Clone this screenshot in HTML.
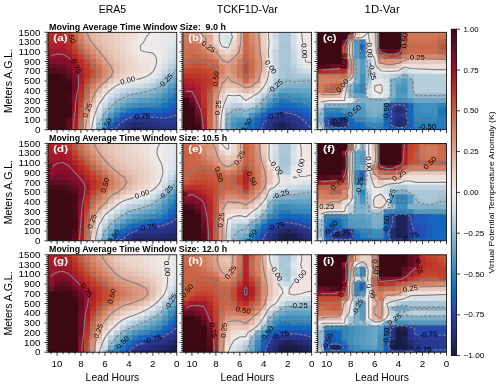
<!DOCTYPE html>
<html><head><meta charset="utf-8"><title>fig</title><style>html,body{margin:0;padding:0;background:#fff}svg{display:block;will-change:transform;font-family:"Liberation Sans",sans-serif}</style></head><body>
<svg width="500" height="386" viewBox="0 0 500 386" font-family="&quot;Liberation Sans&quot;, sans-serif">
<rect width="500" height="386" fill="#fff"/>
<defs>
<clipPath id="c00"><rect x="48.1" y="32.3" width="128.7" height="97.4"/></clipPath>
<clipPath id="c01"><rect x="182.95" y="32.3" width="128.7" height="97.4"/></clipPath>
<clipPath id="c02"><rect x="317.8" y="32.3" width="128.7" height="97.4"/></clipPath>
<clipPath id="c10"><rect x="48.1" y="143.4" width="128.7" height="97.4"/></clipPath>
<clipPath id="c11"><rect x="182.95" y="143.4" width="128.7" height="97.4"/></clipPath>
<clipPath id="c12"><rect x="317.8" y="143.4" width="128.7" height="97.4"/></clipPath>
<clipPath id="c20"><rect x="48.1" y="254.8" width="128.7" height="97.4"/></clipPath>
<clipPath id="c21"><rect x="182.95" y="254.8" width="128.7" height="97.4"/></clipPath>
<clipPath id="c22"><rect x="317.8" y="254.8" width="128.7" height="97.4"/></clipPath>
<linearGradient id="cb" x1="0" y1="0" x2="0" y2="1"><stop offset="0.0000" stop-color="#3c0912"/><stop offset="0.0156" stop-color="#470a17"/><stop offset="0.0312" stop-color="#520c1b"/><stop offset="0.0469" stop-color="#5d0d20"/><stop offset="0.0625" stop-color="#690e25"/><stop offset="0.0781" stop-color="#750e2b"/><stop offset="0.0938" stop-color="#820f2e"/><stop offset="0.1094" stop-color="#8d102d"/><stop offset="0.1250" stop-color="#98112d"/><stop offset="0.1406" stop-color="#a2192b"/><stop offset="0.1562" stop-color="#ad212a"/><stop offset="0.1719" stop-color="#b72828"/><stop offset="0.1875" stop-color="#bc322a"/><stop offset="0.2031" stop-color="#c03d2c"/><stop offset="0.2188" stop-color="#c3472f"/><stop offset="0.2344" stop-color="#c65338"/><stop offset="0.2500" stop-color="#c85f41"/><stop offset="0.2656" stop-color="#cb694b"/><stop offset="0.2812" stop-color="#ce7456"/><stop offset="0.2969" stop-color="#d17d60"/><stop offset="0.3125" stop-color="#d4866a"/><stop offset="0.3281" stop-color="#d68e74"/><stop offset="0.3438" stop-color="#d9967e"/><stop offset="0.3594" stop-color="#db9e88"/><stop offset="0.3750" stop-color="#dea692"/><stop offset="0.3906" stop-color="#e1b19f"/><stop offset="0.4062" stop-color="#e4bcac"/><stop offset="0.4219" stop-color="#e7c6b8"/><stop offset="0.4375" stop-color="#e9cec2"/><stop offset="0.4531" stop-color="#ecd6cc"/><stop offset="0.4688" stop-color="#eeddd6"/><stop offset="0.4844" stop-color="#efe5e1"/><stop offset="0.5000" stop-color="#f1eceb"/><stop offset="0.5156" stop-color="#e8e8ea"/><stop offset="0.5312" stop-color="#dfe4e9"/><stop offset="0.5469" stop-color="#d5dfe7"/><stop offset="0.5625" stop-color="#cad9e3"/><stop offset="0.5781" stop-color="#bdd1de"/><stop offset="0.5938" stop-color="#b0cad9"/><stop offset="0.6094" stop-color="#a3c2d3"/><stop offset="0.6250" stop-color="#96bace"/><stop offset="0.6406" stop-color="#89b4cb"/><stop offset="0.6562" stop-color="#7baec7"/><stop offset="0.6719" stop-color="#6ea7c5"/><stop offset="0.6875" stop-color="#60a0c3"/><stop offset="0.7031" stop-color="#529ac1"/><stop offset="0.7188" stop-color="#4593c0"/><stop offset="0.7344" stop-color="#388bbe"/><stop offset="0.7500" stop-color="#2b84bd"/><stop offset="0.7656" stop-color="#217cbd"/><stop offset="0.7812" stop-color="#1974be"/><stop offset="0.7969" stop-color="#136bbe"/><stop offset="0.8125" stop-color="#1763bc"/><stop offset="0.8281" stop-color="#1b5bbb"/><stop offset="0.8438" stop-color="#1f53ba"/><stop offset="0.8594" stop-color="#2449b0"/><stop offset="0.8750" stop-color="#2a3ea0"/><stop offset="0.8906" stop-color="#293a96"/><stop offset="0.9062" stop-color="#28368d"/><stop offset="0.9219" stop-color="#273283"/><stop offset="0.9375" stop-color="#262e79"/><stop offset="0.9531" stop-color="#242a6d"/><stop offset="0.9688" stop-color="#20255f"/><stop offset="0.9844" stop-color="#1c2151"/><stop offset="1.0000" stop-color="#181c43"/></linearGradient>
</defs>
<!-- panel a -->
<g clip-path="url(#c00)"><g transform="translate(48.10,29.865) scale(5.9860,4.8700)">
<path d="M0 0h1.2v1.3h-1.2z" fill="#bc322a"/>
<path d="M1 0h1.2v1.3h-1.2z" fill="#b92b28"/>
<path d="M2 0h1.2v1.3h-1.2z" fill="#bb3029"/>
<path d="M3 0h1.2v1.3h-1.2z" fill="#c44a31"/>
<path d="M4 0h1.2v1.3h-1.2z" fill="#cc6c4e"/>
<path d="M5 0h1.2v1.3h-1.2z" fill="#d68d73"/>
<path d="M6 0h1.2v1.3h-1.2z" fill="#dfa895"/>
<path d="M7 0h1.2v1.3h-1.2z" fill="#e3b7a6"/>
<path d="M8 0h1.2v1.3h-1.2z" fill="#e6c2b2"/>
<path d="M9 0h1.2v1.3h-1.2z" fill="#e8c8bb"/>
<path d="M10 0h1.2v1.3h-1.2z" fill="#e9cdc1"/>
<path d="M11 0h1.2v1.3h-1.2z" fill="#ebd2c8"/>
<path d="M12 0h1.2v1.3h-1.2z" fill="#ecd7ce"/>
<path d="M13 0h1.2v1.3h-1.2z" fill="#eeddd5"/>
<path d="M14 0h1.2v1.3h-1.2z" fill="#efe2dd"/>
<path d="M15 0h1.2v1.3h-1.2z" fill="#f0e7e3"/>
<path d="M16 0h1.2v1.3h-1.2z" fill="#f1ebe9"/>
<path d="M17 0h1.2v1.3h-1.2z" fill="#f0ebeb"/>
<path d="M18 0h1.2v1.3h-1.2z" fill="#eeebeb"/>
<path d="M19 0h1.2v1.3h-1.2z" fill="#ebeaeb"/>
<path d="M20 0h1.2v1.3h-1.2z" fill="#e9e8ea"/>
<path d="M21 0h1.2v1.3h-1.2z" fill="#e5e7ea"/>
<path d="M0 1h1.2v1.3h-1.2z" fill="#b92a28"/>
<path d="M1 1h1.2v1.3h-1.2z" fill="#b62828"/>
<path d="M2 1h1.2v1.3h-1.2z" fill="#b92b28"/>
<path d="M3 1h1.2v1.3h-1.2z" fill="#c1402d"/>
<path d="M4 1h1.2v1.3h-1.2z" fill="#ca6446"/>
<path d="M5 1h1.2v1.3h-1.2z" fill="#d4866b"/>
<path d="M6 1h1.2v1.3h-1.2z" fill="#dca18b"/>
<path d="M7 1h1.2v1.3h-1.2z" fill="#e2b4a3"/>
<path d="M8 1h1.2v1.3h-1.2z" fill="#e5c1b1"/>
<path d="M9 1h1.2v1.3h-1.2z" fill="#e7c8ba"/>
<path d="M10 1h1.2v1.3h-1.2z" fill="#e9cdc1"/>
<path d="M11 1h1.2v1.3h-1.2z" fill="#ead2c8"/>
<path d="M12 1h1.2v1.3h-1.2z" fill="#ecd7ce"/>
<path d="M13 1h1.2v1.3h-1.2z" fill="#eeddd5"/>
<path d="M14 1h1.2v1.3h-1.2z" fill="#efe3de"/>
<path d="M15 1h1.2v1.3h-1.2z" fill="#f0e9e6"/>
<path d="M16 1h1.2v1.3h-1.2z" fill="#f1eceb"/>
<path d="M17 1h1.2v1.3h-1.2z" fill="#eeebeb"/>
<path d="M18 1h1.2v1.3h-1.2z" fill="#eceaeb"/>
<path d="M19 1h1.2v1.3h-1.2z" fill="#e9e9ea"/>
<path d="M20 1h1.2v1.3h-1.2z" fill="#e6e7ea"/>
<path d="M21 1h1.2v1.3h-1.2z" fill="#e0e5e9"/>
<path d="M0 2h1.2v1.3h-1.2z" fill="#b52729"/>
<path d="M1 2h1.2v1.3h-1.2z" fill="#b42629"/>
<path d="M2 2h1.2v1.3h-1.2z" fill="#b12429"/>
<path d="M3 2h1.2v1.3h-1.2z" fill="#bc332a"/>
<path d="M4 2h1.2v1.3h-1.2z" fill="#c7583b"/>
<path d="M5 2h1.2v1.3h-1.2z" fill="#d17c5f"/>
<path d="M6 2h1.2v1.3h-1.2z" fill="#d99780"/>
<path d="M7 2h1.2v1.3h-1.2z" fill="#e0ad9a"/>
<path d="M8 2h1.2v1.3h-1.2z" fill="#e4bcab"/>
<path d="M9 2h1.2v1.3h-1.2z" fill="#e7c5b7"/>
<path d="M10 2h1.2v1.3h-1.2z" fill="#e9ccbf"/>
<path d="M11 2h1.2v1.3h-1.2z" fill="#ead1c6"/>
<path d="M12 2h1.2v1.3h-1.2z" fill="#ecd6cd"/>
<path d="M13 2h1.2v1.3h-1.2z" fill="#eeddd6"/>
<path d="M14 2h1.2v1.3h-1.2z" fill="#efe5e1"/>
<path d="M15 2h1.2v1.3h-1.2z" fill="#f1ebe9"/>
<path d="M16 2h1.2v1.3h-1.2z" fill="#efebeb"/>
<path d="M17 2h1.2v1.3h-1.2z" fill="#edeaeb"/>
<path d="M18 2h1.2v1.3h-1.2z" fill="#ebe9eb"/>
<path d="M19 2h1.2v1.3h-1.2z" fill="#e7e8ea"/>
<path d="M20 2h1.2v1.3h-1.2z" fill="#e2e6ea"/>
<path d="M21 2h1.2v1.3h-1.2z" fill="#dbe2e8"/>
<path d="M0 3h1.2v1.3h-1.2z" fill="#ad212a"/>
<path d="M1 3h1.2v1.3h-1.2z" fill="#ac202a"/>
<path d="M2 3h1.2v1.3h-1.2z" fill="#aa1f2a"/>
<path d="M3 3h1.2v1.3h-1.2z" fill="#b82928"/>
<path d="M4 3h1.2v1.3h-1.2z" fill="#c34830"/>
<path d="M5 3h1.2v1.3h-1.2z" fill="#cc6d4f"/>
<path d="M6 3h1.2v1.3h-1.2z" fill="#d58a6f"/>
<path d="M7 3h1.2v1.3h-1.2z" fill="#dca08a"/>
<path d="M8 3h1.2v1.3h-1.2z" fill="#e1b2a0"/>
<path d="M9 3h1.2v1.3h-1.2z" fill="#e5c0b1"/>
<path d="M10 3h1.2v1.3h-1.2z" fill="#e8c9bb"/>
<path d="M11 3h1.2v1.3h-1.2z" fill="#eacfc4"/>
<path d="M12 3h1.2v1.3h-1.2z" fill="#ecd6cd"/>
<path d="M13 3h1.2v1.3h-1.2z" fill="#eeded7"/>
<path d="M14 3h1.2v1.3h-1.2z" fill="#f0e7e3"/>
<path d="M15 3h1.2v1.3h-1.2z" fill="#f0eceb"/>
<path d="M16 3h1.2v1.3h-1.2z" fill="#efebeb"/>
<path d="M17 3h1.2v1.3h-1.2z" fill="#eeebeb"/>
<path d="M18 3h1.2v1.3h-1.2z" fill="#ebe9eb"/>
<path d="M19 3h1.2v1.3h-1.2z" fill="#e6e7ea"/>
<path d="M20 3h1.2v1.3h-1.2z" fill="#dfe4e9"/>
<path d="M21 3h1.2v1.3h-1.2z" fill="#d5dfe7"/>
<path d="M0 4h1.2v1.3h-1.2z" fill="#a1182c"/>
<path d="M1 4h2.2v1.3h-2.2z" fill="#9f162c"/>
<path d="M3 4h1.2v1.3h-1.2z" fill="#ac202a"/>
<path d="M4 4h1.2v1.3h-1.2z" fill="#be372b"/>
<path d="M5 4h1.2v1.3h-1.2z" fill="#c7583c"/>
<path d="M6 4h1.2v1.3h-1.2z" fill="#d0785b"/>
<path d="M7 4h1.2v1.3h-1.2z" fill="#d79178"/>
<path d="M8 4h1.2v1.3h-1.2z" fill="#dea590"/>
<path d="M9 4h1.2v1.3h-1.2z" fill="#e3b7a6"/>
<path d="M10 4h1.2v1.3h-1.2z" fill="#e6c4b6"/>
<path d="M11 4h1.2v1.3h-1.2z" fill="#e9ccc0"/>
<path d="M12 4h1.2v1.3h-1.2z" fill="#ebd4ca"/>
<path d="M13 4h1.2v1.3h-1.2z" fill="#eeddd5"/>
<path d="M14 4h1.2v1.3h-1.2z" fill="#efe5e1"/>
<path d="M15 4h2.2v1.3h-2.2z" fill="#f1eceb"/>
<path d="M17 4h1.2v1.3h-1.2z" fill="#f0eceb"/>
<path d="M18 4h1.2v1.3h-1.2z" fill="#eceaeb"/>
<path d="M19 4h1.2v1.3h-1.2z" fill="#e5e7ea"/>
<path d="M20 4h1.2v1.3h-1.2z" fill="#dbe2e8"/>
<path d="M21 4h1.2v1.3h-1.2z" fill="#cfdce6"/>
<path d="M0 5h1.2v1.3h-1.2z" fill="#95112d"/>
<path d="M1 5h2.2v1.3h-2.2z" fill="#90102d"/>
<path d="M3 5h1.2v1.3h-1.2z" fill="#9c142c"/>
<path d="M4 5h1.2v1.3h-1.2z" fill="#b42629"/>
<path d="M5 5h1.2v1.3h-1.2z" fill="#c2422d"/>
<path d="M6 5h1.2v1.3h-1.2z" fill="#c96345"/>
<path d="M7 5h1.2v1.3h-1.2z" fill="#d27f63"/>
<path d="M8 5h1.2v1.3h-1.2z" fill="#d99780"/>
<path d="M9 5h1.2v1.3h-1.2z" fill="#e0ac99"/>
<path d="M10 5h1.2v1.3h-1.2z" fill="#e4bdad"/>
<path d="M11 5h1.2v1.3h-1.2z" fill="#e7c8ba"/>
<path d="M12 5h1.2v1.3h-1.2z" fill="#ead1c6"/>
<path d="M13 5h1.2v1.3h-1.2z" fill="#ecd9d0"/>
<path d="M14 5h1.2v1.3h-1.2z" fill="#eee0da"/>
<path d="M15 5h1.2v1.3h-1.2z" fill="#f0e5e1"/>
<path d="M16 5h1.2v1.3h-1.2z" fill="#f0e8e5"/>
<path d="M17 5h1.2v1.3h-1.2z" fill="#f0eae8"/>
<path d="M18 5h1.2v1.3h-1.2z" fill="#eeebeb"/>
<path d="M19 5h1.2v1.3h-1.2z" fill="#e3e6ea"/>
<path d="M20 5h1.2v1.3h-1.2z" fill="#d5e0e7"/>
<path d="M21 5h1.2v1.3h-1.2z" fill="#c5d6e1"/>
<path d="M0 6h1.2v1.3h-1.2z" fill="#800f2e"/>
<path d="M1 6h1.2v1.3h-1.2z" fill="#7f0f2e"/>
<path d="M2 6h1.2v1.3h-1.2z" fill="#800f2e"/>
<path d="M3 6h1.2v1.3h-1.2z" fill="#8c102d"/>
<path d="M4 6h1.2v1.3h-1.2z" fill="#a41a2b"/>
<path d="M5 6h1.2v1.3h-1.2z" fill="#bb3029"/>
<path d="M6 6h1.2v1.3h-1.2z" fill="#c44c33"/>
<path d="M7 6h1.2v1.3h-1.2z" fill="#cc6b4d"/>
<path d="M8 6h1.2v1.3h-1.2z" fill="#d4886c"/>
<path d="M9 6h1.2v1.3h-1.2z" fill="#dc9f8a"/>
<path d="M10 6h1.2v1.3h-1.2z" fill="#e2b3a1"/>
<path d="M11 6h1.2v1.3h-1.2z" fill="#e6c2b3"/>
<path d="M12 6h1.2v1.3h-1.2z" fill="#e9ccc0"/>
<path d="M13 6h1.2v1.3h-1.2z" fill="#ebd5cb"/>
<path d="M14 6h1.2v1.3h-1.2z" fill="#eddcd4"/>
<path d="M15 6h1.2v1.3h-1.2z" fill="#efe1db"/>
<path d="M16 6h1.2v1.3h-1.2z" fill="#efe4df"/>
<path d="M17 6h1.2v1.3h-1.2z" fill="#f0e7e4"/>
<path d="M18 6h1.2v1.3h-1.2z" fill="#eeebeb"/>
<path d="M19 6h1.2v1.3h-1.2z" fill="#dfe4e9"/>
<path d="M20 6h1.2v1.3h-1.2z" fill="#cddbe5"/>
<path d="M21 6h1.2v1.3h-1.2z" fill="#b7cedc"/>
<path d="M0 7h1.2v1.3h-1.2z" fill="#650d24"/>
<path d="M1 7h1.2v1.3h-1.2z" fill="#680e25"/>
<path d="M2 7h1.2v1.3h-1.2z" fill="#6d0e27"/>
<path d="M3 7h1.2v1.3h-1.2z" fill="#7e0f2e"/>
<path d="M4 7h1.2v1.3h-1.2z" fill="#98112d"/>
<path d="M5 7h1.2v1.3h-1.2z" fill="#b22529"/>
<path d="M6 7h1.2v1.3h-1.2z" fill="#c03d2c"/>
<path d="M7 7h1.2v1.3h-1.2z" fill="#c7583c"/>
<path d="M8 7h1.2v1.3h-1.2z" fill="#cf7759"/>
<path d="M9 7h1.2v1.3h-1.2z" fill="#d89279"/>
<path d="M10 7h1.2v1.3h-1.2z" fill="#dea793"/>
<path d="M11 7h1.2v1.3h-1.2z" fill="#e4bbaa"/>
<path d="M12 7h1.2v1.3h-1.2z" fill="#e8c9bc"/>
<path d="M13 7h1.2v1.3h-1.2z" fill="#ebd3c8"/>
<path d="M14 7h1.2v1.3h-1.2z" fill="#edd9d1"/>
<path d="M15 7h1.2v1.3h-1.2z" fill="#eeded7"/>
<path d="M16 7h1.2v1.3h-1.2z" fill="#efe2dd"/>
<path d="M17 7h1.2v1.3h-1.2z" fill="#f0e7e4"/>
<path d="M18 7h1.2v1.3h-1.2z" fill="#eae9ea"/>
<path d="M19 7h1.2v1.3h-1.2z" fill="#d6e0e7"/>
<path d="M20 7h1.2v1.3h-1.2z" fill="#bed2de"/>
<path d="M21 7h1.2v1.3h-1.2z" fill="#a6c4d5"/>
<path d="M0 8h1.2v1.3h-1.2z" fill="#4e0b1a"/>
<path d="M1 8h1.2v1.3h-1.2z" fill="#520c1c"/>
<path d="M2 8h1.2v1.3h-1.2z" fill="#5a0c1f"/>
<path d="M3 8h1.2v1.3h-1.2z" fill="#6e0e28"/>
<path d="M4 8h1.2v1.3h-1.2z" fill="#8d102d"/>
<path d="M5 8h1.2v1.3h-1.2z" fill="#ab1f2a"/>
<path d="M6 8h1.2v1.3h-1.2z" fill="#bd352a"/>
<path d="M7 8h1.2v1.3h-1.2z" fill="#c44d33"/>
<path d="M8 8h1.2v1.3h-1.2z" fill="#cc6b4d"/>
<path d="M9 8h1.2v1.3h-1.2z" fill="#d58b70"/>
<path d="M10 8h1.2v1.3h-1.2z" fill="#dca08a"/>
<path d="M11 8h1.2v1.3h-1.2z" fill="#e3b8a7"/>
<path d="M12 8h1.2v1.3h-1.2z" fill="#e8cabe"/>
<path d="M13 8h1.2v1.3h-1.2z" fill="#ebd5cb"/>
<path d="M14 8h1.2v1.3h-1.2z" fill="#eddbd3"/>
<path d="M15 8h1.2v1.3h-1.2z" fill="#eee0d9"/>
<path d="M16 8h1.2v1.3h-1.2z" fill="#efe4df"/>
<path d="M17 8h1.2v1.3h-1.2z" fill="#f1ebe9"/>
<path d="M18 8h1.2v1.3h-1.2z" fill="#e1e5ea"/>
<path d="M19 8h1.2v1.3h-1.2z" fill="#c7d8e2"/>
<path d="M20 8h1.2v1.3h-1.2z" fill="#aac6d6"/>
<path d="M21 8h1.2v1.3h-1.2z" fill="#90b7cd"/>
<path d="M0 9h1.2v1.3h-1.2z" fill="#3c0912"/>
<path d="M1 9h1.2v1.3h-1.2z" fill="#3f0913"/>
<path d="M2 9h1.2v1.3h-1.2z" fill="#460a16"/>
<path d="M3 9h1.2v1.3h-1.2z" fill="#5b0c1f"/>
<path d="M4 9h1.2v1.3h-1.2z" fill="#830f2e"/>
<path d="M5 9h1.2v1.3h-1.2z" fill="#a81d2b"/>
<path d="M6 9h1.2v1.3h-1.2z" fill="#be372b"/>
<path d="M7 9h1.2v1.3h-1.2z" fill="#c55237"/>
<path d="M8 9h1.2v1.3h-1.2z" fill="#ce7355"/>
<path d="M9 9h1.2v1.3h-1.2z" fill="#d79076"/>
<path d="M10 9h1.2v1.3h-1.2z" fill="#dea591"/>
<path d="M11 9h1.2v1.3h-1.2z" fill="#e6c3b4"/>
<path d="M12 9h1.2v1.3h-1.2z" fill="#ebd3c9"/>
<path d="M13 9h1.2v1.3h-1.2z" fill="#eedcd5"/>
<path d="M14 9h1.2v1.3h-1.2z" fill="#efe2dc"/>
<path d="M15 9h1.2v1.3h-1.2z" fill="#f0e6e2"/>
<path d="M16 9h1.2v1.3h-1.2z" fill="#f1ebe9"/>
<path d="M17 9h1.2v1.3h-1.2z" fill="#e7e8ea"/>
<path d="M18 9h1.2v1.3h-1.2z" fill="#d2dee6"/>
<path d="M19 9h1.2v1.3h-1.2z" fill="#b1cbd9"/>
<path d="M20 9h1.2v1.3h-1.2z" fill="#92b8cd"/>
<path d="M21 9h1.2v1.3h-1.2z" fill="#79acc7"/>
<path d="M0 10h3.2v1.3h-3.2z" fill="#3c0912"/>
<path d="M3 10h1.2v1.3h-1.2z" fill="#480a17"/>
<path d="M4 10h1.2v1.3h-1.2z" fill="#7a0f2c"/>
<path d="M5 10h1.2v1.3h-1.2z" fill="#ac202a"/>
<path d="M6 10h1.2v1.3h-1.2z" fill="#c2442e"/>
<path d="M7 10h1.2v1.3h-1.2z" fill="#cb684a"/>
<path d="M8 10h1.2v1.3h-1.2z" fill="#d4876c"/>
<path d="M9 10h1.2v1.3h-1.2z" fill="#dca18c"/>
<path d="M10 10h1.2v1.3h-1.2z" fill="#e6c2b3"/>
<path d="M11 10h1.2v1.3h-1.2z" fill="#ecd7ce"/>
<path d="M12 10h1.2v1.3h-1.2z" fill="#efe3df"/>
<path d="M13 10h1.2v1.3h-1.2z" fill="#f1eae8"/>
<path d="M14 10h1.2v1.3h-1.2z" fill="#eeebeb"/>
<path d="M15 10h1.2v1.3h-1.2z" fill="#e8e8ea"/>
<path d="M16 10h1.2v1.3h-1.2z" fill="#e0e4e9"/>
<path d="M17 10h1.2v1.3h-1.2z" fill="#d1dee6"/>
<path d="M18 10h1.2v1.3h-1.2z" fill="#b9cfdc"/>
<path d="M19 10h1.2v1.3h-1.2z" fill="#99bccf"/>
<path d="M20 10h1.2v1.3h-1.2z" fill="#78acc7"/>
<path d="M21 10h1.2v1.3h-1.2z" fill="#5d9fc2"/>
<path d="M0 11h4.2v1.3h-4.2z" fill="#3c0912"/>
<path d="M4 11h1.2v1.3h-1.2z" fill="#6f0e28"/>
<path d="M5 11h1.2v1.3h-1.2z" fill="#b42629"/>
<path d="M6 11h1.2v1.3h-1.2z" fill="#c6563a"/>
<path d="M7 11h1.2v1.3h-1.2z" fill="#d28064"/>
<path d="M8 11h1.2v1.3h-1.2z" fill="#dca08b"/>
<path d="M9 11h1.2v1.3h-1.2z" fill="#e6c3b4"/>
<path d="M10 11h1.2v1.3h-1.2z" fill="#eeddd5"/>
<path d="M11 11h1.2v1.3h-1.2z" fill="#eeebeb"/>
<path d="M12 11h1.2v1.3h-1.2z" fill="#e3e6ea"/>
<path d="M13 11h1.2v1.3h-1.2z" fill="#dbe2e8"/>
<path d="M14 11h1.2v1.3h-1.2z" fill="#d4dfe7"/>
<path d="M15 11h1.2v1.3h-1.2z" fill="#ccdbe4"/>
<path d="M16 11h1.2v1.3h-1.2z" fill="#c1d4e0"/>
<path d="M17 11h1.2v1.3h-1.2z" fill="#b2cbd9"/>
<path d="M18 11h1.2v1.3h-1.2z" fill="#9ebfd2"/>
<path d="M19 11h1.2v1.3h-1.2z" fill="#7fafc8"/>
<path d="M20 11h1.2v1.3h-1.2z" fill="#5b9ec2"/>
<path d="M21 11h1.2v1.3h-1.2z" fill="#3e8fbf"/>
<path d="M0 12h3.2v1.3h-3.2z" fill="#3c0912"/>
<path d="M3 12h1.2v1.3h-1.2z" fill="#3d0912"/>
<path d="M4 12h1.2v1.3h-1.2z" fill="#790f2c"/>
<path d="M5 12h1.2v1.3h-1.2z" fill="#ba2c28"/>
<path d="M6 12h1.2v1.3h-1.2z" fill="#c96244"/>
<path d="M7 12h1.2v1.3h-1.2z" fill="#d79178"/>
<path d="M8 12h1.2v1.3h-1.2z" fill="#e4bbaa"/>
<path d="M9 12h1.2v1.3h-1.2z" fill="#eddbd3"/>
<path d="M10 12h1.2v1.3h-1.2z" fill="#eae9eb"/>
<path d="M11 12h1.2v1.3h-1.2z" fill="#d6e0e7"/>
<path d="M12 12h1.2v1.3h-1.2z" fill="#c7d7e2"/>
<path d="M13 12h1.2v1.3h-1.2z" fill="#bacfdd"/>
<path d="M14 12h1.2v1.3h-1.2z" fill="#afc9d8"/>
<path d="M15 12h1.2v1.3h-1.2z" fill="#a5c3d4"/>
<path d="M16 12h1.2v1.3h-1.2z" fill="#9cbed1"/>
<path d="M17 12h1.2v1.3h-1.2z" fill="#90b7cd"/>
<path d="M18 12h1.2v1.3h-1.2z" fill="#7caec8"/>
<path d="M19 12h1.2v1.3h-1.2z" fill="#5fa0c3"/>
<path d="M20 12h1.2v1.3h-1.2z" fill="#3e8fbf"/>
<path d="M21 12h1.2v1.3h-1.2z" fill="#2580bd"/>
<path d="M0 13h3.2v1.3h-3.2z" fill="#3c0912"/>
<path d="M3 13h1.2v1.3h-1.2z" fill="#460a16"/>
<path d="M4 13h1.2v1.3h-1.2z" fill="#87102e"/>
<path d="M5 13h1.2v1.3h-1.2z" fill="#bc332a"/>
<path d="M6 13h1.2v1.3h-1.2z" fill="#cd6f51"/>
<path d="M7 13h1.2v1.3h-1.2z" fill="#dca18c"/>
<path d="M8 13h1.2v1.3h-1.2z" fill="#eacfc4"/>
<path d="M9 13h1.2v1.3h-1.2z" fill="#f0eceb"/>
<path d="M10 13h1.2v1.3h-1.2z" fill="#d5dfe7"/>
<path d="M11 13h1.2v1.3h-1.2z" fill="#bad0dd"/>
<path d="M12 13h1.2v1.3h-1.2z" fill="#a5c3d4"/>
<path d="M13 13h1.2v1.3h-1.2z" fill="#95bace"/>
<path d="M14 13h1.2v1.3h-1.2z" fill="#89b4cb"/>
<path d="M15 13h1.2v1.3h-1.2z" fill="#80b0c9"/>
<path d="M16 13h1.2v1.3h-1.2z" fill="#79acc7"/>
<path d="M17 13h1.2v1.3h-1.2z" fill="#6ea7c5"/>
<path d="M18 13h1.2v1.3h-1.2z" fill="#5c9ec2"/>
<path d="M19 13h1.2v1.3h-1.2z" fill="#4391bf"/>
<path d="M20 13h1.2v1.3h-1.2z" fill="#2782bd"/>
<path d="M21 13h1.2v1.3h-1.2z" fill="#1b75be"/>
<path d="M0 14h3.2v1.3h-3.2z" fill="#3c0912"/>
<path d="M3 14h1.2v1.3h-1.2z" fill="#460a16"/>
<path d="M4 14h1.2v1.3h-1.2z" fill="#8e102d"/>
<path d="M5 14h1.2v1.3h-1.2z" fill="#bf3b2c"/>
<path d="M6 14h1.2v1.3h-1.2z" fill="#d17c5f"/>
<path d="M7 14h1.2v1.3h-1.2z" fill="#e2b5a3"/>
<path d="M8 14h1.2v1.3h-1.2z" fill="#efe0da"/>
<path d="M9 14h1.2v1.3h-1.2z" fill="#dde3e9"/>
<path d="M10 14h1.2v1.3h-1.2z" fill="#bad0dd"/>
<path d="M11 14h1.2v1.3h-1.2z" fill="#9cbdd0"/>
<path d="M12 14h1.2v1.3h-1.2z" fill="#83b1c9"/>
<path d="M13 14h1.2v1.3h-1.2z" fill="#70a8c5"/>
<path d="M14 14h1.2v1.3h-1.2z" fill="#64a2c3"/>
<path d="M15 14h1.2v1.3h-1.2z" fill="#5c9fc2"/>
<path d="M16 14h1.2v1.3h-1.2z" fill="#569cc1"/>
<path d="M17 14h1.2v1.3h-1.2z" fill="#4e97c0"/>
<path d="M18 14h1.2v1.3h-1.2z" fill="#4090bf"/>
<path d="M19 14h1.2v1.3h-1.2z" fill="#2b85bd"/>
<path d="M20 14h1.2v1.3h-1.2z" fill="#1b76be"/>
<path d="M21 14h1.2v1.3h-1.2z" fill="#136abe"/>
<path d="M0 15h4.2v1.3h-4.2z" fill="#3c0912"/>
<path d="M4 15h1.2v1.3h-1.2z" fill="#92112d"/>
<path d="M5 15h1.2v1.3h-1.2z" fill="#c2442e"/>
<path d="M6 15h1.2v1.3h-1.2z" fill="#d58b70"/>
<path d="M7 15h1.2v1.3h-1.2z" fill="#e8c9bb"/>
<path d="M8 15h1.2v1.3h-1.2z" fill="#eceaeb"/>
<path d="M9 15h1.2v1.3h-1.2z" fill="#c5d6e1"/>
<path d="M10 15h1.2v1.3h-1.2z" fill="#9dbed1"/>
<path d="M11 15h1.2v1.3h-1.2z" fill="#79acc7"/>
<path d="M12 15h1.2v1.3h-1.2z" fill="#5a9ec2"/>
<path d="M13 15h1.2v1.3h-1.2z" fill="#4693c0"/>
<path d="M14 15h1.2v1.3h-1.2z" fill="#3b8dbf"/>
<path d="M15 15h1.2v1.3h-1.2z" fill="#368abe"/>
<path d="M16 15h1.2v1.3h-1.2z" fill="#3389be"/>
<path d="M17 15h1.2v1.3h-1.2z" fill="#2d86bd"/>
<path d="M18 15h1.2v1.3h-1.2z" fill="#247fbd"/>
<path d="M19 15h1.2v1.3h-1.2z" fill="#1974be"/>
<path d="M20 15h1.2v1.3h-1.2z" fill="#1467bd"/>
<path d="M21 15h1.2v1.3h-1.2z" fill="#1a5ebb"/>
<path d="M0 16h4.2v1.3h-4.2z" fill="#3c0912"/>
<path d="M4 16h1.2v1.3h-1.2z" fill="#94112d"/>
<path d="M5 16h1.2v1.3h-1.2z" fill="#c54e34"/>
<path d="M6 16h1.2v1.3h-1.2z" fill="#d99880"/>
<path d="M7 16h1.2v1.3h-1.2z" fill="#ecd6cd"/>
<path d="M8 16h1.2v1.3h-1.2z" fill="#dbe2e8"/>
<path d="M9 16h1.2v1.3h-1.2z" fill="#a8c5d5"/>
<path d="M10 16h1.2v1.3h-1.2z" fill="#7aadc7"/>
<path d="M11 16h1.2v1.3h-1.2z" fill="#4f98c0"/>
<path d="M12 16h1.2v1.3h-1.2z" fill="#2e86be"/>
<path d="M13 16h1.2v1.3h-1.2z" fill="#1d78bd"/>
<path d="M14 16h1.2v1.3h-1.2z" fill="#1670be"/>
<path d="M15 16h1.2v1.3h-1.2z" fill="#136dbe"/>
<path d="M16 16h1.2v1.3h-1.2z" fill="#136bbe"/>
<path d="M17 16h1.2v1.3h-1.2z" fill="#1369be"/>
<path d="M18 16h1.2v1.3h-1.2z" fill="#1566bd"/>
<path d="M19 16h1.2v1.3h-1.2z" fill="#195fbc"/>
<path d="M20 16h1.2v1.3h-1.2z" fill="#1d58ba"/>
<path d="M21 16h1.2v1.3h-1.2z" fill="#2151b9"/>
<path d="M0 17h3.2v1.3h-3.2z" fill="#3c0912"/>
<path d="M3 17h1.2v1.3h-1.2z" fill="#3f0913"/>
<path d="M4 17h1.2v1.3h-1.2z" fill="#a2192b"/>
<path d="M5 17h1.2v1.3h-1.2z" fill="#c6573b"/>
<path d="M6 17h1.2v1.3h-1.2z" fill="#dda38e"/>
<path d="M7 17h1.2v1.3h-1.2z" fill="#efe1dc"/>
<path d="M8 17h1.2v1.3h-1.2z" fill="#c7d8e2"/>
<path d="M9 17h1.2v1.3h-1.2z" fill="#88b4cb"/>
<path d="M10 17h1.2v1.3h-1.2z" fill="#5098c1"/>
<path d="M11 17h1.2v1.3h-1.2z" fill="#237ebd"/>
<path d="M12 17h1.2v1.3h-1.2z" fill="#1566bd"/>
<path d="M13 17h1.2v1.3h-1.2z" fill="#1e56ba"/>
<path d="M14 17h1.2v1.3h-1.2z" fill="#214fb8"/>
<path d="M15 17h1.2v1.3h-1.2z" fill="#234cb4"/>
<path d="M16 17h1.2v1.3h-1.2z" fill="#244ab1"/>
<path d="M17 17h1.2v1.3h-1.2z" fill="#234cb4"/>
<path d="M18 17h1.2v1.3h-1.2z" fill="#224db5"/>
<path d="M19 17h1.2v1.3h-1.2z" fill="#234cb3"/>
<path d="M20 17h1.2v1.3h-1.2z" fill="#2745aa"/>
<path d="M21 17h1.2v1.3h-1.2z" fill="#2a3e9f"/>
<path d="M0 18h3.2v1.3h-3.2z" fill="#3c0912"/>
<path d="M3 18h1.2v1.3h-1.2z" fill="#520c1b"/>
<path d="M4 18h1.2v1.3h-1.2z" fill="#a81d2b"/>
<path d="M5 18h1.2v1.3h-1.2z" fill="#c86042"/>
<path d="M6 18h1.2v1.3h-1.2z" fill="#e1b19f"/>
<path d="M7 18h1.2v1.3h-1.2z" fill="#f1ebe9"/>
<path d="M8 18h1.2v1.3h-1.2z" fill="#b0cad9"/>
<path d="M9 18h1.2v1.3h-1.2z" fill="#67a4c4"/>
<path d="M10 18h1.2v1.3h-1.2z" fill="#2883bd"/>
<path d="M11 18h1.2v1.3h-1.2z" fill="#1861bc"/>
<path d="M12 18h1.2v1.3h-1.2z" fill="#2744a8"/>
<path d="M13 18h1.2v1.3h-1.2z" fill="#293993"/>
<path d="M14 18h1.2v1.3h-1.2z" fill="#28368c"/>
<path d="M15 18h1.2v1.3h-1.2z" fill="#28358b"/>
<path d="M16 18h1.2v1.3h-1.2z" fill="#28368d"/>
<path d="M17 18h1.2v1.3h-1.2z" fill="#293891"/>
<path d="M18 18h1.2v1.3h-1.2z" fill="#293a95"/>
<path d="M19 18h1.2v1.3h-1.2z" fill="#293b98"/>
<path d="M20 18h1.2v1.3h-1.2z" fill="#293a95"/>
<path d="M21 18h1.2v1.3h-1.2z" fill="#293993"/>
<path d="M0 19h3.2v1.3h-3.2z" fill="#3c0912"/>
<path d="M3 19h1.2v1.3h-1.2z" fill="#580c1e"/>
<path d="M4 19h1.2v1.3h-1.2z" fill="#ac202a"/>
<path d="M5 19h1.2v1.3h-1.2z" fill="#ca6648"/>
<path d="M6 19h1.2v1.3h-1.2z" fill="#e4baaa"/>
<path d="M7 19h1.2v1.3h-1.2z" fill="#eae9eb"/>
<path d="M8 19h1.2v1.3h-1.2z" fill="#95b9ce"/>
<path d="M9 19h1.2v1.3h-1.2z" fill="#4090bf"/>
<path d="M10 19h1.2v1.3h-1.2z" fill="#1861bc"/>
<path d="M11 19h1.2v1.3h-1.2z" fill="#2645aa"/>
<path d="M12 19h1.2v1.3h-1.2z" fill="#28378f"/>
<path d="M13 19h1.2v1.3h-1.2z" fill="#262f7b"/>
<path d="M14 19h1.2v1.3h-1.2z" fill="#232a6c"/>
<path d="M15 19h1.2v1.3h-1.2z" fill="#242b6f"/>
<path d="M16 19h1.2v1.3h-1.2z" fill="#262e77"/>
<path d="M17 19h1.2v1.3h-1.2z" fill="#27307e"/>
<path d="M18 19h1.2v1.3h-1.2z" fill="#273283"/>
<path d="M19 19h3.2v1.3h-3.2z" fill="#283487"/>
<path d="M0 20h3.2v1.3h-3.2z" fill="#3c0912"/>
<path d="M3 20h1.2v1.3h-1.2z" fill="#5f0d21"/>
<path d="M4 20h1.2v1.3h-1.2z" fill="#b12429"/>
<path d="M5 20h1.2v1.3h-1.2z" fill="#cc6d4f"/>
<path d="M6 20h1.2v1.3h-1.2z" fill="#e6c2b3"/>
<path d="M7 20h1.2v1.3h-1.2z" fill="#e0e5e9"/>
<path d="M8 20h1.2v1.3h-1.2z" fill="#74aac6"/>
<path d="M9 20h1.2v1.3h-1.2z" fill="#1d77be"/>
<path d="M10 20h1.2v1.3h-1.2z" fill="#293c9a"/>
<path d="M11 20h1.2v1.3h-1.2z" fill="#2a3c9c"/>
<path d="M12 20h1.2v1.3h-1.2z" fill="#273385"/>
<path d="M13 20h1.2v1.3h-1.2z" fill="#23296b"/>
<path d="M14 20h1.2v1.3h-1.2z" fill="#1c2152"/>
<path d="M15 20h1.2v1.3h-1.2z" fill="#1f245b"/>
<path d="M16 20h1.2v1.3h-1.2z" fill="#212866"/>
<path d="M17 20h1.2v1.3h-1.2z" fill="#242b6f"/>
<path d="M18 20h1.2v1.3h-1.2z" fill="#262d77"/>
<path d="M19 20h1.2v1.3h-1.2z" fill="#262f7b"/>
<path d="M20 20h1.2v1.3h-1.2z" fill="#27307d"/>
<path d="M21 20h1.2v1.3h-1.2z" fill="#27307e"/>
</g></g>
<g clip-path="url(#c00)" fill="none" stroke="#808080" stroke-width="1.1" stroke-linejoin="round">
<path d="M110.4 129.7L111.0 129.0L116.9 127.8L118.6 124.8L122.9 121.1L124.6 120.0L128.9 118.2L131.9 117.7M150.6 117.1L158.8 117.8L164.8 118.0L170.8 116.9L176.8 114.9" stroke-dasharray="3,1.6"/>
<path d="M112.0 118.6L116.9 114.0L122.9 110.5L128.9 108.2L134.9 107.0L152.9 105.7L158.8 103.9L165.1 100.5L170.8 94.8L176.8 89.4" stroke-dasharray="3,1.6"/>
<path d="M97.2 129.7L99.0 124.6L101.2 120.0L105.0 113.0L107.3 110.2L111.0 106.4L116.9 101.3L122.9 97.8L128.9 95.5L134.9 93.9L146.9 91.6L152.9 89.9L158.2 87.4M172.0 74.3L176.8 70.0" stroke-dasharray="3,1.6"/>
<path d="M91.4 129.7L93.2 120.0L94.5 115.1L96.3 110.2L99.0 104.1L105.0 95.4L109.5 90.7L111.0 89.5L116.0 85.9L116.9 85.3L120.3 84.1M136.4 79.6L140.9 78.4L147.6 76.1L152.9 71.8L153.3 71.3L155.5 66.4L156.8 61.5L155.9 56.6L152.9 53.1L146.9 52.0L144.3 51.8L140.9 50.4L140.2 46.9L140.9 45.1L143.6 42.0L146.9 36.1L150.0 32.3"/>
<path d="M85.3 129.7L86.5 119.2M91.0 102.6L93.0 97.1L96.5 90.7L99.0 87.3L100.3 85.9L106.1 81.0L111.2 76.1L112.9 71.3L110.8 66.4L107.5 61.5L95.5 46.9L93.0 44.2L91.5 42.0L87.0 33.4L86.7 32.3"/>
<path d="M79.9 129.7L82.1 110.2L84.1 100.5L87.0 89.2L88.1 85.9L91.4 81.0L95.1 76.1L96.4 71.3L94.2 66.4L90.4 61.5L81.0 50.4L78.5 46.9L76.8 43.4"/>
<path d="M73.0 129.7L74.4 115.1L75.4 110.2L75.5 105.3L76.0 100.5L76.6 95.6L77.7 90.7L78.4 85.9L78.5 81.0L78.3 76.1L78.0 74.7M70.5 59.7L69.1 57.9L63.1 54.2L57.1 54.1L51.1 55.5"/>
</g>
<g clip-path="url(#c00)" font-size="7.2" fill="#000" text-anchor="middle">
<text transform="translate(71.5,35.9) rotate(75)" y="2.5" textLength="15.1" lengthAdjust="spacingAndGlyphs">0.50</text>
<text transform="translate(76.3,66.2) rotate(65)" y="2.5" textLength="15.1" lengthAdjust="spacingAndGlyphs">0.75</text>
<text transform="translate(87.5,110.4) rotate(-70)" y="2.5" textLength="15.1" lengthAdjust="spacingAndGlyphs">0.25</text>
<text transform="translate(127.7,80.4) rotate(-15)" y="2.5" textLength="15.1" lengthAdjust="spacingAndGlyphs">0.00</text>
<text transform="translate(165.3,80.9) rotate(-45)" y="2.5" textLength="17.6" lengthAdjust="spacingAndGlyphs">-0.25</text>
<text transform="translate(105.8,126.5) rotate(-65)" y="2.5" textLength="17.6" lengthAdjust="spacingAndGlyphs">-0.50</text>
<text transform="translate(141.1,116.3) rotate(-5)" y="2.5" textLength="17.6" lengthAdjust="spacingAndGlyphs">-0.75</text>
</g>
<rect x="48.1" y="32.3" width="128.7" height="97.4" fill="none" stroke="#000" stroke-width="0.8"/>
<path d="M176.80,129.70v3.5 M170.81,129.70v2.0 M164.83,129.70v2.0 M158.84,129.70v2.0 M152.86,129.70v3.5 M146.87,129.70v2.0 M140.88,129.70v2.0 M134.90,129.70v2.0 M128.91,129.70v3.5 M122.93,129.70v2.0 M116.94,129.70v2.0 M110.95,129.70v2.0 M104.97,129.70v3.5 M98.98,129.70v2.0 M93.00,129.70v2.0 M87.01,129.70v2.0 M81.02,129.70v3.5 M75.04,129.70v2.0 M69.05,129.70v2.0 M63.07,129.70v2.0 M57.08,129.70v3.5 M51.09,129.70v2.0 M48.10,129.70h-3.5 M48.10,127.75h-2.0 M48.10,125.80h-2.0 M48.10,123.86h-2.0 M48.10,121.91h-2.0 M48.10,119.96h-3.5 M48.10,118.01h-2.0 M48.10,116.06h-2.0 M48.10,114.12h-2.0 M48.10,112.17h-2.0 M48.10,110.22h-3.5 M48.10,108.27h-2.0 M48.10,106.32h-2.0 M48.10,104.38h-2.0 M48.10,102.43h-2.0 M48.10,100.48h-3.5 M48.10,98.53h-2.0 M48.10,96.58h-2.0 M48.10,94.64h-2.0 M48.10,92.69h-2.0 M48.10,90.74h-3.5 M48.10,88.79h-2.0 M48.10,86.84h-2.0 M48.10,84.90h-2.0 M48.10,82.95h-2.0 M48.10,81.00h-3.5 M48.10,79.05h-2.0 M48.10,77.10h-2.0 M48.10,75.16h-2.0 M48.10,73.21h-2.0 M48.10,71.26h-3.5 M48.10,69.31h-2.0 M48.10,67.36h-2.0 M48.10,65.42h-2.0 M48.10,63.47h-2.0 M48.10,61.52h-3.5 M48.10,59.57h-2.0 M48.10,57.62h-2.0 M48.10,55.68h-2.0 M48.10,53.73h-2.0 M48.10,51.78h-3.5 M48.10,49.83h-2.0 M48.10,47.88h-2.0 M48.10,45.94h-2.0 M48.10,43.99h-2.0 M48.10,42.04h-3.5 M48.10,40.09h-2.0 M48.10,38.14h-2.0 M48.10,36.20h-2.0 M48.10,34.25h-2.0 M48.10,32.30h-3.5" stroke="#000" stroke-width="0.8" fill="none"/>
<text x="53.30" y="41.20" font-size="9.6" text-anchor="start" fill="#fff" font-weight="bold" textLength="14.30" lengthAdjust="spacingAndGlyphs">(a)</text>
<!-- panel b -->
<g clip-path="url(#c01)"><g transform="translate(182.95,29.865) scale(5.9860,4.8700)">
<path d="M0 0h1.2v1.3h-1.2z" fill="#d28266"/>
<path d="M1 0h1.2v1.3h-1.2z" fill="#d79279"/>
<path d="M2 0h1.2v1.3h-1.2z" fill="#dda38f"/>
<path d="M3 0h1.2v1.3h-1.2z" fill="#e1b19f"/>
<path d="M4 0h1.2v1.3h-1.2z" fill="#e6c4b5"/>
<path d="M5 0h1.2v1.3h-1.2z" fill="#eee0da"/>
<path d="M6 0h1.2v1.3h-1.2z" fill="#e9e8ea"/>
<path d="M7 0h1.2v1.3h-1.2z" fill="#e6e7ea"/>
<path d="M8 0h1.2v1.3h-1.2z" fill="#efe5e1"/>
<path d="M9 0h1.2v1.3h-1.2z" fill="#e4bbab"/>
<path d="M10 0h1.2v1.3h-1.2z" fill="#cc6c4e"/>
<path d="M11 0h1.2v1.3h-1.2z" fill="#d68e74"/>
<path d="M12 0h1.2v1.3h-1.2z" fill="#dca18c"/>
<path d="M13 0h1.2v1.3h-1.2z" fill="#eacfc3"/>
<path d="M14 0h1.2v1.3h-1.2z" fill="#e9e9ea"/>
<path d="M15 0h1.2v1.3h-1.2z" fill="#cddbe5"/>
<path d="M16 0h1.2v1.3h-1.2z" fill="#b0c9d9"/>
<path d="M17 0h1.2v1.3h-1.2z" fill="#aec9d8"/>
<path d="M18 0h1.2v1.3h-1.2z" fill="#d1dde6"/>
<path d="M19 0h1.2v1.3h-1.2z" fill="#eeebeb"/>
<path d="M20 0h1.2v1.3h-1.2z" fill="#f0e5e1"/>
<path d="M21 0h1.2v1.3h-1.2z" fill="#efe2dd"/>
<path d="M0 1h1.2v1.3h-1.2z" fill="#d07a5d"/>
<path d="M1 1h1.2v1.3h-1.2z" fill="#d5896e"/>
<path d="M2 1h1.2v1.3h-1.2z" fill="#da9982"/>
<path d="M3 1h1.2v1.3h-1.2z" fill="#dea591"/>
<path d="M4 1h1.2v1.3h-1.2z" fill="#dfa895"/>
<path d="M5 1h1.2v1.3h-1.2z" fill="#eddad2"/>
<path d="M6 1h1.2v1.3h-1.2z" fill="#dfe4e9"/>
<path d="M7 1h1.2v1.3h-1.2z" fill="#d5dfe7"/>
<path d="M8 1h1.2v1.3h-1.2z" fill="#f0e5e2"/>
<path d="M9 1h1.2v1.3h-1.2z" fill="#e4bbab"/>
<path d="M10 1h1.2v1.3h-1.2z" fill="#cc6c4e"/>
<path d="M11 1h1.2v1.3h-1.2z" fill="#d58b70"/>
<path d="M12 1h1.2v1.3h-1.2z" fill="#db9e88"/>
<path d="M13 1h1.2v1.3h-1.2z" fill="#e9cec3"/>
<path d="M14 1h1.2v1.3h-1.2z" fill="#e8e8ea"/>
<path d="M15 1h1.2v1.3h-1.2z" fill="#cad9e4"/>
<path d="M16 1h1.2v1.3h-1.2z" fill="#aac6d6"/>
<path d="M17 1h1.2v1.3h-1.2z" fill="#a9c5d6"/>
<path d="M18 1h1.2v1.3h-1.2z" fill="#cedce5"/>
<path d="M19 1h1.2v1.3h-1.2z" fill="#eceaeb"/>
<path d="M20 1h1.2v1.3h-1.2z" fill="#f0e5e1"/>
<path d="M21 1h1.2v1.3h-1.2z" fill="#efe1dc"/>
<path d="M0 2h1.2v1.3h-1.2z" fill="#cf7658"/>
<path d="M1 2h1.2v1.3h-1.2z" fill="#d17c5f"/>
<path d="M2 2h1.2v1.3h-1.2z" fill="#d5896e"/>
<path d="M3 2h1.2v1.3h-1.2z" fill="#dc9e88"/>
<path d="M4 2h1.2v1.3h-1.2z" fill="#e0af9c"/>
<path d="M5 2h1.2v1.3h-1.2z" fill="#ebd5cc"/>
<path d="M6 2h1.2v1.3h-1.2z" fill="#e2e6ea"/>
<path d="M7 2h1.2v1.3h-1.2z" fill="#dbe2e8"/>
<path d="M8 2h1.2v1.3h-1.2z" fill="#ecd8cf"/>
<path d="M9 2h1.2v1.3h-1.2z" fill="#e3b8a7"/>
<path d="M10 2h1.2v1.3h-1.2z" fill="#cb694b"/>
<path d="M11 2h1.2v1.3h-1.2z" fill="#d4866b"/>
<path d="M12 2h1.2v1.3h-1.2z" fill="#db9c86"/>
<path d="M13 2h1.2v1.3h-1.2z" fill="#e9cec2"/>
<path d="M14 2h1.2v1.3h-1.2z" fill="#eceaeb"/>
<path d="M15 2h1.2v1.3h-1.2z" fill="#d5dfe7"/>
<path d="M16 2h1.2v1.3h-1.2z" fill="#aec8d8"/>
<path d="M17 2h1.2v1.3h-1.2z" fill="#acc7d7"/>
<path d="M18 2h1.2v1.3h-1.2z" fill="#d4dfe7"/>
<path d="M19 2h1.2v1.3h-1.2z" fill="#ebe9eb"/>
<path d="M20 2h1.2v1.3h-1.2z" fill="#f0e6e3"/>
<path d="M21 2h1.2v1.3h-1.2z" fill="#efe1dc"/>
<path d="M0 3h1.2v1.3h-1.2z" fill="#ce7254"/>
<path d="M1 3h1.2v1.3h-1.2z" fill="#cd7052"/>
<path d="M2 3h1.2v1.3h-1.2z" fill="#ce7355"/>
<path d="M3 3h1.2v1.3h-1.2z" fill="#d68e74"/>
<path d="M4 3h1.2v1.3h-1.2z" fill="#dda38f"/>
<path d="M5 3h1.2v1.3h-1.2z" fill="#e7c6b8"/>
<path d="M6 3h1.2v1.3h-1.2z" fill="#f1eae9"/>
<path d="M7 3h1.2v1.3h-1.2z" fill="#ebe9eb"/>
<path d="M8 3h1.2v1.3h-1.2z" fill="#ead2c7"/>
<path d="M9 3h1.2v1.3h-1.2z" fill="#dfa895"/>
<path d="M10 3h1.2v1.3h-1.2z" fill="#cb694b"/>
<path d="M11 3h1.2v1.3h-1.2z" fill="#d17e61"/>
<path d="M12 3h1.2v1.3h-1.2z" fill="#d99780"/>
<path d="M13 3h1.2v1.3h-1.2z" fill="#e9ccc0"/>
<path d="M14 3h1.2v1.3h-1.2z" fill="#eae9eb"/>
<path d="M15 3h1.2v1.3h-1.2z" fill="#d1dde6"/>
<path d="M16 3h1.2v1.3h-1.2z" fill="#aac6d6"/>
<path d="M17 3h1.2v1.3h-1.2z" fill="#a8c5d5"/>
<path d="M18 3h1.2v1.3h-1.2z" fill="#d0dde6"/>
<path d="M19 3h1.2v1.3h-1.2z" fill="#e8e8ea"/>
<path d="M20 3h1.2v1.3h-1.2z" fill="#f0e8e6"/>
<path d="M21 3h1.2v1.3h-1.2z" fill="#efe3de"/>
<path d="M0 4h1.2v1.3h-1.2z" fill="#cc6e50"/>
<path d="M1 4h1.2v1.3h-1.2z" fill="#cc6c4e"/>
<path d="M2 4h1.2v1.3h-1.2z" fill="#cd6f51"/>
<path d="M3 4h1.2v1.3h-1.2z" fill="#d17e61"/>
<path d="M4 4h1.2v1.3h-1.2z" fill="#d78f75"/>
<path d="M5 4h1.2v1.3h-1.2z" fill="#dda28d"/>
<path d="M6 4h1.2v1.3h-1.2z" fill="#e9ccbf"/>
<path d="M7 4h1.2v1.3h-1.2z" fill="#eddad2"/>
<path d="M8 4h1.2v1.3h-1.2z" fill="#e7c7b9"/>
<path d="M9 4h1.2v1.3h-1.2z" fill="#dda490"/>
<path d="M10 4h1.2v1.3h-1.2z" fill="#ca6648"/>
<path d="M11 4h1.2v1.3h-1.2z" fill="#d17c5f"/>
<path d="M12 4h1.2v1.3h-1.2z" fill="#d8937a"/>
<path d="M13 4h1.2v1.3h-1.2z" fill="#e8c9bc"/>
<path d="M14 4h1.2v1.3h-1.2z" fill="#e5e7ea"/>
<path d="M15 4h1.2v1.3h-1.2z" fill="#c5d6e1"/>
<path d="M16 4h1.2v1.3h-1.2z" fill="#abc6d7"/>
<path d="M17 4h1.2v1.3h-1.2z" fill="#a9c6d6"/>
<path d="M18 4h1.2v1.3h-1.2z" fill="#c7d8e2"/>
<path d="M19 4h1.2v1.3h-1.2z" fill="#e3e6ea"/>
<path d="M20 4h1.2v1.3h-1.2z" fill="#f0eae8"/>
<path d="M21 4h1.2v1.3h-1.2z" fill="#efe5e1"/>
<path d="M0 5h1.2v1.3h-1.2z" fill="#cc6b4d"/>
<path d="M1 5h1.2v1.3h-1.2z" fill="#ca6749"/>
<path d="M2 5h1.2v1.3h-1.2z" fill="#ca6648"/>
<path d="M3 5h1.2v1.3h-1.2z" fill="#cd6e50"/>
<path d="M4 5h1.2v1.3h-1.2z" fill="#d17b5f"/>
<path d="M5 5h1.2v1.3h-1.2z" fill="#d79178"/>
<path d="M6 5h1.2v1.3h-1.2z" fill="#e2b4a2"/>
<path d="M7 5h1.2v1.3h-1.2z" fill="#e5c1b1"/>
<path d="M8 5h1.2v1.3h-1.2z" fill="#e0ac99"/>
<path d="M9 5h1.2v1.3h-1.2z" fill="#d78f75"/>
<path d="M10 5h1.2v1.3h-1.2z" fill="#c96244"/>
<path d="M11 5h1.2v1.3h-1.2z" fill="#cf7658"/>
<path d="M12 5h1.2v1.3h-1.2z" fill="#d68e74"/>
<path d="M13 5h1.2v1.3h-1.2z" fill="#e6c3b4"/>
<path d="M14 5h1.2v1.3h-1.2z" fill="#e6e7ea"/>
<path d="M15 5h1.2v1.3h-1.2z" fill="#c2d5e0"/>
<path d="M16 5h1.2v1.3h-1.2z" fill="#aac6d6"/>
<path d="M17 5h1.2v1.3h-1.2z" fill="#a9c6d6"/>
<path d="M18 5h1.2v1.3h-1.2z" fill="#c3d5e1"/>
<path d="M19 5h1.2v1.3h-1.2z" fill="#e1e5e9"/>
<path d="M20 5h1.2v1.3h-1.2z" fill="#f1eae9"/>
<path d="M21 5h1.2v1.3h-1.2z" fill="#f0e7e3"/>
<path d="M0 6h1.2v1.3h-1.2z" fill="#ca6446"/>
<path d="M1 6h1.2v1.3h-1.2z" fill="#c85f41"/>
<path d="M2 6h1.2v1.3h-1.2z" fill="#c75b3e"/>
<path d="M3 6h1.2v1.3h-1.2z" fill="#c85e41"/>
<path d="M4 6h1.2v1.3h-1.2z" fill="#ca6648"/>
<path d="M5 6h1.2v1.3h-1.2z" fill="#cd6f51"/>
<path d="M6 6h1.2v1.3h-1.2z" fill="#dda28d"/>
<path d="M7 6h1.2v1.3h-1.2z" fill="#dfab98"/>
<path d="M8 6h1.2v1.3h-1.2z" fill="#da9982"/>
<path d="M9 6h1.2v1.3h-1.2z" fill="#d17c60"/>
<path d="M10 6h1.2v1.3h-1.2z" fill="#c6573b"/>
<path d="M11 6h1.2v1.3h-1.2z" fill="#cc6d4f"/>
<path d="M12 6h1.2v1.3h-1.2z" fill="#d58a6f"/>
<path d="M13 6h1.2v1.3h-1.2z" fill="#e4bcac"/>
<path d="M14 6h1.2v1.3h-1.2z" fill="#eae9eb"/>
<path d="M15 6h1.2v1.3h-1.2z" fill="#c4d6e1"/>
<path d="M16 6h1.2v1.3h-1.2z" fill="#abc6d7"/>
<path d="M17 6h1.2v1.3h-1.2z" fill="#a8c5d5"/>
<path d="M18 6h1.2v1.3h-1.2z" fill="#c0d3df"/>
<path d="M19 6h1.2v1.3h-1.2z" fill="#dde3e9"/>
<path d="M20 6h1.2v1.3h-1.2z" fill="#f1ebea"/>
<path d="M21 6h1.2v1.3h-1.2z" fill="#f0e9e7"/>
<path d="M0 7h1.2v1.3h-1.2z" fill="#c7583b"/>
<path d="M1 7h1.2v1.3h-1.2z" fill="#c55237"/>
<path d="M2 7h1.2v1.3h-1.2z" fill="#c55035"/>
<path d="M3 7h1.2v1.3h-1.2z" fill="#c65338"/>
<path d="M4 7h1.2v1.3h-1.2z" fill="#c85d40"/>
<path d="M5 7h1.2v1.3h-1.2z" fill="#c75c3f"/>
<path d="M6 7h1.2v1.3h-1.2z" fill="#d4866b"/>
<path d="M7 7h1.2v1.3h-1.2z" fill="#da9982"/>
<path d="M8 7h1.2v1.3h-1.2z" fill="#d68e73"/>
<path d="M9 7h1.2v1.3h-1.2z" fill="#ce7355"/>
<path d="M10 7h1.2v1.3h-1.2z" fill="#c44c33"/>
<path d="M11 7h1.2v1.3h-1.2z" fill="#cb6a4c"/>
<path d="M12 7h1.2v1.3h-1.2z" fill="#d5896d"/>
<path d="M13 7h1.2v1.3h-1.2z" fill="#e3b9a8"/>
<path d="M14 7h1.2v1.3h-1.2z" fill="#eae9eb"/>
<path d="M15 7h1.2v1.3h-1.2z" fill="#c5d7e2"/>
<path d="M16 7h1.2v1.3h-1.2z" fill="#abc7d7"/>
<path d="M17 7h1.2v1.3h-1.2z" fill="#a6c4d5"/>
<path d="M18 7h1.2v1.3h-1.2z" fill="#b9cfdc"/>
<path d="M19 7h1.2v1.3h-1.2z" fill="#d3dfe7"/>
<path d="M20 7h1.2v1.3h-1.2z" fill="#e6e7ea"/>
<path d="M21 7h1.2v1.3h-1.2z" fill="#e8e8ea"/>
<path d="M0 8h3.2v1.3h-3.2z" fill="#c2422d"/>
<path d="M3 8h1.2v1.3h-1.2z" fill="#c3452e"/>
<path d="M4 8h1.2v1.3h-1.2z" fill="#c44c33"/>
<path d="M5 8h1.2v1.3h-1.2z" fill="#c7593d"/>
<path d="M6 8h1.2v1.3h-1.2z" fill="#d28165"/>
<path d="M7 8h1.2v1.3h-1.2z" fill="#d99880"/>
<path d="M8 8h1.2v1.3h-1.2z" fill="#d68d72"/>
<path d="M9 8h1.2v1.3h-1.2z" fill="#cd7153"/>
<path d="M10 8h1.2v1.3h-1.2z" fill="#c44c33"/>
<path d="M11 8h1.2v1.3h-1.2z" fill="#cc6c4e"/>
<path d="M12 8h1.2v1.3h-1.2z" fill="#d68d72"/>
<path d="M13 8h1.2v1.3h-1.2z" fill="#e5bfb0"/>
<path d="M14 8h1.2v1.3h-1.2z" fill="#eae9eb"/>
<path d="M15 8h1.2v1.3h-1.2z" fill="#c6d7e2"/>
<path d="M16 8h1.2v1.3h-1.2z" fill="#abc7d7"/>
<path d="M17 8h1.2v1.3h-1.2z" fill="#a4c2d4"/>
<path d="M18 8h1.2v1.3h-1.2z" fill="#afc9d8"/>
<path d="M19 8h1.2v1.3h-1.2z" fill="#c0d3df"/>
<path d="M20 8h1.2v1.3h-1.2z" fill="#cddbe5"/>
<path d="M21 8h1.2v1.3h-1.2z" fill="#d1dee6"/>
<path d="M0 9h1.2v1.3h-1.2z" fill="#bb3029"/>
<path d="M1 9h1.2v1.3h-1.2z" fill="#bc332a"/>
<path d="M2 9h1.2v1.3h-1.2z" fill="#bd352a"/>
<path d="M3 9h1.2v1.3h-1.2z" fill="#bf3a2b"/>
<path d="M4 9h1.2v1.3h-1.2z" fill="#c2422d"/>
<path d="M5 9h1.2v1.3h-1.2z" fill="#c7593d"/>
<path d="M6 9h1.2v1.3h-1.2z" fill="#d68e74"/>
<path d="M7 9h1.2v1.3h-1.2z" fill="#dea691"/>
<path d="M8 9h1.2v1.3h-1.2z" fill="#d9957d"/>
<path d="M9 9h1.2v1.3h-1.2z" fill="#d07a5d"/>
<path d="M10 9h1.2v1.3h-1.2z" fill="#c6573b"/>
<path d="M11 9h1.2v1.3h-1.2z" fill="#cf7558"/>
<path d="M12 9h1.2v1.3h-1.2z" fill="#d9967e"/>
<path d="M13 9h1.2v1.3h-1.2z" fill="#e9ccc0"/>
<path d="M14 9h1.2v1.3h-1.2z" fill="#e6e7ea"/>
<path d="M15 9h1.2v1.3h-1.2z" fill="#c3d5e1"/>
<path d="M16 9h1.2v1.3h-1.2z" fill="#a9c6d6"/>
<path d="M17 9h1.2v1.3h-1.2z" fill="#a1c0d2"/>
<path d="M18 9h1.2v1.3h-1.2z" fill="#a5c3d4"/>
<path d="M19 9h1.2v1.3h-1.2z" fill="#acc7d7"/>
<path d="M20 9h1.2v1.3h-1.2z" fill="#b1cad9"/>
<path d="M21 9h1.2v1.3h-1.2z" fill="#b4ccda"/>
<path d="M0 10h1.2v1.3h-1.2z" fill="#b02329"/>
<path d="M1 10h1.2v1.3h-1.2z" fill="#b42629"/>
<path d="M2 10h1.2v1.3h-1.2z" fill="#b92a28"/>
<path d="M3 10h1.2v1.3h-1.2z" fill="#bc322a"/>
<path d="M4 10h1.2v1.3h-1.2z" fill="#c03e2c"/>
<path d="M5 10h1.2v1.3h-1.2z" fill="#c85d40"/>
<path d="M6 10h1.2v1.3h-1.2z" fill="#dca08b"/>
<path d="M7 10h1.2v1.3h-1.2z" fill="#e0ad9b"/>
<path d="M8 10h1.2v1.3h-1.2z" fill="#dca18c"/>
<path d="M9 10h1.2v1.3h-1.2z" fill="#d89279"/>
<path d="M10 10h1.2v1.3h-1.2z" fill="#cb694b"/>
<path d="M11 10h1.2v1.3h-1.2z" fill="#d58a6f"/>
<path d="M12 10h1.2v1.3h-1.2z" fill="#dda28c"/>
<path d="M13 10h1.2v1.3h-1.2z" fill="#eddcd5"/>
<path d="M14 10h1.2v1.3h-1.2z" fill="#dfe4e9"/>
<path d="M15 10h1.2v1.3h-1.2z" fill="#bad0dd"/>
<path d="M16 10h1.2v1.3h-1.2z" fill="#9fc0d2"/>
<path d="M17 10h1.2v1.3h-1.2z" fill="#95bace"/>
<path d="M18 10h1.2v1.3h-1.2z" fill="#9abdd0"/>
<path d="M19 10h1.2v1.3h-1.2z" fill="#98bbcf"/>
<path d="M20 10h1.2v1.3h-1.2z" fill="#95bace"/>
<path d="M21 10h1.2v1.3h-1.2z" fill="#97bace"/>
<path d="M0 11h1.2v1.3h-1.2z" fill="#a41a2b"/>
<path d="M1 11h1.2v1.3h-1.2z" fill="#a61c2b"/>
<path d="M2 11h1.2v1.3h-1.2z" fill="#b02329"/>
<path d="M3 11h1.2v1.3h-1.2z" fill="#bb2f29"/>
<path d="M4 11h1.2v1.3h-1.2z" fill="#c1422d"/>
<path d="M5 11h1.2v1.3h-1.2z" fill="#cc6d4f"/>
<path d="M6 11h1.2v1.3h-1.2z" fill="#dfab98"/>
<path d="M7 11h1.2v1.3h-1.2z" fill="#e5bfb0"/>
<path d="M8 11h1.2v1.3h-1.2z" fill="#e4bbaa"/>
<path d="M9 11h1.2v1.3h-1.2z" fill="#e1b09e"/>
<path d="M10 11h1.2v1.3h-1.2z" fill="#db9d87"/>
<path d="M11 11h1.2v1.3h-1.2z" fill="#dda490"/>
<path d="M12 11h1.2v1.3h-1.2z" fill="#e6c5b6"/>
<path d="M13 11h1.2v1.3h-1.2z" fill="#f0eae8"/>
<path d="M14 11h1.2v1.3h-1.2z" fill="#d1dee6"/>
<path d="M15 11h1.2v1.3h-1.2z" fill="#a8c5d5"/>
<path d="M16 11h1.2v1.3h-1.2z" fill="#8bb5cb"/>
<path d="M17 11h1.2v1.3h-1.2z" fill="#82b1c9"/>
<path d="M18 11h1.2v1.3h-1.2z" fill="#83b1c9"/>
<path d="M19 11h1.2v1.3h-1.2z" fill="#81b0c9"/>
<path d="M20 11h1.2v1.3h-1.2z" fill="#80b0c8"/>
<path d="M21 11h1.2v1.3h-1.2z" fill="#81b0c9"/>
<path d="M0 12h1.2v1.3h-1.2z" fill="#9d152c"/>
<path d="M1 12h1.2v1.3h-1.2z" fill="#99122d"/>
<path d="M2 12h1.2v1.3h-1.2z" fill="#ab1f2a"/>
<path d="M3 12h1.2v1.3h-1.2z" fill="#bc312a"/>
<path d="M4 12h1.2v1.3h-1.2z" fill="#c54e34"/>
<path d="M5 12h1.2v1.3h-1.2z" fill="#d38266"/>
<path d="M6 12h1.2v1.3h-1.2z" fill="#e4bbaa"/>
<path d="M7 12h1.2v1.3h-1.2z" fill="#ecd6cd"/>
<path d="M8 12h1.2v1.3h-1.2z" fill="#ecd7cd"/>
<path d="M9 12h1.2v1.3h-1.2z" fill="#e9cdc1"/>
<path d="M10 12h1.2v1.3h-1.2z" fill="#e2b6a4"/>
<path d="M11 12h1.2v1.3h-1.2z" fill="#e7c7b9"/>
<path d="M12 12h1.2v1.3h-1.2z" fill="#eeded7"/>
<path d="M13 12h1.2v1.3h-1.2z" fill="#dfe4e9"/>
<path d="M14 12h1.2v1.3h-1.2z" fill="#b1cad9"/>
<path d="M15 12h1.2v1.3h-1.2z" fill="#87b3ca"/>
<path d="M16 12h1.2v1.3h-1.2z" fill="#69a5c4"/>
<path d="M17 12h1.2v1.3h-1.2z" fill="#60a0c3"/>
<path d="M18 12h1.2v1.3h-1.2z" fill="#63a2c3"/>
<path d="M19 12h1.2v1.3h-1.2z" fill="#66a3c4"/>
<path d="M20 12h1.2v1.3h-1.2z" fill="#68a4c4"/>
<path d="M21 12h1.2v1.3h-1.2z" fill="#6ba6c5"/>
<path d="M0 13h1.2v1.3h-1.2z" fill="#760f2b"/>
<path d="M1 13h1.2v1.3h-1.2z" fill="#8d102d"/>
<path d="M2 13h1.2v1.3h-1.2z" fill="#a91e2a"/>
<path d="M3 13h1.2v1.3h-1.2z" fill="#bd342a"/>
<path d="M4 13h1.2v1.3h-1.2z" fill="#c75b3e"/>
<path d="M5 13h1.2v1.3h-1.2z" fill="#d79076"/>
<path d="M6 13h1.2v1.3h-1.2z" fill="#e9ccc0"/>
<path d="M7 13h1.2v1.3h-1.2z" fill="#efebeb"/>
<path d="M8 13h1.2v1.3h-1.2z" fill="#f1ebea"/>
<path d="M9 13h1.2v1.3h-1.2z" fill="#f0ebeb"/>
<path d="M10 13h1.2v1.3h-1.2z" fill="#eedfd8"/>
<path d="M11 13h1.2v1.3h-1.2z" fill="#f0e7e4"/>
<path d="M12 13h1.2v1.3h-1.2z" fill="#e3e6ea"/>
<path d="M13 13h1.2v1.3h-1.2z" fill="#b9cfdc"/>
<path d="M14 13h1.2v1.3h-1.2z" fill="#85b2ca"/>
<path d="M15 13h1.2v1.3h-1.2z" fill="#589dc2"/>
<path d="M16 13h1.2v1.3h-1.2z" fill="#398cbf"/>
<path d="M17 13h1.2v1.3h-1.2z" fill="#3a8dbf"/>
<path d="M18 13h1.2v1.3h-1.2z" fill="#4492c0"/>
<path d="M19 13h1.2v1.3h-1.2z" fill="#4a95c0"/>
<path d="M20 13h1.2v1.3h-1.2z" fill="#5199c1"/>
<path d="M21 13h1.2v1.3h-1.2z" fill="#569cc1"/>
<path d="M0 14h1.2v1.3h-1.2z" fill="#3c0912"/>
<path d="M1 14h1.2v1.3h-1.2z" fill="#6c0e27"/>
<path d="M2 14h1.2v1.3h-1.2z" fill="#a2192b"/>
<path d="M3 14h1.2v1.3h-1.2z" fill="#bc332a"/>
<path d="M4 14h1.2v1.3h-1.2z" fill="#c75c3f"/>
<path d="M5 14h1.2v1.3h-1.2z" fill="#d9967e"/>
<path d="M6 14h1.2v1.3h-1.2z" fill="#ecd7ce"/>
<path d="M7 14h1.2v1.3h-1.2z" fill="#e2e5ea"/>
<path d="M8 14h1.2v1.3h-1.2z" fill="#d8e1e8"/>
<path d="M9 14h1.2v1.3h-1.2z" fill="#dfe4e9"/>
<path d="M10 14h1.2v1.3h-1.2z" fill="#f1eceb"/>
<path d="M11 14h1.2v1.3h-1.2z" fill="#e0e5e9"/>
<path d="M12 14h1.2v1.3h-1.2z" fill="#c0d4e0"/>
<path d="M13 14h1.2v1.3h-1.2z" fill="#8eb6cc"/>
<path d="M14 14h1.2v1.3h-1.2z" fill="#5b9ec2"/>
<path d="M15 14h1.2v1.3h-1.2z" fill="#3288be"/>
<path d="M16 14h1.2v1.3h-1.2z" fill="#1f7abd"/>
<path d="M17 14h1.2v1.3h-1.2z" fill="#227cbd"/>
<path d="M18 14h1.2v1.3h-1.2z" fill="#2e86be"/>
<path d="M19 14h1.2v1.3h-1.2z" fill="#2f86be"/>
<path d="M20 14h1.2v1.3h-1.2z" fill="#3b8dbf"/>
<path d="M21 14h1.2v1.3h-1.2z" fill="#4291bf"/>
<path d="M0 15h1.2v1.3h-1.2z" fill="#3c0912"/>
<path d="M1 15h1.2v1.3h-1.2z" fill="#490b18"/>
<path d="M2 15h1.2v1.3h-1.2z" fill="#91102d"/>
<path d="M3 15h1.2v1.3h-1.2z" fill="#ba2e29"/>
<path d="M4 15h1.2v1.3h-1.2z" fill="#c85e40"/>
<path d="M5 15h1.2v1.3h-1.2z" fill="#da9982"/>
<path d="M6 15h1.2v1.3h-1.2z" fill="#efe1db"/>
<path d="M7 15h1.2v1.3h-1.2z" fill="#d0dde6"/>
<path d="M8 15h1.2v1.3h-1.2z" fill="#b9cfdc"/>
<path d="M9 15h1.2v1.3h-1.2z" fill="#b8cedc"/>
<path d="M10 15h1.2v1.3h-1.2z" fill="#c8d8e3"/>
<path d="M11 15h1.2v1.3h-1.2z" fill="#bbd1dd"/>
<path d="M12 15h1.2v1.3h-1.2z" fill="#a0c0d2"/>
<path d="M13 15h1.2v1.3h-1.2z" fill="#61a1c3"/>
<path d="M14 15h1.2v1.3h-1.2z" fill="#2f87be"/>
<path d="M15 15h1.2v1.3h-1.2z" fill="#1974be"/>
<path d="M16 15h2.2v1.3h-2.2z" fill="#1468bd"/>
<path d="M18 15h1.2v1.3h-1.2z" fill="#146ebe"/>
<path d="M19 15h1.2v1.3h-1.2z" fill="#1b75be"/>
<path d="M20 15h1.2v1.3h-1.2z" fill="#247fbd"/>
<path d="M21 15h1.2v1.3h-1.2z" fill="#2e86be"/>
<path d="M0 16h2.2v1.3h-2.2z" fill="#3c0912"/>
<path d="M2 16h1.2v1.3h-1.2z" fill="#7c0f2d"/>
<path d="M3 16h1.2v1.3h-1.2z" fill="#b62828"/>
<path d="M4 16h1.2v1.3h-1.2z" fill="#c86042"/>
<path d="M5 16h1.2v1.3h-1.2z" fill="#db9c85"/>
<path d="M6 16h1.2v1.3h-1.2z" fill="#f0e7e5"/>
<path d="M7 16h1.2v1.3h-1.2z" fill="#b0c9d9"/>
<path d="M8 16h1.2v1.3h-1.2z" fill="#97bace"/>
<path d="M9 16h1.2v1.3h-1.2z" fill="#90b7cc"/>
<path d="M10 16h1.2v1.3h-1.2z" fill="#9ebfd1"/>
<path d="M11 16h1.2v1.3h-1.2z" fill="#87b3ca"/>
<path d="M12 16h1.2v1.3h-1.2z" fill="#5c9ec2"/>
<path d="M13 16h1.2v1.3h-1.2z" fill="#2983bd"/>
<path d="M14 16h1.2v1.3h-1.2z" fill="#136abe"/>
<path d="M15 16h1.2v1.3h-1.2z" fill="#1b5cbb"/>
<path d="M16 16h1.2v1.3h-1.2z" fill="#1f53ba"/>
<path d="M17 16h1.2v1.3h-1.2z" fill="#214fb8"/>
<path d="M18 16h1.2v1.3h-1.2z" fill="#1e56ba"/>
<path d="M19 16h1.2v1.3h-1.2z" fill="#195fbc"/>
<path d="M20 16h1.2v1.3h-1.2z" fill="#136abe"/>
<path d="M21 16h1.2v1.3h-1.2z" fill="#1973be"/>
<path d="M0 17h2.2v1.3h-2.2z" fill="#3c0912"/>
<path d="M2 17h1.2v1.3h-1.2z" fill="#680e25"/>
<path d="M3 17h1.2v1.3h-1.2z" fill="#ae222a"/>
<path d="M4 17h1.2v1.3h-1.2z" fill="#c96244"/>
<path d="M5 17h1.2v1.3h-1.2z" fill="#db9e88"/>
<path d="M6 17h1.2v1.3h-1.2z" fill="#eeebeb"/>
<path d="M7 17h1.2v1.3h-1.2z" fill="#90b7cd"/>
<path d="M8 17h1.2v1.3h-1.2z" fill="#73aac6"/>
<path d="M9 17h1.2v1.3h-1.2z" fill="#74aac6"/>
<path d="M10 17h1.2v1.3h-1.2z" fill="#80b0c9"/>
<path d="M11 17h1.2v1.3h-1.2z" fill="#4995c0"/>
<path d="M12 17h1.2v1.3h-1.2z" fill="#227cbd"/>
<path d="M13 17h1.2v1.3h-1.2z" fill="#1763bc"/>
<path d="M14 17h1.2v1.3h-1.2z" fill="#224eb6"/>
<path d="M15 17h1.2v1.3h-1.2z" fill="#2a3fa1"/>
<path d="M16 17h1.2v1.3h-1.2z" fill="#293a97"/>
<path d="M17 17h1.2v1.3h-1.2z" fill="#293993"/>
<path d="M18 17h1.2v1.3h-1.2z" fill="#2a3c9b"/>
<path d="M19 17h1.2v1.3h-1.2z" fill="#2548ae"/>
<path d="M20 17h1.2v1.3h-1.2z" fill="#1d57ba"/>
<path d="M21 17h1.2v1.3h-1.2z" fill="#1861bc"/>
<path d="M0 18h2.2v1.3h-2.2z" fill="#3c0912"/>
<path d="M2 18h1.2v1.3h-1.2z" fill="#5a0c1f"/>
<path d="M3 18h1.2v1.3h-1.2z" fill="#a91e2a"/>
<path d="M4 18h1.2v1.3h-1.2z" fill="#ca6446"/>
<path d="M5 18h1.2v1.3h-1.2z" fill="#dca08a"/>
<path d="M6 18h1.2v1.3h-1.2z" fill="#e5e7ea"/>
<path d="M7 18h1.2v1.3h-1.2z" fill="#7fafc8"/>
<path d="M8 18h1.2v1.3h-1.2z" fill="#549ac1"/>
<path d="M9 18h1.2v1.3h-1.2z" fill="#4894c0"/>
<path d="M10 18h1.2v1.3h-1.2z" fill="#4592c0"/>
<path d="M11 18h1.2v1.3h-1.2z" fill="#247fbd"/>
<path d="M12 18h1.2v1.3h-1.2z" fill="#1664bd"/>
<path d="M13 18h1.2v1.3h-1.2z" fill="#244bb2"/>
<path d="M14 18h1.2v1.3h-1.2z" fill="#293891"/>
<path d="M15 18h1.2v1.3h-1.2z" fill="#273180"/>
<path d="M16 18h1.2v1.3h-1.2z" fill="#262d76"/>
<path d="M17 18h1.2v1.3h-1.2z" fill="#262f7b"/>
<path d="M18 18h1.2v1.3h-1.2z" fill="#283487"/>
<path d="M19 18h1.2v1.3h-1.2z" fill="#293a96"/>
<path d="M20 18h1.2v1.3h-1.2z" fill="#2646aa"/>
<path d="M21 18h1.2v1.3h-1.2z" fill="#1f53ba"/>
<path d="M0 19h2.2v1.3h-2.2z" fill="#3c0912"/>
<path d="M2 19h1.2v1.3h-1.2z" fill="#450a16"/>
<path d="M3 19h1.2v1.3h-1.2z" fill="#a3192b"/>
<path d="M4 19h1.2v1.3h-1.2z" fill="#ca6648"/>
<path d="M5 19h1.2v1.3h-1.2z" fill="#dc9f8a"/>
<path d="M6 19h1.2v1.3h-1.2z" fill="#e1e5ea"/>
<path d="M7 19h1.2v1.3h-1.2z" fill="#74aac6"/>
<path d="M8 19h1.2v1.3h-1.2z" fill="#4090bf"/>
<path d="M9 19h1.2v1.3h-1.2z" fill="#2b84bd"/>
<path d="M10 19h1.2v1.3h-1.2z" fill="#2c85bd"/>
<path d="M11 19h1.2v1.3h-1.2z" fill="#1670be"/>
<path d="M12 19h1.2v1.3h-1.2z" fill="#1d57ba"/>
<path d="M13 19h1.2v1.3h-1.2z" fill="#2a3c9c"/>
<path d="M14 19h1.2v1.3h-1.2z" fill="#273281"/>
<path d="M15 19h1.2v1.3h-1.2z" fill="#212763"/>
<path d="M16 19h1.2v1.3h-1.2z" fill="#1a1f4c"/>
<path d="M17 19h1.2v1.3h-1.2z" fill="#212763"/>
<path d="M18 19h1.2v1.3h-1.2z" fill="#262e79"/>
<path d="M19 19h1.2v1.3h-1.2z" fill="#28358a"/>
<path d="M20 19h1.2v1.3h-1.2z" fill="#293c9b"/>
<path d="M21 19h1.2v1.3h-1.2z" fill="#2548ad"/>
<path d="M0 20h3.2v1.3h-3.2z" fill="#3c0912"/>
<path d="M3 20h1.2v1.3h-1.2z" fill="#a0172c"/>
<path d="M4 20h1.2v1.3h-1.2z" fill="#cb684a"/>
<path d="M5 20h1.2v1.3h-1.2z" fill="#dc9f8a"/>
<path d="M6 20h1.2v1.3h-1.2z" fill="#dde3e9"/>
<path d="M7 20h1.2v1.3h-1.2z" fill="#75abc6"/>
<path d="M8 20h1.2v1.3h-1.2z" fill="#4090bf"/>
<path d="M9 20h1.2v1.3h-1.2z" fill="#247ebd"/>
<path d="M10 20h1.2v1.3h-1.2z" fill="#1872be"/>
<path d="M11 20h1.2v1.3h-1.2z" fill="#1664bd"/>
<path d="M12 20h1.2v1.3h-1.2z" fill="#2150b8"/>
<path d="M13 20h1.2v1.3h-1.2z" fill="#293a95"/>
<path d="M14 20h1.2v1.3h-1.2z" fill="#27307d"/>
<path d="M15 20h1.2v1.3h-1.2z" fill="#202662"/>
<path d="M16 20h1.2v1.3h-1.2z" fill="#1c2153"/>
<path d="M17 20h1.2v1.3h-1.2z" fill="#20255f"/>
<path d="M18 20h1.2v1.3h-1.2z" fill="#252c73"/>
<path d="M19 20h1.2v1.3h-1.2z" fill="#273283"/>
<path d="M20 20h1.2v1.3h-1.2z" fill="#293993"/>
<path d="M21 20h1.2v1.3h-1.2z" fill="#2a3ea0"/>
</g></g>
<g clip-path="url(#c01)" fill="none" stroke="#808080" stroke-width="1.1" stroke-linejoin="round">
<path d="M261.3 129.7L262.8 124.8L266.3 120.0M284.7 113.2L287.7 112.8L293.7 114.2L295.9 115.1L299.7 117.3L303.3 120.0L305.7 122.6L308.0 124.8L311.6 129.7" stroke-dasharray="3,1.6"/>
<path d="M237.9 129.7L239.8 124.9L242.8 125.0M251.8 118.9L256.0 115.1L257.8 114.1L270.7 105.3L275.7 101.5L281.7 97.9L287.7 98.3L293.7 100.9L299.7 101.2L311.6 105.9" stroke-dasharray="3,1.6"/>
<path d="M226.1 129.7L226.1 124.8L226.6 120.0L227.5 115.1L227.8 114.2L233.8 110.3L239.8 109.5L242.3 110.2L245.8 111.6L247.9 110.2L251.8 108.8L257.8 106.1L258.7 105.3L262.8 100.5L269.1 94.4M284.5 82.2L287.7 80.7L293.7 81.9L305.7 80.9L311.6 81.1" stroke-dasharray="3,1.6"/>
<path d="M220.7 129.7L221.1 120.0L221.9 113.3L222.4 110.2L223.7 105.3L227.5 95.6L227.8 95.2L233.8 95.8L239.8 95.4L240.3 95.6L245.8 100.5L251.8 96.9L253.6 95.6L257.8 93.4L260.7 90.7L264.3 85.9L266.9 81.0L268.3 76.1L269.1 70.4M268.8 58.3L268.3 51.8L269.1 42.0L268.5 37.2L268.6 32.3M231.1 32.3L232.4 37.2L228.8 46.9L227.8 48.0L223.4 46.9L221.9 46.3L219.7 42.0L219.1 37.2L219.7 32.3M301.5 32.3L302.7 42.7M305.2 59.1L305.5 61.5L305.7 61.8L311.6 62.8"/>
<path d="M216.3 129.7L216.3 120.0L216.5 115.9M217.8 99.1L218.4 95.6L220.1 90.7L221.5 85.9L221.9 84.0L224.9 81.0L227.8 76.5L231.0 81.0L239.8 84.6L242.5 85.9L245.8 88.0L251.8 86.2L257.8 81.8L258.3 81.0L261.3 71.3L261.8 66.4L261.6 61.5L259.2 42.0L258.6 32.3M241.1 32.3L240.9 42.0L240.0 46.9L239.4 51.8L233.8 57.9L227.8 62.7L221.9 60.1L219.9 56.6L216.5 51.8L215.9 51.1M206.9 41.3L205.3 37.2L203.9 36.8L199.4 32.3"/>
<path d="M209.2 129.7L210.3 95.6L211.6 90.7L213.2 87.3M216.5 70.4L216.2 66.4L215.9 65.8L209.9 65.5L204.3 61.5L197.9 60.0L191.9 61.3L185.9 63.6M244.7 76.1L245.8 78.1L247.2 76.1L249.2 71.3L249.4 66.4L247.7 61.5L245.8 58.3L243.0 66.4L242.9 71.3L244.7 76.1"/>
<path d="M203.4 129.7L203.1 124.8L201.8 115.1L200.7 110.2L198.8 105.3L196.7 100.5L191.9 91.3L185.9 91.4"/>
</g>
<g clip-path="url(#c01)" font-size="7.2" fill="#000" text-anchor="middle">
<text transform="translate(208.6,46.6) rotate(35)" y="2.5" textLength="15.1" lengthAdjust="spacingAndGlyphs">0.25</text>
<text transform="translate(215.8,78.8) rotate(-85)" y="2.5" textLength="15.1" lengthAdjust="spacingAndGlyphs">0.50</text>
<text transform="translate(218.0,107.7) rotate(-85)" y="2.5" textLength="15.1" lengthAdjust="spacingAndGlyphs">0.25</text>
<text transform="translate(270.8,67.0) rotate(55)" y="2.5" textLength="15.1" lengthAdjust="spacingAndGlyphs">0.00</text>
<text transform="translate(304.3,50.9) rotate(85)" y="2.5" textLength="15.1" lengthAdjust="spacingAndGlyphs">0.00</text>
<text transform="translate(275.3,86.3) rotate(-40)" y="2.5" textLength="17.6" lengthAdjust="spacingAndGlyphs">-0.25</text>
<text transform="translate(275.3,115.8) rotate(-10)" y="2.5" textLength="17.6" lengthAdjust="spacingAndGlyphs">-0.75</text>
<text transform="translate(245.9,126.3) rotate(-60)" y="2.5" textLength="17.6" lengthAdjust="spacingAndGlyphs">-0.50</text>
</g>
<rect x="182.95" y="32.3" width="128.7" height="97.4" fill="none" stroke="#000" stroke-width="0.8"/>
<path d="M311.65,129.70v3.5 M305.66,129.70v2.0 M299.68,129.70v2.0 M293.69,129.70v2.0 M287.71,129.70v3.5 M281.72,129.70v2.0 M275.73,129.70v2.0 M269.75,129.70v2.0 M263.76,129.70v3.5 M257.78,129.70v2.0 M251.79,129.70v2.0 M245.80,129.70v2.0 M239.82,129.70v3.5 M233.83,129.70v2.0 M227.85,129.70v2.0 M221.86,129.70v2.0 M215.87,129.70v3.5 M209.89,129.70v2.0 M203.90,129.70v2.0 M197.92,129.70v2.0 M191.93,129.70v3.5 M185.94,129.70v2.0 M182.95,129.70h-3.5 M182.95,127.75h-2.0 M182.95,125.80h-2.0 M182.95,123.86h-2.0 M182.95,121.91h-2.0 M182.95,119.96h-3.5 M182.95,118.01h-2.0 M182.95,116.06h-2.0 M182.95,114.12h-2.0 M182.95,112.17h-2.0 M182.95,110.22h-3.5 M182.95,108.27h-2.0 M182.95,106.32h-2.0 M182.95,104.38h-2.0 M182.95,102.43h-2.0 M182.95,100.48h-3.5 M182.95,98.53h-2.0 M182.95,96.58h-2.0 M182.95,94.64h-2.0 M182.95,92.69h-2.0 M182.95,90.74h-3.5 M182.95,88.79h-2.0 M182.95,86.84h-2.0 M182.95,84.90h-2.0 M182.95,82.95h-2.0 M182.95,81.00h-3.5 M182.95,79.05h-2.0 M182.95,77.10h-2.0 M182.95,75.16h-2.0 M182.95,73.21h-2.0 M182.95,71.26h-3.5 M182.95,69.31h-2.0 M182.95,67.36h-2.0 M182.95,65.42h-2.0 M182.95,63.47h-2.0 M182.95,61.52h-3.5 M182.95,59.57h-2.0 M182.95,57.62h-2.0 M182.95,55.68h-2.0 M182.95,53.73h-2.0 M182.95,51.78h-3.5 M182.95,49.83h-2.0 M182.95,47.88h-2.0 M182.95,45.94h-2.0 M182.95,43.99h-2.0 M182.95,42.04h-3.5 M182.95,40.09h-2.0 M182.95,38.14h-2.0 M182.95,36.20h-2.0 M182.95,34.25h-2.0 M182.95,32.30h-3.5" stroke="#000" stroke-width="0.8" fill="none"/>
<text x="188.15" y="41.20" font-size="9.6" text-anchor="start" fill="#fff" font-weight="bold" textLength="14.67" lengthAdjust="spacingAndGlyphs">(b)</text>
<!-- panel c -->
<g clip-path="url(#c02)"><g transform="translate(317.80,29.865) scale(5.9860,4.8700)">
<path d="M0 0h5.2v1.3h-5.2z" fill="#3c0912"/>
<path d="M5 0h1.2v1.3h-1.2z" fill="#5f0d21"/>
<path d="M6 0h1.2v1.3h-1.2z" fill="#e7c8ba"/>
<path d="M7 0h1.2v1.3h-1.2z" fill="#eee0da"/>
<path d="M8 0h1.2v1.3h-1.2z" fill="#f1eceb"/>
<path d="M9 0h1.2v1.3h-1.2z" fill="#ebd4ca"/>
<path d="M10 0h4.2v1.3h-4.2z" fill="#3c0912"/>
<path d="M14 0h1.2v1.3h-1.2z" fill="#c44c33"/>
<path d="M15 0h7.2v1.3h-7.2z" fill="#d0795c"/>
<path d="M0 1h5.2v1.3h-5.2z" fill="#3c0912"/>
<path d="M5 1h1.2v1.3h-1.2z" fill="#c44c33"/>
<path d="M6 1h1.2v1.3h-1.2z" fill="#ebd4ca"/>
<path d="M7 1h2.2v1.3h-2.2z" fill="#f1eceb"/>
<path d="M9 1h1.2v1.3h-1.2z" fill="#ebd4ca"/>
<path d="M10 1h4.2v1.3h-4.2z" fill="#3c0912"/>
<path d="M14 1h1.2v1.3h-1.2z" fill="#c44c33"/>
<path d="M15 1h5.2v1.3h-5.2z" fill="#cf7658"/>
<path d="M20 1h2.2v1.3h-2.2z" fill="#cd7052"/>
<path d="M0 2h4.2v1.3h-4.2z" fill="#3c0912"/>
<path d="M4 2h1.2v1.3h-1.2z" fill="#730e2a"/>
<path d="M5 2h1.2v1.3h-1.2z" fill="#e3b8a7"/>
<path d="M6 2h1.2v1.3h-1.2z" fill="#559bc1"/>
<path d="M7 2h1.2v1.3h-1.2z" fill="#1c77be"/>
<path d="M8 2h1.2v1.3h-1.2z" fill="#ebeaeb"/>
<path d="M9 2h1.2v1.3h-1.2z" fill="#edd9d1"/>
<path d="M10 2h4.2v1.3h-4.2z" fill="#3c0912"/>
<path d="M14 2h1.2v1.3h-1.2z" fill="#c44c33"/>
<path d="M15 2h5.2v1.3h-5.2z" fill="#cd7052"/>
<path d="M20 2h1.2v1.3h-1.2z" fill="#c85f41"/>
<path d="M21 2h1.2v1.3h-1.2z" fill="#c6573b"/>
<path d="M0 3h4.2v1.3h-4.2z" fill="#3c0912"/>
<path d="M4 3h1.2v1.3h-1.2z" fill="#b92a28"/>
<path d="M5 3h1.2v1.3h-1.2z" fill="#e7c8ba"/>
<path d="M6 3h1.2v1.3h-1.2z" fill="#559bc1"/>
<path d="M7 3h1.2v1.3h-1.2z" fill="#1a5dbb"/>
<path d="M8 3h1.2v1.3h-1.2z" fill="#e9e8ea"/>
<path d="M9 3h1.2v1.3h-1.2z" fill="#eee0da"/>
<path d="M10 3h4.2v1.3h-4.2z" fill="#3c0912"/>
<path d="M14 3h1.2v1.3h-1.2z" fill="#c44c33"/>
<path d="M15 3h5.2v1.3h-5.2z" fill="#cb694b"/>
<path d="M20 3h1.2v1.3h-1.2z" fill="#c65438"/>
<path d="M21 3h1.2v1.3h-1.2z" fill="#c44c33"/>
<path d="M0 4h4.2v1.3h-4.2z" fill="#3c0912"/>
<path d="M4 4h1.2v1.3h-1.2z" fill="#bf3b2c"/>
<path d="M5 4h1.2v1.3h-1.2z" fill="#e7c8ba"/>
<path d="M6 4h1.2v1.3h-1.2z" fill="#559bc1"/>
<path d="M7 4h1.2v1.3h-1.2z" fill="#1c77be"/>
<path d="M8 4h1.2v1.3h-1.2z" fill="#e3e6ea"/>
<path d="M9 4h1.2v1.3h-1.2z" fill="#eee0da"/>
<path d="M10 4h1.2v1.3h-1.2z" fill="#86102e"/>
<path d="M11 4h2.2v1.3h-2.2z" fill="#5f0d21"/>
<path d="M13 4h1.2v1.3h-1.2z" fill="#730e2a"/>
<path d="M14 4h1.2v1.3h-1.2z" fill="#c6573b"/>
<path d="M15 4h5.2v1.3h-5.2z" fill="#cc6c4e"/>
<path d="M20 4h1.2v1.3h-1.2z" fill="#c85f41"/>
<path d="M21 4h1.2v1.3h-1.2z" fill="#c6573b"/>
<path d="M0 5h4.2v1.3h-4.2z" fill="#3c0912"/>
<path d="M4 5h1.2v1.3h-1.2z" fill="#b92a28"/>
<path d="M5 5h1.2v1.3h-1.2z" fill="#e3b8a7"/>
<path d="M6 5h1.2v1.3h-1.2z" fill="#559bc1"/>
<path d="M7 5h1.2v1.3h-1.2z" fill="#2b84bd"/>
<path d="M8 5h1.2v1.3h-1.2z" fill="#d3dee7"/>
<path d="M9 5h1.2v1.3h-1.2z" fill="#f0e7e4"/>
<path d="M10 5h1.2v1.3h-1.2z" fill="#cd7052"/>
<path d="M11 5h1.2v1.3h-1.2z" fill="#c44c33"/>
<path d="M12 5h1.2v1.3h-1.2z" fill="#bf3b2c"/>
<path d="M13 5h1.2v1.3h-1.2z" fill="#c44c33"/>
<path d="M14 5h1.2v1.3h-1.2z" fill="#d27e62"/>
<path d="M15 5h5.2v1.3h-5.2z" fill="#d58a6f"/>
<path d="M20 5h1.2v1.3h-1.2z" fill="#d38468"/>
<path d="M21 5h1.2v1.3h-1.2z" fill="#d27e62"/>
<path d="M0 6h4.2v1.3h-4.2z" fill="#3c0912"/>
<path d="M4 6h1.2v1.3h-1.2z" fill="#730e2a"/>
<path d="M5 6h1.2v1.3h-1.2z" fill="#da9982"/>
<path d="M6 6h1.2v1.3h-1.2z" fill="#81b0c9"/>
<path d="M7 6h1.2v1.3h-1.2z" fill="#559bc1"/>
<path d="M8 6h1.2v1.3h-1.2z" fill="#abc6d7"/>
<path d="M9 6h1.2v1.3h-1.2z" fill="#ebeaeb"/>
<path d="M10 6h1.2v1.3h-1.2z" fill="#da9982"/>
<path d="M11 6h2.2v1.3h-2.2z" fill="#d79279"/>
<path d="M13 6h1.2v1.3h-1.2z" fill="#da9982"/>
<path d="M14 6h1.2v1.3h-1.2z" fill="#e3b8a7"/>
<path d="M15 6h7.2v1.3h-7.2z" fill="#e7c8ba"/>
<path d="M0 7h1.2v1.3h-1.2z" fill="#4e0b1a"/>
<path d="M1 7h1.2v1.3h-1.2z" fill="#540c1c"/>
<path d="M2 7h1.2v1.3h-1.2z" fill="#670e24"/>
<path d="M3 7h1.2v1.3h-1.2z" fill="#730e2a"/>
<path d="M4 7h1.2v1.3h-1.2z" fill="#86102e"/>
<path d="M5 7h1.2v1.3h-1.2z" fill="#d68d72"/>
<path d="M6 7h1.2v1.3h-1.2z" fill="#81b0c9"/>
<path d="M7 7h1.2v1.3h-1.2z" fill="#559bc1"/>
<path d="M8 7h1.2v1.3h-1.2z" fill="#abc6d7"/>
<path d="M9 7h1.2v1.3h-1.2z" fill="#e3e6ea"/>
<path d="M10 7h1.2v1.3h-1.2z" fill="#e7c8ba"/>
<path d="M11 7h2.2v1.3h-2.2z" fill="#e3b8a7"/>
<path d="M13 7h1.2v1.3h-1.2z" fill="#e7c8ba"/>
<path d="M14 7h1.2v1.3h-1.2z" fill="#f0e7e4"/>
<path d="M15 7h7.2v1.3h-7.2z" fill="#eeded7"/>
<path d="M0 8h1.2v1.3h-1.2z" fill="#af222a"/>
<path d="M1 8h1.2v1.3h-1.2z" fill="#b62828"/>
<path d="M2 8h1.2v1.3h-1.2z" fill="#ba2d29"/>
<path d="M3 8h1.2v1.3h-1.2z" fill="#bd342a"/>
<path d="M4 8h1.2v1.3h-1.2z" fill="#b92a28"/>
<path d="M5 8h1.2v1.3h-1.2z" fill="#da9982"/>
<path d="M6 8h1.2v1.3h-1.2z" fill="#81b0c9"/>
<path d="M7 8h1.2v1.3h-1.2z" fill="#559bc1"/>
<path d="M8 8h1.2v1.3h-1.2z" fill="#96bace"/>
<path d="M9 8h1.2v1.3h-1.2z" fill="#dae2e8"/>
<path d="M10 8h1.2v1.3h-1.2z" fill="#ebeaeb"/>
<path d="M11 8h2.2v1.3h-2.2z" fill="#f1eceb"/>
<path d="M13 8h1.2v1.3h-1.2z" fill="#ebeaeb"/>
<path d="M14 8h1.2v1.3h-1.2z" fill="#c4d6e1"/>
<path d="M15 8h1.2v1.3h-1.2z" fill="#dae2e8"/>
<path d="M16 8h1.2v1.3h-1.2z" fill="#e0e4e9"/>
<path d="M17 8h1.2v1.3h-1.2z" fill="#e3e6ea"/>
<path d="M18 8h1.2v1.3h-1.2z" fill="#e6e7ea"/>
<path d="M19 8h3.2v1.3h-3.2z" fill="#e9e8ea"/>
<path d="M0 9h4.2v1.3h-4.2z" fill="#d0795c"/>
<path d="M4 9h1.2v1.3h-1.2z" fill="#cd7052"/>
<path d="M5 9h1.2v1.3h-1.2z" fill="#e3b8a7"/>
<path d="M6 9h1.2v1.3h-1.2z" fill="#81b0c9"/>
<path d="M7 9h1.2v1.3h-1.2z" fill="#4090bf"/>
<path d="M8 9h1.2v1.3h-1.2z" fill="#96bace"/>
<path d="M9 9h1.2v1.3h-1.2z" fill="#dae2e8"/>
<path d="M10 9h1.2v1.3h-1.2z" fill="#d3dee7"/>
<path d="M11 9h1.2v1.3h-1.2z" fill="#ccdae4"/>
<path d="M12 9h1.2v1.3h-1.2z" fill="#bfd3df"/>
<path d="M13 9h1.2v1.3h-1.2z" fill="#abc6d7"/>
<path d="M14 9h1.2v1.3h-1.2z" fill="#81b0c9"/>
<path d="M15 9h1.2v1.3h-1.2z" fill="#abc6d7"/>
<path d="M16 9h6.2v1.3h-6.2z" fill="#b7cedc"/>
<path d="M0 10h2.2v1.3h-2.2z" fill="#d38468"/>
<path d="M2 10h2.2v1.3h-2.2z" fill="#d27e62"/>
<path d="M4 10h1.2v1.3h-1.2z" fill="#da9982"/>
<path d="M5 10h1.2v1.3h-1.2z" fill="#d3dee7"/>
<path d="M6 10h1.2v1.3h-1.2z" fill="#81b0c9"/>
<path d="M7 10h1.2v1.3h-1.2z" fill="#4090bf"/>
<path d="M8 10h1.2v1.3h-1.2z" fill="#abc6d7"/>
<path d="M9 10h2.2v1.3h-2.2z" fill="#e3e6ea"/>
<path d="M11 10h1.2v1.3h-1.2z" fill="#d3dee7"/>
<path d="M12 10h1.2v1.3h-1.2z" fill="#81b0c9"/>
<path d="M13 10h1.2v1.3h-1.2z" fill="#6ba6c5"/>
<path d="M14 10h1.2v1.3h-1.2z" fill="#559bc1"/>
<path d="M15 10h1.2v1.3h-1.2z" fill="#81b0c9"/>
<path d="M16 10h6.2v1.3h-6.2z" fill="#b7cedc"/>
<path d="M0 11h1.2v1.3h-1.2z" fill="#d27e62"/>
<path d="M1 11h1.2v1.3h-1.2z" fill="#cd7052"/>
<path d="M2 11h2.2v1.3h-2.2z" fill="#c85f41"/>
<path d="M4 11h1.2v1.3h-1.2z" fill="#e7c8ba"/>
<path d="M5 11h1.2v1.3h-1.2z" fill="#96bace"/>
<path d="M6 11h1.2v1.3h-1.2z" fill="#4d96c0"/>
<path d="M7 11h1.2v1.3h-1.2z" fill="#2b84bd"/>
<path d="M8 11h1.2v1.3h-1.2z" fill="#bfd3df"/>
<path d="M9 11h1.2v1.3h-1.2z" fill="#f1eceb"/>
<path d="M10 11h1.2v1.3h-1.2z" fill="#f0e7e4"/>
<path d="M11 11h1.2v1.3h-1.2z" fill="#dae2e8"/>
<path d="M12 11h1.2v1.3h-1.2z" fill="#81b0c9"/>
<path d="M13 11h1.2v1.3h-1.2z" fill="#559bc1"/>
<path d="M14 11h1.2v1.3h-1.2z" fill="#4d96c0"/>
<path d="M15 11h1.2v1.3h-1.2z" fill="#81b0c9"/>
<path d="M16 11h6.2v1.3h-6.2z" fill="#b7cedc"/>
<path d="M0 12h1.2v1.3h-1.2z" fill="#d27e62"/>
<path d="M1 12h1.2v1.3h-1.2z" fill="#c85f41"/>
<path d="M2 12h1.2v1.3h-1.2z" fill="#c6573b"/>
<path d="M3 12h1.2v1.3h-1.2z" fill="#cd7052"/>
<path d="M4 12h1.2v1.3h-1.2z" fill="#ebd4ca"/>
<path d="M5 12h1.2v1.3h-1.2z" fill="#81b0c9"/>
<path d="M6 12h1.2v1.3h-1.2z" fill="#4090bf"/>
<path d="M7 12h1.2v1.3h-1.2z" fill="#2b84bd"/>
<path d="M8 12h1.2v1.3h-1.2z" fill="#d3dee7"/>
<path d="M9 12h1.2v1.3h-1.2z" fill="#f1eceb"/>
<path d="M10 12h1.2v1.3h-1.2z" fill="#f0e5e1"/>
<path d="M11 12h1.2v1.3h-1.2z" fill="#dae2e8"/>
<path d="M12 12h1.2v1.3h-1.2z" fill="#81b0c9"/>
<path d="M13 12h1.2v1.3h-1.2z" fill="#4d96c0"/>
<path d="M14 12h1.2v1.3h-1.2z" fill="#4090bf"/>
<path d="M15 12h1.2v1.3h-1.2z" fill="#81b0c9"/>
<path d="M16 12h6.2v1.3h-6.2z" fill="#b7cedc"/>
<path d="M0 13h3.2v1.3h-3.2z" fill="#e3b8a7"/>
<path d="M3 13h1.2v1.3h-1.2z" fill="#e5bfaf"/>
<path d="M4 13h1.2v1.3h-1.2z" fill="#f0e7e4"/>
<path d="M5 13h1.2v1.3h-1.2z" fill="#96bace"/>
<path d="M6 13h1.2v1.3h-1.2z" fill="#6ba6c5"/>
<path d="M7 13h1.2v1.3h-1.2z" fill="#5e9fc2"/>
<path d="M8 13h1.2v1.3h-1.2z" fill="#ccdae4"/>
<path d="M9 13h2.2v1.3h-2.2z" fill="#ebeaeb"/>
<path d="M11 13h1.2v1.3h-1.2z" fill="#d3dee7"/>
<path d="M12 13h1.2v1.3h-1.2z" fill="#81b0c9"/>
<path d="M13 13h2.2v1.3h-2.2z" fill="#559bc1"/>
<path d="M15 13h1.2v1.3h-1.2z" fill="#81b0c9"/>
<path d="M16 13h6.2v1.3h-6.2z" fill="#96bace"/>
<path d="M0 14h1.2v1.3h-1.2z" fill="#eee0da"/>
<path d="M1 14h1.2v1.3h-1.2z" fill="#f0e5e1"/>
<path d="M2 14h3.2v1.3h-3.2z" fill="#f1eceb"/>
<path d="M5 14h1.2v1.3h-1.2z" fill="#e9e8ea"/>
<path d="M6 14h1.2v1.3h-1.2z" fill="#abc6d7"/>
<path d="M7 14h2.2v1.3h-2.2z" fill="#81b0c9"/>
<path d="M9 14h2.2v1.3h-2.2z" fill="#89b4cb"/>
<path d="M11 14h1.2v1.3h-1.2z" fill="#96bace"/>
<path d="M12 14h1.2v1.3h-1.2z" fill="#559bc1"/>
<path d="M13 14h1.2v1.3h-1.2z" fill="#378bbe"/>
<path d="M14 14h1.2v1.3h-1.2z" fill="#4090bf"/>
<path d="M15 14h1.2v1.3h-1.2z" fill="#559bc1"/>
<path d="M16 14h6.2v1.3h-6.2z" fill="#6ba6c5"/>
<path d="M0 15h1.2v1.3h-1.2z" fill="#d3dee7"/>
<path d="M1 15h4.2v1.3h-4.2z" fill="#89b4cb"/>
<path d="M5 15h1.2v1.3h-1.2z" fill="#6ba6c5"/>
<path d="M6 15h1.2v1.3h-1.2z" fill="#5e9fc2"/>
<path d="M7 15h1.2v1.3h-1.2z" fill="#559bc1"/>
<path d="M8 15h3.2v1.3h-3.2z" fill="#81b0c9"/>
<path d="M11 15h1.2v1.3h-1.2z" fill="#1c77be"/>
<path d="M12 15h1.2v1.3h-1.2z" fill="#2a3ea0"/>
<path d="M13 15h1.2v1.3h-1.2z" fill="#293891"/>
<path d="M14 15h1.2v1.3h-1.2z" fill="#2a3ea0"/>
<path d="M15 15h1.2v1.3h-1.2z" fill="#1369be"/>
<path d="M16 15h1.2v1.3h-1.2z" fill="#378bbe"/>
<path d="M17 15h3.2v1.3h-3.2z" fill="#4090bf"/>
<path d="M20 15h1.2v1.3h-1.2z" fill="#247fbd"/>
<path d="M21 15h1.2v1.3h-1.2z" fill="#1c77be"/>
<path d="M0 16h1.2v1.3h-1.2z" fill="#abc6d7"/>
<path d="M1 16h3.2v1.3h-3.2z" fill="#2b84bd"/>
<path d="M4 16h1.2v1.3h-1.2z" fill="#4d96c0"/>
<path d="M5 16h2.2v1.3h-2.2z" fill="#559bc1"/>
<path d="M7 16h1.2v1.3h-1.2z" fill="#4d96c0"/>
<path d="M8 16h1.2v1.3h-1.2z" fill="#78acc7"/>
<path d="M9 16h1.2v1.3h-1.2z" fill="#81b0c9"/>
<path d="M10 16h1.2v1.3h-1.2z" fill="#78acc7"/>
<path d="M11 16h1.2v1.3h-1.2z" fill="#1c77be"/>
<path d="M12 16h1.2v1.3h-1.2z" fill="#293891"/>
<path d="M13 16h1.2v1.3h-1.2z" fill="#242b70"/>
<path d="M14 16h1.2v1.3h-1.2z" fill="#273281"/>
<path d="M15 16h1.2v1.3h-1.2z" fill="#1369be"/>
<path d="M16 16h1.2v1.3h-1.2z" fill="#378bbe"/>
<path d="M17 16h3.2v1.3h-3.2z" fill="#4090bf"/>
<path d="M20 16h1.2v1.3h-1.2z" fill="#1c77be"/>
<path d="M21 16h1.2v1.3h-1.2z" fill="#156fbe"/>
<path d="M0 17h1.2v1.3h-1.2z" fill="#96bace"/>
<path d="M1 17h4.2v1.3h-4.2z" fill="#1c77be"/>
<path d="M5 17h1.2v1.3h-1.2z" fill="#4090bf"/>
<path d="M6 17h2.2v1.3h-2.2z" fill="#4d96c0"/>
<path d="M8 17h1.2v1.3h-1.2z" fill="#6ba6c5"/>
<path d="M9 17h1.2v1.3h-1.2z" fill="#78acc7"/>
<path d="M10 17h1.2v1.3h-1.2z" fill="#6ba6c5"/>
<path d="M11 17h1.2v1.3h-1.2z" fill="#156fbe"/>
<path d="M12 17h1.2v1.3h-1.2z" fill="#293a97"/>
<path d="M13 17h1.2v1.3h-1.2z" fill="#28358a"/>
<path d="M14 17h1.2v1.3h-1.2z" fill="#293891"/>
<path d="M15 17h1.2v1.3h-1.2z" fill="#1369be"/>
<path d="M16 17h1.2v1.3h-1.2z" fill="#3389be"/>
<path d="M17 17h3.2v1.3h-3.2z" fill="#378bbe"/>
<path d="M20 17h2.2v1.3h-2.2z" fill="#1c77be"/>
<path d="M0 18h1.2v1.3h-1.2z" fill="#81b0c9"/>
<path d="M1 18h1.2v1.3h-1.2z" fill="#2150b9"/>
<path d="M2 18h3.2v1.3h-3.2z" fill="#273281"/>
<path d="M5 18h1.2v1.3h-1.2z" fill="#1369be"/>
<path d="M6 18h1.2v1.3h-1.2z" fill="#2b84bd"/>
<path d="M7 18h1.2v1.3h-1.2z" fill="#3389be"/>
<path d="M8 18h1.2v1.3h-1.2z" fill="#4d96c0"/>
<path d="M9 18h1.2v1.3h-1.2z" fill="#559bc1"/>
<path d="M10 18h1.2v1.3h-1.2z" fill="#4d96c0"/>
<path d="M11 18h1.2v1.3h-1.2z" fill="#1369be"/>
<path d="M12 18h1.2v1.3h-1.2z" fill="#293891"/>
<path d="M13 18h1.2v1.3h-1.2z" fill="#242b70"/>
<path d="M14 18h1.2v1.3h-1.2z" fill="#262e78"/>
<path d="M15 18h1.2v1.3h-1.2z" fill="#1664bd"/>
<path d="M16 18h4.2v1.3h-4.2z" fill="#2b84bd"/>
<path d="M20 18h2.2v1.3h-2.2z" fill="#247fbd"/>
<path d="M0 19h1.2v1.3h-1.2z" fill="#abc6d7"/>
<path d="M1 19h1.2v1.3h-1.2z" fill="#2150b9"/>
<path d="M2 19h1.2v1.3h-1.2z" fill="#242b70"/>
<path d="M3 19h1.2v1.3h-1.2z" fill="#222867"/>
<path d="M4 19h1.2v1.3h-1.2z" fill="#242b70"/>
<path d="M5 19h1.2v1.3h-1.2z" fill="#1a5dbb"/>
<path d="M6 19h1.2v1.3h-1.2z" fill="#1369be"/>
<path d="M7 19h1.2v1.3h-1.2z" fill="#156fbe"/>
<path d="M8 19h1.2v1.3h-1.2z" fill="#2b84bd"/>
<path d="M9 19h1.2v1.3h-1.2z" fill="#3389be"/>
<path d="M10 19h1.2v1.3h-1.2z" fill="#2b84bd"/>
<path d="M11 19h1.2v1.3h-1.2z" fill="#1664bd"/>
<path d="M12 19h1.2v1.3h-1.2z" fill="#293891"/>
<path d="M13 19h1.2v1.3h-1.2z" fill="#242b70"/>
<path d="M14 19h1.2v1.3h-1.2z" fill="#262e78"/>
<path d="M15 19h1.2v1.3h-1.2z" fill="#1a5dbb"/>
<path d="M16 19h6.2v1.3h-6.2z" fill="#247fbd"/>
<path d="M0 20h1.2v1.3h-1.2z" fill="#d3dee7"/>
<path d="M1 20h1.2v1.3h-1.2z" fill="#2b84bd"/>
<path d="M2 20h1.2v1.3h-1.2z" fill="#1369be"/>
<path d="M3 20h2.2v1.3h-2.2z" fill="#1664bd"/>
<path d="M5 20h2.2v1.3h-2.2z" fill="#1369be"/>
<path d="M7 20h1.2v1.3h-1.2z" fill="#156fbe"/>
<path d="M8 20h1.2v1.3h-1.2z" fill="#1c77be"/>
<path d="M9 20h2.2v1.3h-2.2z" fill="#247fbd"/>
<path d="M11 20h1.2v1.3h-1.2z" fill="#156fbe"/>
<path d="M12 20h1.2v1.3h-1.2z" fill="#1664bd"/>
<path d="M13 20h1.2v1.3h-1.2z" fill="#1a5dbb"/>
<path d="M14 20h1.2v1.3h-1.2z" fill="#1664bd"/>
<path d="M15 20h1.2v1.3h-1.2z" fill="#156fbe"/>
<path d="M16 20h6.2v1.3h-6.2z" fill="#1c77be"/>
</g></g>
<g clip-path="url(#c02)" fill="none" stroke="#808080" stroke-width="1.1" stroke-linejoin="round">
<path d="M332.8 127.3L328.3 124.8L328.8 120.0M347.8 122.7L348.3 124.8L344.7 127.4L338.8 127.6L332.8 127.3M392.6 126.2L391.0 124.8L391.1 120.0L391.7 115.1L391.4 110.2L392.6 105.3L398.6 104.6L404.6 105.3L407.0 110.2L406.1 115.1L407.6 120.0L408.0 124.8L404.6 127.3L398.6 127.8L392.6 126.2" stroke-dasharray="3,1.6"/>
<path d="M326.8 129.7L324.4 124.8L323.8 120.0L325.8 115.1L326.8 110.2L338.8 110.2L345.3 113.6M352.1 117.4L356.7 120.0L362.7 120.9L368.7 124.8L374.7 127.3L380.7 124.8L382.6 121.4M390.6 102.8L392.6 101.9L398.6 100.9L404.6 101.3L410.6 102.9L415.2 105.3L415.2 110.2L415.6 115.1L416.6 120.0L434.5 120.0L436.8 115.1L437.5 110.2L438.8 105.3L440.5 104.8L446.5 104.1M362.7 90.7L362.7 85.9L362.7 90.7M362.7 56.6L360.7 51.8L359.1 46.9L360.7 42.0L362.7 41.6L363.3 42.0L364.1 46.9L363.3 51.8L362.7 56.6" stroke-dasharray="3,1.6"/>
<path d="M323.0 129.7L321.4 124.8L320.8 122.4M320.8 115.1L321.8 110.2L325.8 105.3L326.8 104.9L344.7 104.8L350.7 103.8L356.7 101.8L359.7 100.5L350.7 95.6L350.0 90.7L350.7 85.9L355.2 81.0L356.1 76.1L356.2 61.5L355.2 56.6L355.1 51.8L355.2 42.0L356.7 40.6L362.7 39.4L366.1 42.0L366.6 46.9L366.3 51.8L366.4 56.6L367.2 61.5L367.2 66.4L368.7 71.3L368.7 76.1L367.5 81.0L366.4 90.7L365.7 95.6L368.7 99.1L374.7 99.9L380.7 99.9L386.6 100.5L391.1 95.6L391.3 90.7L391.1 81.0L392.6 79.4L398.6 77.8L404.6 74.6L407.6 76.1L410.6 78.6L412.9 81.0L412.9 90.7L416.6 95.6L446.5 95.6" stroke-dasharray="3,1.6"/>
<path d="M320.8 102.1L326.8 101.0L332.8 100.5L344.7 100.5L345.2 95.6L346.2 90.7L347.0 85.9L347.6 84.5M349.2 81.0L350.7 79.4L353.1 76.1L353.7 71.3L353.9 66.4L353.7 61.5L352.7 56.6L352.4 51.8L352.4 46.9L352.7 42.0L356.7 38.1L362.7 37.2L368.7 32.3M374.7 90.7L380.7 93.7L382.3 90.7L381.9 85.9L380.7 84.5L374.7 85.9L374.7 90.7M368.7 32.3L368.7 37.2L369.9 42.0M373.4 56.0L374.7 59.1L375.0 61.5L376.2 66.4L380.7 70.7L386.6 71.3L392.6 71.3L398.6 70.7L404.6 67.0L410.6 68.5L434.5 69.6L446.5 69.6"/>
<path d="M320.8 94.4L326.8 94.8L332.8 94.8L338.8 94.3L342.2 90.7L343.0 85.9L345.5 81.0L349.5 76.1L350.7 73.7L351.2 71.3L351.6 66.4L351.2 61.5L350.1 56.6L349.4 51.8L349.5 46.9L350.3 42.0L350.7 41.3L354.7 37.2L355.9 32.3M375.6 32.3L375.8 46.9L376.3 51.8L379.7 61.5L380.7 63.1L386.6 64.5L392.6 64.5L398.6 63.1L401.6 61.5L404.6 60.3L409.1 59.5M425.5 59.2L434.5 59.2L446.5 59.6"/>
<path d="M326.8 90.7L332.8 91.0L334.5 90.7L332.8 85.9L326.8 90.7M320.8 74.6L338.8 74.2L344.7 74.9L347.3 71.3L348.7 66.4L348.5 61.5L346.7 56.6L346.1 51.8L346.5 46.9L348.0 42.0L350.7 37.9L351.4 37.2L353.9 32.3M446.5 40.6L440.5 42.0L437.5 46.9L440.5 51.8L446.5 52.6M377.1 32.3L377.2 46.9L378.3 51.8L380.7 56.0L383.6 56.6L386.6 57.8L392.6 58.5L398.6 57.6L400.6 56.6L404.6 52.6L406.6 51.8L408.3 46.9L407.6 42.0"/>
<path d="M320.8 70.0L326.8 69.6L340.2 68.4M342.9 51.8L343.4 46.9L344.7 44.5L345.7 42.0L348.5 37.2L350.7 34.4L351.9 32.3M378.6 32.3L378.7 46.9L380.3 51.8L380.7 52.5L386.6 53.9L392.6 54.2L398.6 53.4L400.4 51.8L401.9 46.9L402.4 42.0L402.4 32.3"/>
</g>
<g clip-path="url(#c02)" font-size="7.2" fill="#000" text-anchor="middle">
<text transform="translate(404.4,40.5) rotate(-85)" y="2.5" textLength="15.1" lengthAdjust="spacingAndGlyphs">0.50</text>
<text transform="translate(417.3,57.6) rotate(0)" y="2.5" textLength="15.1" lengthAdjust="spacingAndGlyphs">0.25</text>
<text transform="translate(343.9,60.6) rotate(-85)" y="2.5" textLength="15.1" lengthAdjust="spacingAndGlyphs">0.75</text>
<text transform="translate(369.6,50.1) rotate(85)" y="2.5" textLength="15.1" lengthAdjust="spacingAndGlyphs">0.00</text>
<text transform="translate(342.3,85.7) rotate(-50)" y="2.5" textLength="15.1" lengthAdjust="spacingAndGlyphs">0.00</text>
<text transform="translate(372.5,71.5) rotate(80)" y="2.5" textLength="17.6" lengthAdjust="spacingAndGlyphs">-0.25</text>
<text transform="translate(353.5,111.7) rotate(-40)" y="2.5" textLength="17.6" lengthAdjust="spacingAndGlyphs">-0.50</text>
<text transform="translate(338.8,120.6) rotate(-10)" y="2.5" textLength="17.6" lengthAdjust="spacingAndGlyphs">-0.75</text>
<text transform="translate(386.2,111.7) rotate(-85)" y="2.5" textLength="17.6" lengthAdjust="spacingAndGlyphs">-0.50</text>
<text transform="translate(427.2,126.5) rotate(0)" y="2.5" textLength="17.6" lengthAdjust="spacingAndGlyphs">-0.50</text>
</g>
<rect x="317.8" y="32.3" width="128.7" height="97.4" fill="none" stroke="#000" stroke-width="0.8"/>
<path d="M446.50,129.70v3.5 M440.51,129.70v2.0 M434.53,129.70v2.0 M428.54,129.70v2.0 M422.56,129.70v3.5 M416.57,129.70v2.0 M410.58,129.70v2.0 M404.60,129.70v2.0 M398.61,129.70v3.5 M392.63,129.70v2.0 M386.64,129.70v2.0 M380.65,129.70v2.0 M374.67,129.70v3.5 M368.68,129.70v2.0 M362.70,129.70v2.0 M356.71,129.70v2.0 M350.72,129.70v3.5 M344.74,129.70v2.0 M338.75,129.70v2.0 M332.77,129.70v2.0 M326.78,129.70v3.5 M320.79,129.70v2.0 M317.80,129.70h-3.5 M317.80,127.75h-2.0 M317.80,125.80h-2.0 M317.80,123.86h-2.0 M317.80,121.91h-2.0 M317.80,119.96h-3.5 M317.80,118.01h-2.0 M317.80,116.06h-2.0 M317.80,114.12h-2.0 M317.80,112.17h-2.0 M317.80,110.22h-3.5 M317.80,108.27h-2.0 M317.80,106.32h-2.0 M317.80,104.38h-2.0 M317.80,102.43h-2.0 M317.80,100.48h-3.5 M317.80,98.53h-2.0 M317.80,96.58h-2.0 M317.80,94.64h-2.0 M317.80,92.69h-2.0 M317.80,90.74h-3.5 M317.80,88.79h-2.0 M317.80,86.84h-2.0 M317.80,84.90h-2.0 M317.80,82.95h-2.0 M317.80,81.00h-3.5 M317.80,79.05h-2.0 M317.80,77.10h-2.0 M317.80,75.16h-2.0 M317.80,73.21h-2.0 M317.80,71.26h-3.5 M317.80,69.31h-2.0 M317.80,67.36h-2.0 M317.80,65.42h-2.0 M317.80,63.47h-2.0 M317.80,61.52h-3.5 M317.80,59.57h-2.0 M317.80,57.62h-2.0 M317.80,55.68h-2.0 M317.80,53.73h-2.0 M317.80,51.78h-3.5 M317.80,49.83h-2.0 M317.80,47.88h-2.0 M317.80,45.94h-2.0 M317.80,43.99h-2.0 M317.80,42.04h-3.5 M317.80,40.09h-2.0 M317.80,38.14h-2.0 M317.80,36.20h-2.0 M317.80,34.25h-2.0 M317.80,32.30h-3.5" stroke="#000" stroke-width="0.8" fill="none"/>
<text x="323.00" y="41.20" font-size="9.6" text-anchor="start" fill="#fff" font-weight="bold" textLength="13.56" lengthAdjust="spacingAndGlyphs">(c)</text>
<!-- panel d -->
<g clip-path="url(#c10)"><g transform="translate(48.10,140.965) scale(5.9860,4.8700)">
<path d="M0 0h1.2v1.3h-1.2z" fill="#b02329"/>
<path d="M1 0h1.2v1.3h-1.2z" fill="#b12429"/>
<path d="M2 0h1.2v1.3h-1.2z" fill="#b52729"/>
<path d="M3 0h1.2v1.3h-1.2z" fill="#c03d2c"/>
<path d="M4 0h1.2v1.3h-1.2z" fill="#c75b3e"/>
<path d="M5 0h1.2v1.3h-1.2z" fill="#cf775a"/>
<path d="M6 0h1.2v1.3h-1.2z" fill="#d78f75"/>
<path d="M7 0h1.2v1.3h-1.2z" fill="#dda48f"/>
<path d="M8 0h1.2v1.3h-1.2z" fill="#e2b3a1"/>
<path d="M9 0h1.2v1.3h-1.2z" fill="#e5beaf"/>
<path d="M10 0h1.2v1.3h-1.2z" fill="#e7c7b9"/>
<path d="M11 0h1.2v1.3h-1.2z" fill="#e9cdc0"/>
<path d="M12 0h1.2v1.3h-1.2z" fill="#ead2c7"/>
<path d="M13 0h1.2v1.3h-1.2z" fill="#ecd6cd"/>
<path d="M14 0h1.2v1.3h-1.2z" fill="#eddbd3"/>
<path d="M15 0h1.2v1.3h-1.2z" fill="#eedfd8"/>
<path d="M16 0h1.2v1.3h-1.2z" fill="#efe3de"/>
<path d="M17 0h1.2v1.3h-1.2z" fill="#f0e8e5"/>
<path d="M18 0h1.2v1.3h-1.2z" fill="#f1ebea"/>
<path d="M19 0h1.2v1.3h-1.2z" fill="#eceaeb"/>
<path d="M20 0h1.2v1.3h-1.2z" fill="#e6e7ea"/>
<path d="M21 0h1.2v1.3h-1.2z" fill="#dfe4e9"/>
<path d="M0 1h2.2v1.3h-2.2z" fill="#ab1f2a"/>
<path d="M2 1h1.2v1.3h-1.2z" fill="#ae212a"/>
<path d="M3 1h1.2v1.3h-1.2z" fill="#bb3029"/>
<path d="M4 1h1.2v1.3h-1.2z" fill="#c55035"/>
<path d="M5 1h1.2v1.3h-1.2z" fill="#cd7052"/>
<path d="M6 1h1.2v1.3h-1.2z" fill="#d5886d"/>
<path d="M7 1h1.2v1.3h-1.2z" fill="#db9d87"/>
<path d="M8 1h1.2v1.3h-1.2z" fill="#e1af9d"/>
<path d="M9 1h1.2v1.3h-1.2z" fill="#e4bcac"/>
<path d="M10 1h1.2v1.3h-1.2z" fill="#e7c6b8"/>
<path d="M11 1h1.2v1.3h-1.2z" fill="#e9ccc0"/>
<path d="M12 1h1.2v1.3h-1.2z" fill="#ead1c7"/>
<path d="M13 1h1.2v1.3h-1.2z" fill="#ecd6cc"/>
<path d="M14 1h1.2v1.3h-1.2z" fill="#eddad2"/>
<path d="M15 1h1.2v1.3h-1.2z" fill="#eeded7"/>
<path d="M16 1h1.2v1.3h-1.2z" fill="#efe3de"/>
<path d="M17 1h1.2v1.3h-1.2z" fill="#f0e8e6"/>
<path d="M18 1h1.2v1.3h-1.2z" fill="#f0ebeb"/>
<path d="M19 1h1.2v1.3h-1.2z" fill="#ebe9eb"/>
<path d="M20 1h1.2v1.3h-1.2z" fill="#e5e7ea"/>
<path d="M21 1h1.2v1.3h-1.2z" fill="#dce3e9"/>
<path d="M0 2h1.2v1.3h-1.2z" fill="#a71c2b"/>
<path d="M1 2h1.2v1.3h-1.2z" fill="#a71d2b"/>
<path d="M2 2h1.2v1.3h-1.2z" fill="#a61b2b"/>
<path d="M3 2h1.2v1.3h-1.2z" fill="#b02329"/>
<path d="M4 2h1.2v1.3h-1.2z" fill="#c1402d"/>
<path d="M5 2h1.2v1.3h-1.2z" fill="#c96244"/>
<path d="M6 2h1.2v1.3h-1.2z" fill="#d17d60"/>
<path d="M7 2h1.2v1.3h-1.2z" fill="#d8937b"/>
<path d="M8 2h1.2v1.3h-1.2z" fill="#dea692"/>
<path d="M9 2h1.2v1.3h-1.2z" fill="#e3b7a6"/>
<path d="M10 2h1.2v1.3h-1.2z" fill="#e6c3b4"/>
<path d="M11 2h1.2v1.3h-1.2z" fill="#e8cabd"/>
<path d="M12 2h1.2v1.3h-1.2z" fill="#eacfc4"/>
<path d="M13 2h1.2v1.3h-1.2z" fill="#ebd4ca"/>
<path d="M14 2h1.2v1.3h-1.2z" fill="#ecd8cf"/>
<path d="M15 2h1.2v1.3h-1.2z" fill="#eeddd5"/>
<path d="M16 2h1.2v1.3h-1.2z" fill="#efe2dc"/>
<path d="M17 2h1.2v1.3h-1.2z" fill="#f0e8e5"/>
<path d="M18 2h1.2v1.3h-1.2z" fill="#efebeb"/>
<path d="M19 2h1.2v1.3h-1.2z" fill="#e9e9ea"/>
<path d="M20 2h1.2v1.3h-1.2z" fill="#e3e6ea"/>
<path d="M21 2h1.2v1.3h-1.2z" fill="#d9e1e8"/>
<path d="M0 3h3.2v1.3h-3.2z" fill="#a0172c"/>
<path d="M3 3h1.2v1.3h-1.2z" fill="#aa1e2a"/>
<path d="M4 3h1.2v1.3h-1.2z" fill="#bc322a"/>
<path d="M5 3h1.2v1.3h-1.2z" fill="#c54f35"/>
<path d="M6 3h1.2v1.3h-1.2z" fill="#cc6c4e"/>
<path d="M7 3h1.2v1.3h-1.2z" fill="#d4866a"/>
<path d="M8 3h1.2v1.3h-1.2z" fill="#da9b84"/>
<path d="M9 3h1.2v1.3h-1.2z" fill="#e0ad9a"/>
<path d="M10 3h1.2v1.3h-1.2z" fill="#e4bcac"/>
<path d="M11 3h1.2v1.3h-1.2z" fill="#e7c6b8"/>
<path d="M12 3h1.2v1.3h-1.2z" fill="#e9ccc0"/>
<path d="M13 3h1.2v1.3h-1.2z" fill="#ead1c6"/>
<path d="M14 3h1.2v1.3h-1.2z" fill="#ebd5cb"/>
<path d="M15 3h1.2v1.3h-1.2z" fill="#eddad1"/>
<path d="M16 3h1.2v1.3h-1.2z" fill="#eedfd8"/>
<path d="M17 3h1.2v1.3h-1.2z" fill="#efe4e0"/>
<path d="M18 3h1.2v1.3h-1.2z" fill="#f0eceb"/>
<path d="M19 3h1.2v1.3h-1.2z" fill="#eae9ea"/>
<path d="M20 3h1.2v1.3h-1.2z" fill="#e2e6ea"/>
<path d="M21 3h1.2v1.3h-1.2z" fill="#d7e0e7"/>
<path d="M0 4h1.2v1.3h-1.2z" fill="#9b132d"/>
<path d="M1 4h1.2v1.3h-1.2z" fill="#98112d"/>
<path d="M2 4h1.2v1.3h-1.2z" fill="#97112d"/>
<path d="M3 4h1.2v1.3h-1.2z" fill="#9f172c"/>
<path d="M4 4h1.2v1.3h-1.2z" fill="#b22529"/>
<path d="M5 4h1.2v1.3h-1.2z" fill="#bf3c2c"/>
<path d="M6 4h1.2v1.3h-1.2z" fill="#c7583c"/>
<path d="M7 4h1.2v1.3h-1.2z" fill="#ce7457"/>
<path d="M8 4h1.2v1.3h-1.2z" fill="#d68c72"/>
<path d="M9 4h1.2v1.3h-1.2z" fill="#dca08b"/>
<path d="M10 4h1.2v1.3h-1.2z" fill="#e1b2a1"/>
<path d="M11 4h1.2v1.3h-1.2z" fill="#e5bfb0"/>
<path d="M12 4h1.2v1.3h-1.2z" fill="#e7c7ba"/>
<path d="M13 4h1.2v1.3h-1.2z" fill="#e9cdc1"/>
<path d="M14 4h1.2v1.3h-1.2z" fill="#ead1c6"/>
<path d="M15 4h1.2v1.3h-1.2z" fill="#ecd6cc"/>
<path d="M16 4h1.2v1.3h-1.2z" fill="#eddbd3"/>
<path d="M17 4h1.2v1.3h-1.2z" fill="#efe2dc"/>
<path d="M18 4h1.2v1.3h-1.2z" fill="#f0e9e7"/>
<path d="M19 4h1.2v1.3h-1.2z" fill="#ebeaeb"/>
<path d="M20 4h1.2v1.3h-1.2z" fill="#e2e6ea"/>
<path d="M21 4h1.2v1.3h-1.2z" fill="#d5dfe7"/>
<path d="M0 5h1.2v1.3h-1.2z" fill="#98112d"/>
<path d="M1 5h1.2v1.3h-1.2z" fill="#91102d"/>
<path d="M2 5h1.2v1.3h-1.2z" fill="#8e102d"/>
<path d="M3 5h1.2v1.3h-1.2z" fill="#94112d"/>
<path d="M4 5h1.2v1.3h-1.2z" fill="#a41a2b"/>
<path d="M5 5h1.2v1.3h-1.2z" fill="#b92b28"/>
<path d="M6 5h1.2v1.3h-1.2z" fill="#c2432d"/>
<path d="M7 5h1.2v1.3h-1.2z" fill="#c86042"/>
<path d="M8 5h1.2v1.3h-1.2z" fill="#d0795c"/>
<path d="M9 5h1.2v1.3h-1.2z" fill="#d79077"/>
<path d="M10 5h1.2v1.3h-1.2z" fill="#dda48f"/>
<path d="M11 5h1.2v1.3h-1.2z" fill="#e2b4a3"/>
<path d="M12 5h1.2v1.3h-1.2z" fill="#e5c1b1"/>
<path d="M13 5h1.2v1.3h-1.2z" fill="#e7c8ba"/>
<path d="M14 5h1.2v1.3h-1.2z" fill="#e9ccc0"/>
<path d="M15 5h1.2v1.3h-1.2z" fill="#ead1c7"/>
<path d="M16 5h1.2v1.3h-1.2z" fill="#ecd7ce"/>
<path d="M17 5h1.2v1.3h-1.2z" fill="#eeded7"/>
<path d="M18 5h1.2v1.3h-1.2z" fill="#f0e6e3"/>
<path d="M19 5h1.2v1.3h-1.2z" fill="#edeaeb"/>
<path d="M20 5h1.2v1.3h-1.2z" fill="#e0e5e9"/>
<path d="M21 5h1.2v1.3h-1.2z" fill="#d2dee6"/>
<path d="M0 6h1.2v1.3h-1.2z" fill="#91112d"/>
<path d="M1 6h1.2v1.3h-1.2z" fill="#840f2e"/>
<path d="M2 6h1.2v1.3h-1.2z" fill="#820f2e"/>
<path d="M3 6h1.2v1.3h-1.2z" fill="#89102e"/>
<path d="M4 6h1.2v1.3h-1.2z" fill="#98112d"/>
<path d="M5 6h1.2v1.3h-1.2z" fill="#ab1f2a"/>
<path d="M6 6h1.2v1.3h-1.2z" fill="#bc322a"/>
<path d="M7 6h1.2v1.3h-1.2z" fill="#c44930"/>
<path d="M8 6h1.2v1.3h-1.2z" fill="#c96244"/>
<path d="M9 6h1.2v1.3h-1.2z" fill="#d07b5e"/>
<path d="M10 6h1.2v1.3h-1.2z" fill="#d89279"/>
<path d="M11 6h1.2v1.3h-1.2z" fill="#dea591"/>
<path d="M12 6h1.2v1.3h-1.2z" fill="#e2b3a2"/>
<path d="M13 6h1.2v1.3h-1.2z" fill="#e5bfaf"/>
<path d="M14 6h1.2v1.3h-1.2z" fill="#e7c7b9"/>
<path d="M15 6h1.2v1.3h-1.2z" fill="#e9cdc1"/>
<path d="M16 6h1.2v1.3h-1.2z" fill="#ebd4ca"/>
<path d="M17 6h1.2v1.3h-1.2z" fill="#eddbd4"/>
<path d="M18 6h1.2v1.3h-1.2z" fill="#efe4e0"/>
<path d="M19 6h1.2v1.3h-1.2z" fill="#edeaeb"/>
<path d="M20 6h1.2v1.3h-1.2z" fill="#d9e1e8"/>
<path d="M21 6h1.2v1.3h-1.2z" fill="#c0d3df"/>
<path d="M0 7h1.2v1.3h-1.2z" fill="#7a0f2d"/>
<path d="M1 7h1.2v1.3h-1.2z" fill="#710e29"/>
<path d="M2 7h1.2v1.3h-1.2z" fill="#730e2a"/>
<path d="M3 7h1.2v1.3h-1.2z" fill="#7c0f2d"/>
<path d="M4 7h1.2v1.3h-1.2z" fill="#8a102e"/>
<path d="M5 7h1.2v1.3h-1.2z" fill="#9d152c"/>
<path d="M6 7h1.2v1.3h-1.2z" fill="#b12429"/>
<path d="M7 7h1.2v1.3h-1.2z" fill="#be372b"/>
<path d="M8 7h1.2v1.3h-1.2z" fill="#c44d33"/>
<path d="M9 7h1.2v1.3h-1.2z" fill="#ca6446"/>
<path d="M10 7h1.2v1.3h-1.2z" fill="#d28164"/>
<path d="M11 7h1.2v1.3h-1.2z" fill="#d9967e"/>
<path d="M12 7h1.2v1.3h-1.2z" fill="#dda48f"/>
<path d="M13 7h1.2v1.3h-1.2z" fill="#e1b2a0"/>
<path d="M14 7h1.2v1.3h-1.2z" fill="#e5c1b2"/>
<path d="M15 7h1.2v1.3h-1.2z" fill="#e8cbbe"/>
<path d="M16 7h1.2v1.3h-1.2z" fill="#ebd2c8"/>
<path d="M17 7h1.2v1.3h-1.2z" fill="#eddbd3"/>
<path d="M18 7h1.2v1.3h-1.2z" fill="#efe4e0"/>
<path d="M19 7h1.2v1.3h-1.2z" fill="#e7e8ea"/>
<path d="M20 7h1.2v1.3h-1.2z" fill="#cbdae4"/>
<path d="M21 7h1.2v1.3h-1.2z" fill="#a7c4d5"/>
<path d="M0 8h2.2v1.3h-2.2z" fill="#5f0d21"/>
<path d="M2 8h1.2v1.3h-1.2z" fill="#610d22"/>
<path d="M3 8h1.2v1.3h-1.2z" fill="#6a0e26"/>
<path d="M4 8h1.2v1.3h-1.2z" fill="#7a0f2d"/>
<path d="M5 8h1.2v1.3h-1.2z" fill="#8e102d"/>
<path d="M6 8h1.2v1.3h-1.2z" fill="#a51b2b"/>
<path d="M7 8h1.2v1.3h-1.2z" fill="#ba2e29"/>
<path d="M8 8h1.2v1.3h-1.2z" fill="#c2432d"/>
<path d="M9 8h1.2v1.3h-1.2z" fill="#c7593d"/>
<path d="M10 8h1.2v1.3h-1.2z" fill="#cf785a"/>
<path d="M11 8h1.2v1.3h-1.2z" fill="#d78f75"/>
<path d="M12 8h1.2v1.3h-1.2z" fill="#db9e88"/>
<path d="M13 8h1.2v1.3h-1.2z" fill="#e0ac99"/>
<path d="M14 8h1.2v1.3h-1.2z" fill="#e5c0b1"/>
<path d="M15 8h1.2v1.3h-1.2z" fill="#e9ccc0"/>
<path d="M16 8h1.2v1.3h-1.2z" fill="#ebd5cb"/>
<path d="M17 8h1.2v1.3h-1.2z" fill="#eeddd6"/>
<path d="M18 8h1.2v1.3h-1.2z" fill="#f0e8e6"/>
<path d="M19 8h1.2v1.3h-1.2z" fill="#dde3e9"/>
<path d="M20 8h1.2v1.3h-1.2z" fill="#b5cddb"/>
<path d="M21 8h1.2v1.3h-1.2z" fill="#8db6cc"/>
<path d="M0 9h1.2v1.3h-1.2z" fill="#490b18"/>
<path d="M1 9h1.2v1.3h-1.2z" fill="#4c0b19"/>
<path d="M2 9h1.2v1.3h-1.2z" fill="#4f0b1a"/>
<path d="M3 9h1.2v1.3h-1.2z" fill="#570c1e"/>
<path d="M4 9h1.2v1.3h-1.2z" fill="#680e25"/>
<path d="M5 9h1.2v1.3h-1.2z" fill="#830f2e"/>
<path d="M6 9h1.2v1.3h-1.2z" fill="#a0172c"/>
<path d="M7 9h1.2v1.3h-1.2z" fill="#bb2f29"/>
<path d="M8 9h1.2v1.3h-1.2z" fill="#c34830"/>
<path d="M9 9h1.2v1.3h-1.2z" fill="#c96143"/>
<path d="M10 9h1.2v1.3h-1.2z" fill="#d27f62"/>
<path d="M11 9h1.2v1.3h-1.2z" fill="#d8947c"/>
<path d="M12 9h1.2v1.3h-1.2z" fill="#dda48f"/>
<path d="M13 9h1.2v1.3h-1.2z" fill="#e3b7a6"/>
<path d="M14 9h1.2v1.3h-1.2z" fill="#e8c8bb"/>
<path d="M15 9h1.2v1.3h-1.2z" fill="#ebd3c9"/>
<path d="M16 9h1.2v1.3h-1.2z" fill="#eedcd5"/>
<path d="M17 9h1.2v1.3h-1.2z" fill="#efe4e0"/>
<path d="M18 9h1.2v1.3h-1.2z" fill="#eae9ea"/>
<path d="M19 9h1.2v1.3h-1.2z" fill="#c7d8e2"/>
<path d="M20 9h1.2v1.3h-1.2z" fill="#9abcd0"/>
<path d="M21 9h1.2v1.3h-1.2z" fill="#71a9c6"/>
<path d="M0 10h3.2v1.3h-3.2z" fill="#3c0912"/>
<path d="M3 10h1.2v1.3h-1.2z" fill="#440a15"/>
<path d="M4 10h1.2v1.3h-1.2z" fill="#570c1d"/>
<path d="M5 10h1.2v1.3h-1.2z" fill="#7e0f2e"/>
<path d="M6 10h1.2v1.3h-1.2z" fill="#a81d2b"/>
<path d="M7 10h1.2v1.3h-1.2z" fill="#c03e2c"/>
<path d="M8 10h1.2v1.3h-1.2z" fill="#c85d3f"/>
<path d="M9 10h1.2v1.3h-1.2z" fill="#d0795c"/>
<path d="M10 10h1.2v1.3h-1.2z" fill="#d8937b"/>
<path d="M11 10h1.2v1.3h-1.2z" fill="#dda18c"/>
<path d="M12 10h1.2v1.3h-1.2z" fill="#e3baa9"/>
<path d="M13 10h1.2v1.3h-1.2z" fill="#e8cbbf"/>
<path d="M14 10h1.2v1.3h-1.2z" fill="#ecd7ce"/>
<path d="M15 10h1.2v1.3h-1.2z" fill="#efe1db"/>
<path d="M16 10h1.2v1.3h-1.2z" fill="#f0e9e6"/>
<path d="M17 10h1.2v1.3h-1.2z" fill="#e9e9ea"/>
<path d="M18 10h1.2v1.3h-1.2z" fill="#d1dde6"/>
<path d="M19 10h1.2v1.3h-1.2z" fill="#a6c4d5"/>
<path d="M20 10h1.2v1.3h-1.2z" fill="#76abc6"/>
<path d="M21 10h1.2v1.3h-1.2z" fill="#4b96c0"/>
<path d="M0 11h4.2v1.3h-4.2z" fill="#3c0912"/>
<path d="M4 11h1.2v1.3h-1.2z" fill="#430a15"/>
<path d="M5 11h1.2v1.3h-1.2z" fill="#7b0f2d"/>
<path d="M6 11h1.2v1.3h-1.2z" fill="#b52729"/>
<path d="M7 11h1.2v1.3h-1.2z" fill="#c55237"/>
<path d="M8 11h1.2v1.3h-1.2z" fill="#ce7457"/>
<path d="M9 11h1.2v1.3h-1.2z" fill="#d68e75"/>
<path d="M10 11h1.2v1.3h-1.2z" fill="#dfab98"/>
<path d="M11 11h1.2v1.3h-1.2z" fill="#e6c2b3"/>
<path d="M12 11h1.2v1.3h-1.2z" fill="#ebd5cb"/>
<path d="M13 11h1.2v1.3h-1.2z" fill="#efe2dc"/>
<path d="M14 11h1.2v1.3h-1.2z" fill="#f1eae8"/>
<path d="M15 11h1.2v1.3h-1.2z" fill="#eae9eb"/>
<path d="M16 11h1.2v1.3h-1.2z" fill="#e1e5ea"/>
<path d="M17 11h1.2v1.3h-1.2z" fill="#cedce5"/>
<path d="M18 11h1.2v1.3h-1.2z" fill="#aac6d6"/>
<path d="M19 11h1.2v1.3h-1.2z" fill="#80b0c9"/>
<path d="M20 11h1.2v1.3h-1.2z" fill="#4d97c0"/>
<path d="M21 11h1.2v1.3h-1.2z" fill="#2681bd"/>
<path d="M0 12h4.2v1.3h-4.2z" fill="#3c0912"/>
<path d="M4 12h1.2v1.3h-1.2z" fill="#470a17"/>
<path d="M5 12h1.2v1.3h-1.2z" fill="#86102e"/>
<path d="M6 12h1.2v1.3h-1.2z" fill="#bc322a"/>
<path d="M7 12h1.2v1.3h-1.2z" fill="#c96446"/>
<path d="M8 12h1.2v1.3h-1.2z" fill="#d38569"/>
<path d="M9 12h1.2v1.3h-1.2z" fill="#db9d86"/>
<path d="M10 12h1.2v1.3h-1.2z" fill="#e6c3b4"/>
<path d="M11 12h1.2v1.3h-1.2z" fill="#eeded7"/>
<path d="M12 12h1.2v1.3h-1.2z" fill="#edeaeb"/>
<path d="M13 12h1.2v1.3h-1.2z" fill="#e1e5ea"/>
<path d="M14 12h1.2v1.3h-1.2z" fill="#d7e0e8"/>
<path d="M15 12h1.2v1.3h-1.2z" fill="#ccdbe4"/>
<path d="M16 12h1.2v1.3h-1.2z" fill="#bcd1de"/>
<path d="M17 12h1.2v1.3h-1.2z" fill="#a5c3d4"/>
<path d="M18 12h1.2v1.3h-1.2z" fill="#83b1c9"/>
<path d="M19 12h1.2v1.3h-1.2z" fill="#5b9ec2"/>
<path d="M20 12h1.2v1.3h-1.2z" fill="#2d86bd"/>
<path d="M21 12h1.2v1.3h-1.2z" fill="#1973be"/>
<path d="M0 13h4.2v1.3h-4.2z" fill="#3c0912"/>
<path d="M4 13h1.2v1.3h-1.2z" fill="#500b1a"/>
<path d="M5 13h1.2v1.3h-1.2z" fill="#8d102d"/>
<path d="M6 13h1.2v1.3h-1.2z" fill="#bf3a2b"/>
<path d="M7 13h1.2v1.3h-1.2z" fill="#ce7456"/>
<path d="M8 13h1.2v1.3h-1.2z" fill="#da9982"/>
<path d="M9 13h1.2v1.3h-1.2z" fill="#e4bcac"/>
<path d="M10 13h1.2v1.3h-1.2z" fill="#eddcd4"/>
<path d="M11 13h1.2v1.3h-1.2z" fill="#e8e8ea"/>
<path d="M12 13h1.2v1.3h-1.2z" fill="#d3dee7"/>
<path d="M13 13h1.2v1.3h-1.2z" fill="#bfd3df"/>
<path d="M14 13h1.2v1.3h-1.2z" fill="#b1cad9"/>
<path d="M15 13h1.2v1.3h-1.2z" fill="#a3c2d3"/>
<path d="M16 13h1.2v1.3h-1.2z" fill="#94b9cd"/>
<path d="M17 13h1.2v1.3h-1.2z" fill="#80b0c9"/>
<path d="M18 13h1.2v1.3h-1.2z" fill="#64a2c3"/>
<path d="M19 13h1.2v1.3h-1.2z" fill="#4090bf"/>
<path d="M20 13h1.2v1.3h-1.2z" fill="#207abd"/>
<path d="M21 13h1.2v1.3h-1.2z" fill="#1468bd"/>
<path d="M0 14h4.2v1.3h-4.2z" fill="#3c0912"/>
<path d="M4 14h1.2v1.3h-1.2z" fill="#4d0b19"/>
<path d="M5 14h1.2v1.3h-1.2z" fill="#91102d"/>
<path d="M6 14h1.2v1.3h-1.2z" fill="#c2422d"/>
<path d="M7 14h1.2v1.3h-1.2z" fill="#d4876b"/>
<path d="M8 14h1.2v1.3h-1.2z" fill="#e3b9a8"/>
<path d="M9 14h1.2v1.3h-1.2z" fill="#eedcd5"/>
<path d="M10 14h1.2v1.3h-1.2z" fill="#e5e7ea"/>
<path d="M11 14h1.2v1.3h-1.2z" fill="#cddbe5"/>
<path d="M12 14h1.2v1.3h-1.2z" fill="#b0cad9"/>
<path d="M13 14h1.2v1.3h-1.2z" fill="#98bbcf"/>
<path d="M14 14h1.2v1.3h-1.2z" fill="#88b3ca"/>
<path d="M15 14h1.2v1.3h-1.2z" fill="#79adc7"/>
<path d="M16 14h1.2v1.3h-1.2z" fill="#6ba6c5"/>
<path d="M17 14h1.2v1.3h-1.2z" fill="#5b9ec2"/>
<path d="M18 14h1.2v1.3h-1.2z" fill="#4894c0"/>
<path d="M19 14h1.2v1.3h-1.2z" fill="#2c85bd"/>
<path d="M20 14h1.2v1.3h-1.2z" fill="#136dbe"/>
<path d="M21 14h1.2v1.3h-1.2z" fill="#1b5bbb"/>
<path d="M0 15h4.2v1.3h-4.2z" fill="#3c0912"/>
<path d="M4 15h1.2v1.3h-1.2z" fill="#410a14"/>
<path d="M5 15h1.2v1.3h-1.2z" fill="#95112d"/>
<path d="M6 15h1.2v1.3h-1.2z" fill="#c44d33"/>
<path d="M7 15h1.2v1.3h-1.2z" fill="#d99880"/>
<path d="M8 15h1.2v1.3h-1.2z" fill="#ead1c6"/>
<path d="M9 15h1.2v1.3h-1.2z" fill="#e9e9ea"/>
<path d="M10 15h1.2v1.3h-1.2z" fill="#cbdae4"/>
<path d="M11 15h1.2v1.3h-1.2z" fill="#abc7d7"/>
<path d="M12 15h1.2v1.3h-1.2z" fill="#8cb5cc"/>
<path d="M13 15h1.2v1.3h-1.2z" fill="#70a8c5"/>
<path d="M14 15h1.2v1.3h-1.2z" fill="#5b9ec2"/>
<path d="M15 15h1.2v1.3h-1.2z" fill="#4d97c0"/>
<path d="M16 15h1.2v1.3h-1.2z" fill="#4190bf"/>
<path d="M17 15h1.2v1.3h-1.2z" fill="#3389be"/>
<path d="M18 15h1.2v1.3h-1.2z" fill="#2681bd"/>
<path d="M19 15h1.2v1.3h-1.2z" fill="#1670be"/>
<path d="M20 15h1.2v1.3h-1.2z" fill="#1b5bbb"/>
<path d="M21 15h1.2v1.3h-1.2z" fill="#2449af"/>
<path d="M0 16h5.2v1.3h-5.2z" fill="#3c0912"/>
<path d="M5 16h1.2v1.3h-1.2z" fill="#99122d"/>
<path d="M6 16h1.2v1.3h-1.2z" fill="#c6563a"/>
<path d="M7 16h1.2v1.3h-1.2z" fill="#dda48f"/>
<path d="M8 16h1.2v1.3h-1.2z" fill="#efe1db"/>
<path d="M9 16h1.2v1.3h-1.2z" fill="#d4dfe7"/>
<path d="M10 16h1.2v1.3h-1.2z" fill="#aac6d6"/>
<path d="M11 16h1.2v1.3h-1.2z" fill="#85b2ca"/>
<path d="M12 16h1.2v1.3h-1.2z" fill="#5fa0c3"/>
<path d="M13 16h1.2v1.3h-1.2z" fill="#4191bf"/>
<path d="M14 16h1.2v1.3h-1.2z" fill="#2c85bd"/>
<path d="M15 16h1.2v1.3h-1.2z" fill="#217cbd"/>
<path d="M16 16h1.2v1.3h-1.2z" fill="#1873be"/>
<path d="M17 16h1.2v1.3h-1.2z" fill="#136abe"/>
<path d="M18 16h1.2v1.3h-1.2z" fill="#1861bc"/>
<path d="M19 16h1.2v1.3h-1.2z" fill="#1e55ba"/>
<path d="M20 16h1.2v1.3h-1.2z" fill="#2744a8"/>
<path d="M21 16h1.2v1.3h-1.2z" fill="#293a97"/>
<path d="M0 17h4.2v1.3h-4.2z" fill="#3c0912"/>
<path d="M4 17h1.2v1.3h-1.2z" fill="#410a14"/>
<path d="M5 17h1.2v1.3h-1.2z" fill="#9f162c"/>
<path d="M6 17h1.2v1.3h-1.2z" fill="#c86042"/>
<path d="M7 17h1.2v1.3h-1.2z" fill="#e2b4a3"/>
<path d="M8 17h1.2v1.3h-1.2z" fill="#eceaeb"/>
<path d="M9 17h1.2v1.3h-1.2z" fill="#b7cedc"/>
<path d="M10 17h1.2v1.3h-1.2z" fill="#86b2ca"/>
<path d="M11 17h1.2v1.3h-1.2z" fill="#559bc1"/>
<path d="M12 17h1.2v1.3h-1.2z" fill="#2a84bd"/>
<path d="M13 17h1.2v1.3h-1.2z" fill="#1873be"/>
<path d="M14 17h1.2v1.3h-1.2z" fill="#1664bd"/>
<path d="M15 17h1.2v1.3h-1.2z" fill="#1c59bb"/>
<path d="M16 17h1.2v1.3h-1.2z" fill="#2151b9"/>
<path d="M17 17h1.2v1.3h-1.2z" fill="#2548ae"/>
<path d="M18 17h1.2v1.3h-1.2z" fill="#2a3fa1"/>
<path d="M19 17h1.2v1.3h-1.2z" fill="#293b99"/>
<path d="M20 17h1.2v1.3h-1.2z" fill="#28378f"/>
<path d="M21 17h1.2v1.3h-1.2z" fill="#283487"/>
<path d="M0 18h4.2v1.3h-4.2z" fill="#3c0912"/>
<path d="M4 18h1.2v1.3h-1.2z" fill="#4f0b1a"/>
<path d="M5 18h1.2v1.3h-1.2z" fill="#a3192b"/>
<path d="M6 18h1.2v1.3h-1.2z" fill="#ca6648"/>
<path d="M7 18h1.2v1.3h-1.2z" fill="#e7c7b9"/>
<path d="M8 18h1.2v1.3h-1.2z" fill="#dae2e8"/>
<path d="M9 18h1.2v1.3h-1.2z" fill="#96bace"/>
<path d="M10 18h1.2v1.3h-1.2z" fill="#62a1c3"/>
<path d="M11 18h1.2v1.3h-1.2z" fill="#2d85bd"/>
<path d="M12 18h1.2v1.3h-1.2z" fill="#1468bd"/>
<path d="M13 18h1.2v1.3h-1.2z" fill="#1f54ba"/>
<path d="M14 18h1.2v1.3h-1.2z" fill="#2a3ea1"/>
<path d="M15 18h1.2v1.3h-1.2z" fill="#293994"/>
<path d="M16 18h1.2v1.3h-1.2z" fill="#28378e"/>
<path d="M17 18h1.2v1.3h-1.2z" fill="#28358a"/>
<path d="M18 18h1.2v1.3h-1.2z" fill="#283386"/>
<path d="M19 18h1.2v1.3h-1.2z" fill="#273281"/>
<path d="M20 18h1.2v1.3h-1.2z" fill="#27307c"/>
<path d="M21 18h1.2v1.3h-1.2z" fill="#262e78"/>
<path d="M0 19h4.2v1.3h-4.2z" fill="#3c0912"/>
<path d="M4 19h1.2v1.3h-1.2z" fill="#570c1d"/>
<path d="M5 19h1.2v1.3h-1.2z" fill="#a61c2b"/>
<path d="M6 19h1.2v1.3h-1.2z" fill="#cc6d4f"/>
<path d="M7 19h1.2v1.3h-1.2z" fill="#eacfc4"/>
<path d="M8 19h1.2v1.3h-1.2z" fill="#c7d8e2"/>
<path d="M9 19h1.2v1.3h-1.2z" fill="#7eafc8"/>
<path d="M10 19h1.2v1.3h-1.2z" fill="#4090bf"/>
<path d="M11 19h1.2v1.3h-1.2z" fill="#1664bd"/>
<path d="M12 19h1.2v1.3h-1.2z" fill="#224eb7"/>
<path d="M13 19h1.2v1.3h-1.2z" fill="#293892"/>
<path d="M14 19h1.2v1.3h-1.2z" fill="#262e79"/>
<path d="M15 19h1.2v1.3h-1.2z" fill="#252c72"/>
<path d="M16 19h2.2v1.3h-2.2z" fill="#252b71"/>
<path d="M18 19h1.2v1.3h-1.2z" fill="#242b70"/>
<path d="M19 19h1.2v1.3h-1.2z" fill="#242a6d"/>
<path d="M20 19h1.2v1.3h-1.2z" fill="#222969"/>
<path d="M21 19h1.2v1.3h-1.2z" fill="#212765"/>
<path d="M0 20h4.2v1.3h-4.2z" fill="#3c0912"/>
<path d="M4 20h1.2v1.3h-1.2z" fill="#620d22"/>
<path d="M5 20h1.2v1.3h-1.2z" fill="#ac202a"/>
<path d="M6 20h1.2v1.3h-1.2z" fill="#cf7659"/>
<path d="M7 20h1.2v1.3h-1.2z" fill="#ecd7ce"/>
<path d="M8 20h1.2v1.3h-1.2z" fill="#b2cbda"/>
<path d="M9 20h1.2v1.3h-1.2z" fill="#64a2c3"/>
<path d="M10 20h1.2v1.3h-1.2z" fill="#1567bd"/>
<path d="M11 20h1.2v1.3h-1.2z" fill="#293892"/>
<path d="M12 20h1.2v1.3h-1.2z" fill="#2a3c9c"/>
<path d="M13 20h1.2v1.3h-1.2z" fill="#262f7b"/>
<path d="M14 20h1.2v1.3h-1.2z" fill="#1c2151"/>
<path d="M15 20h1.2v1.3h-1.2z" fill="#1d2254"/>
<path d="M16 20h1.2v1.3h-1.2z" fill="#1e2359"/>
<path d="M17 20h1.2v1.3h-1.2z" fill="#1f245b"/>
<path d="M18 20h1.2v1.3h-1.2z" fill="#1f245c"/>
<path d="M19 20h1.2v1.3h-1.2z" fill="#1f245b"/>
<path d="M20 20h1.2v1.3h-1.2z" fill="#1e2359"/>
<path d="M21 20h1.2v1.3h-1.2z" fill="#1d2357"/>
</g></g>
<g clip-path="url(#c10)" fill="none" stroke="#808080" stroke-width="1.1" stroke-linejoin="round">
<path d="M115.5 240.8L116.9 239.5L122.9 239.6L125.9 235.9L128.9 233.9L134.9 231.1L138.0 230.3M157.3 226.6L164.8 225.0L170.8 222.4L176.8 218.9" stroke-dasharray="3,1.6"/>
<path d="M118.9 229.6L122.9 226.2L128.9 223.5L134.9 221.5L140.9 219.9L156.7 216.5L158.8 215.7L165.1 211.6L171.3 201.8L176.8 196.3" stroke-dasharray="3,1.6"/>
<path d="M101.2 240.8L105.0 231.1L111.0 224.0L116.9 219.2L122.9 215.1L128.9 211.9L134.9 209.9L146.9 206.4L152.9 203.9L158.8 199.5M172.8 185.6L176.8 180.7" stroke-dasharray="3,1.6"/>
<path d="M95.0 240.8L97.0 231.1L99.0 224.9L103.8 216.5L105.0 215.0L108.7 211.6L111.0 209.8L115.1 206.7L116.9 205.0L121.7 201.8L122.9 201.2L128.9 199.1L134.1 197.6M150.2 191.4L152.9 189.9L156.2 187.2L158.8 184.2L160.0 182.4L161.8 177.5L163.0 172.6L162.6 167.8L161.1 162.9L158.5 158.0L156.9 153.1L157.4 148.3L159.7 143.4"/>
<path d="M90.2 240.8L91.3 230.4M96.1 213.7L97.2 211.6L99.0 209.1L106.8 201.8L110.1 197.0L111.0 196.1L118.4 192.1L123.8 187.2L126.8 182.4L124.2 177.5L116.9 172.1L111.0 166.7L105.0 160.3L99.0 152.9L96.4 148.3L94.1 143.4"/>
<path d="M85.4 240.8L87.5 221.3L88.2 216.5L89.3 211.6L90.7 206.7L93.0 200.4L95.1 197.0L99.9 191.6M103.5 177.5L93.0 168.0L84.1 158.0L80.5 153.1L77.7 148.3L75.7 143.4"/>
<path d="M79.3 240.8L79.8 235.9L82.0 206.7L82.8 201.8L83.9 197.0L85.2 187.2L83.5 182.4L81.0 179.2L69.1 166.0L63.1 162.5L57.1 163.2L52.4 166.8"/>
</g>
<g clip-path="url(#c10)" font-size="7.2" fill="#000" text-anchor="middle">
<text transform="translate(47.6,171.0) rotate(-75)" y="2.5" textLength="15.1" lengthAdjust="spacingAndGlyphs">0.75</text>
<text transform="translate(105.0,185.2) rotate(-75)" y="2.5" textLength="15.1" lengthAdjust="spacingAndGlyphs">0.50</text>
<text transform="translate(92.1,221.4) rotate(-70)" y="2.5" textLength="15.1" lengthAdjust="spacingAndGlyphs">0.25</text>
<text transform="translate(141.9,194.1) rotate(-20)" y="2.5" textLength="15.1" lengthAdjust="spacingAndGlyphs">0.00</text>
<text transform="translate(165.8,192.5) rotate(-45)" y="2.5" textLength="17.6" lengthAdjust="spacingAndGlyphs">-0.25</text>
<text transform="translate(112.7,237.3) rotate(-50)" y="2.5" textLength="17.6" lengthAdjust="spacingAndGlyphs">-0.50</text>
<text transform="translate(147.3,227.3) rotate(-10)" y="2.5" textLength="17.6" lengthAdjust="spacingAndGlyphs">-0.75</text>
</g>
<rect x="48.1" y="143.4" width="128.7" height="97.4" fill="none" stroke="#000" stroke-width="0.8"/>
<path d="M176.80,240.80v3.5 M170.81,240.80v2.0 M164.83,240.80v2.0 M158.84,240.80v2.0 M152.86,240.80v3.5 M146.87,240.80v2.0 M140.88,240.80v2.0 M134.90,240.80v2.0 M128.91,240.80v3.5 M122.93,240.80v2.0 M116.94,240.80v2.0 M110.95,240.80v2.0 M104.97,240.80v3.5 M98.98,240.80v2.0 M93.00,240.80v2.0 M87.01,240.80v2.0 M81.02,240.80v3.5 M75.04,240.80v2.0 M69.05,240.80v2.0 M63.07,240.80v2.0 M57.08,240.80v3.5 M51.09,240.80v2.0 M48.10,240.80h-3.5 M48.10,238.85h-2.0 M48.10,236.90h-2.0 M48.10,234.96h-2.0 M48.10,233.01h-2.0 M48.10,231.06h-3.5 M48.10,229.11h-2.0 M48.10,227.16h-2.0 M48.10,225.22h-2.0 M48.10,223.27h-2.0 M48.10,221.32h-3.5 M48.10,219.37h-2.0 M48.10,217.42h-2.0 M48.10,215.48h-2.0 M48.10,213.53h-2.0 M48.10,211.58h-3.5 M48.10,209.63h-2.0 M48.10,207.68h-2.0 M48.10,205.74h-2.0 M48.10,203.79h-2.0 M48.10,201.84h-3.5 M48.10,199.89h-2.0 M48.10,197.94h-2.0 M48.10,196.00h-2.0 M48.10,194.05h-2.0 M48.10,192.10h-3.5 M48.10,190.15h-2.0 M48.10,188.20h-2.0 M48.10,186.26h-2.0 M48.10,184.31h-2.0 M48.10,182.36h-3.5 M48.10,180.41h-2.0 M48.10,178.46h-2.0 M48.10,176.52h-2.0 M48.10,174.57h-2.0 M48.10,172.62h-3.5 M48.10,170.67h-2.0 M48.10,168.72h-2.0 M48.10,166.78h-2.0 M48.10,164.83h-2.0 M48.10,162.88h-3.5 M48.10,160.93h-2.0 M48.10,158.98h-2.0 M48.10,157.04h-2.0 M48.10,155.09h-2.0 M48.10,153.14h-3.5 M48.10,151.19h-2.0 M48.10,149.24h-2.0 M48.10,147.30h-2.0 M48.10,145.35h-2.0 M48.10,143.40h-3.5" stroke="#000" stroke-width="0.8" fill="none"/>
<text x="53.30" y="152.30" font-size="9.6" text-anchor="start" fill="#fff" font-weight="bold" textLength="14.67" lengthAdjust="spacingAndGlyphs">(d)</text>
<!-- panel e -->
<g clip-path="url(#c11)"><g transform="translate(182.95,140.965) scale(5.9860,4.8700)">
<path d="M0 0h1.2v1.3h-1.2z" fill="#cd6e50"/>
<path d="M1 0h1.2v1.3h-1.2z" fill="#d07a5d"/>
<path d="M2 0h1.2v1.3h-1.2z" fill="#d58a6f"/>
<path d="M3 0h1.2v1.3h-1.2z" fill="#db9c85"/>
<path d="M4 0h1.2v1.3h-1.2z" fill="#d9967e"/>
<path d="M5 0h1.2v1.3h-1.2z" fill="#e3b8a7"/>
<path d="M6 0h1.2v1.3h-1.2z" fill="#f0eceb"/>
<path d="M7 0h1.2v1.3h-1.2z" fill="#efebeb"/>
<path d="M8 0h1.2v1.3h-1.2z" fill="#eddad2"/>
<path d="M9 0h1.2v1.3h-1.2z" fill="#e3b7a6"/>
<path d="M10 0h1.2v1.3h-1.2z" fill="#c96244"/>
<path d="M11 0h1.2v1.3h-1.2z" fill="#d27f62"/>
<path d="M12 0h1.2v1.3h-1.2z" fill="#da9b84"/>
<path d="M13 0h1.2v1.3h-1.2z" fill="#e9cdc1"/>
<path d="M14 0h1.2v1.3h-1.2z" fill="#ebe9eb"/>
<path d="M15 0h1.2v1.3h-1.2z" fill="#d2dee6"/>
<path d="M16 0h1.2v1.3h-1.2z" fill="#afc9d8"/>
<path d="M17 0h1.2v1.3h-1.2z" fill="#aec8d8"/>
<path d="M18 0h1.2v1.3h-1.2z" fill="#d3dee7"/>
<path d="M19 0h1.2v1.3h-1.2z" fill="#f0eceb"/>
<path d="M20 0h1.2v1.3h-1.2z" fill="#f0e5e2"/>
<path d="M21 0h1.2v1.3h-1.2z" fill="#efe2dc"/>
<path d="M0 1h1.2v1.3h-1.2z" fill="#ca6648"/>
<path d="M1 1h1.2v1.3h-1.2z" fill="#cc6e50"/>
<path d="M2 1h1.2v1.3h-1.2z" fill="#d0795c"/>
<path d="M3 1h1.2v1.3h-1.2z" fill="#d5896e"/>
<path d="M4 1h1.2v1.3h-1.2z" fill="#da9982"/>
<path d="M5 1h1.2v1.3h-1.2z" fill="#dfa996"/>
<path d="M6 1h1.2v1.3h-1.2z" fill="#f0e6e2"/>
<path d="M7 1h1.2v1.3h-1.2z" fill="#edeaeb"/>
<path d="M8 1h1.2v1.3h-1.2z" fill="#eddbd4"/>
<path d="M9 1h1.2v1.3h-1.2z" fill="#e2b4a2"/>
<path d="M10 1h1.2v1.3h-1.2z" fill="#c96244"/>
<path d="M11 1h1.2v1.3h-1.2z" fill="#ce7355"/>
<path d="M12 1h1.2v1.3h-1.2z" fill="#d9957d"/>
<path d="M13 1h1.2v1.3h-1.2z" fill="#e9ccc0"/>
<path d="M14 1h1.2v1.3h-1.2z" fill="#edeaeb"/>
<path d="M15 1h1.2v1.3h-1.2z" fill="#d9e1e8"/>
<path d="M16 1h1.2v1.3h-1.2z" fill="#acc7d7"/>
<path d="M17 1h1.2v1.3h-1.2z" fill="#a9c6d6"/>
<path d="M18 1h1.2v1.3h-1.2z" fill="#d2dee7"/>
<path d="M19 1h1.2v1.3h-1.2z" fill="#eeebeb"/>
<path d="M20 1h1.2v1.3h-1.2z" fill="#f0e5e1"/>
<path d="M21 1h1.2v1.3h-1.2z" fill="#efe1db"/>
<path d="M0 2h1.2v1.3h-1.2z" fill="#c96143"/>
<path d="M1 2h1.2v1.3h-1.2z" fill="#ca6547"/>
<path d="M2 2h1.2v1.3h-1.2z" fill="#cc6d4f"/>
<path d="M3 2h1.2v1.3h-1.2z" fill="#d4866a"/>
<path d="M4 2h1.2v1.3h-1.2z" fill="#db9d87"/>
<path d="M5 2h1.2v1.3h-1.2z" fill="#dda38e"/>
<path d="M6 2h1.2v1.3h-1.2z" fill="#e9ccc0"/>
<path d="M7 2h1.2v1.3h-1.2z" fill="#efe1dc"/>
<path d="M8 2h1.2v1.3h-1.2z" fill="#ebd4cb"/>
<path d="M9 2h1.2v1.3h-1.2z" fill="#e3b8a7"/>
<path d="M10 2h1.2v1.3h-1.2z" fill="#c96244"/>
<path d="M11 2h1.2v1.3h-1.2z" fill="#ce7457"/>
<path d="M12 2h1.2v1.3h-1.2z" fill="#d8927a"/>
<path d="M13 2h1.2v1.3h-1.2z" fill="#e8c9bc"/>
<path d="M14 2h1.2v1.3h-1.2z" fill="#eae9eb"/>
<path d="M15 2h1.2v1.3h-1.2z" fill="#d0dde6"/>
<path d="M16 2h1.2v1.3h-1.2z" fill="#acc7d7"/>
<path d="M17 2h1.2v1.3h-1.2z" fill="#afc9d8"/>
<path d="M18 2h1.2v1.3h-1.2z" fill="#dee4e9"/>
<path d="M19 2h1.2v1.3h-1.2z" fill="#efebeb"/>
<path d="M20 2h1.2v1.3h-1.2z" fill="#f0e6e2"/>
<path d="M21 2h1.2v1.3h-1.2z" fill="#efe1db"/>
<path d="M0 3h1.2v1.3h-1.2z" fill="#c96143"/>
<path d="M1 3h1.2v1.3h-1.2z" fill="#ca6547"/>
<path d="M2 3h1.2v1.3h-1.2z" fill="#cc6d4f"/>
<path d="M3 3h1.2v1.3h-1.2z" fill="#d17c5f"/>
<path d="M4 3h1.2v1.3h-1.2z" fill="#d68d72"/>
<path d="M5 3h1.2v1.3h-1.2z" fill="#db9c85"/>
<path d="M6 3h1.2v1.3h-1.2z" fill="#e3b8a7"/>
<path d="M7 3h1.2v1.3h-1.2z" fill="#e8cbbe"/>
<path d="M8 3h1.2v1.3h-1.2z" fill="#e6c4b6"/>
<path d="M9 3h1.2v1.3h-1.2z" fill="#dea591"/>
<path d="M10 3h1.2v1.3h-1.2z" fill="#c96244"/>
<path d="M11 3h1.2v1.3h-1.2z" fill="#cd6f51"/>
<path d="M12 3h1.2v1.3h-1.2z" fill="#d68e73"/>
<path d="M13 3h1.2v1.3h-1.2z" fill="#e6c2b3"/>
<path d="M14 3h1.2v1.3h-1.2z" fill="#eae9ea"/>
<path d="M15 3h1.2v1.3h-1.2z" fill="#c9d9e3"/>
<path d="M16 3h1.2v1.3h-1.2z" fill="#aac6d6"/>
<path d="M17 3h1.2v1.3h-1.2z" fill="#a9c5d6"/>
<path d="M18 3h1.2v1.3h-1.2z" fill="#d9e1e8"/>
<path d="M19 3h1.2v1.3h-1.2z" fill="#eeebeb"/>
<path d="M20 3h1.2v1.3h-1.2z" fill="#f0e6e2"/>
<path d="M21 3h1.2v1.3h-1.2z" fill="#efe1db"/>
<path d="M0 4h1.2v1.3h-1.2z" fill="#c96244"/>
<path d="M1 4h1.2v1.3h-1.2z" fill="#ca6547"/>
<path d="M2 4h1.2v1.3h-1.2z" fill="#ca6749"/>
<path d="M3 4h1.2v1.3h-1.2z" fill="#cd6f51"/>
<path d="M4 4h1.2v1.3h-1.2z" fill="#d17d60"/>
<path d="M5 4h1.2v1.3h-1.2z" fill="#d79177"/>
<path d="M6 4h1.2v1.3h-1.2z" fill="#dfab98"/>
<path d="M7 4h1.2v1.3h-1.2z" fill="#e3baa9"/>
<path d="M8 4h1.2v1.3h-1.2z" fill="#e0ac99"/>
<path d="M9 4h1.2v1.3h-1.2z" fill="#d68c72"/>
<path d="M10 4h1.2v1.3h-1.2z" fill="#c96244"/>
<path d="M11 4h1.2v1.3h-1.2z" fill="#cc6b4d"/>
<path d="M12 4h1.2v1.3h-1.2z" fill="#d5896e"/>
<path d="M13 4h1.2v1.3h-1.2z" fill="#e2b4a3"/>
<path d="M14 4h1.2v1.3h-1.2z" fill="#f0e5e2"/>
<path d="M15 4h1.2v1.3h-1.2z" fill="#d5dfe7"/>
<path d="M16 4h2.2v1.3h-2.2z" fill="#aac6d6"/>
<path d="M18 4h1.2v1.3h-1.2z" fill="#d5dfe7"/>
<path d="M19 4h1.2v1.3h-1.2z" fill="#edeaeb"/>
<path d="M20 4h1.2v1.3h-1.2z" fill="#f0e7e3"/>
<path d="M21 4h1.2v1.3h-1.2z" fill="#efe4e0"/>
<path d="M0 5h1.2v1.3h-1.2z" fill="#c86042"/>
<path d="M1 5h1.2v1.3h-1.2z" fill="#c96244"/>
<path d="M2 5h1.2v1.3h-1.2z" fill="#c86042"/>
<path d="M3 5h1.2v1.3h-1.2z" fill="#c85f41"/>
<path d="M4 5h1.2v1.3h-1.2z" fill="#cb694b"/>
<path d="M5 5h1.2v1.3h-1.2z" fill="#cf785a"/>
<path d="M6 5h1.2v1.3h-1.2z" fill="#da9881"/>
<path d="M7 5h1.2v1.3h-1.2z" fill="#dda48f"/>
<path d="M8 5h1.2v1.3h-1.2z" fill="#d89279"/>
<path d="M9 5h1.2v1.3h-1.2z" fill="#cf7658"/>
<path d="M10 5h1.2v1.3h-1.2z" fill="#c34830"/>
<path d="M11 5h1.2v1.3h-1.2z" fill="#ca6648"/>
<path d="M12 5h1.2v1.3h-1.2z" fill="#d38368"/>
<path d="M13 5h1.2v1.3h-1.2z" fill="#dea793"/>
<path d="M14 5h1.2v1.3h-1.2z" fill="#ead2c7"/>
<path d="M15 5h1.2v1.3h-1.2z" fill="#efebeb"/>
<path d="M16 5h1.2v1.3h-1.2z" fill="#b0cad9"/>
<path d="M17 5h1.2v1.3h-1.2z" fill="#afc9d8"/>
<path d="M18 5h1.2v1.3h-1.2z" fill="#e3e6ea"/>
<path d="M19 5h1.2v1.3h-1.2z" fill="#f1ebea"/>
<path d="M20 5h1.2v1.3h-1.2z" fill="#f0e7e4"/>
<path d="M21 5h1.2v1.3h-1.2z" fill="#f0e6e3"/>
<path d="M0 6h2.2v1.3h-2.2z" fill="#c85f41"/>
<path d="M2 6h1.2v1.3h-1.2z" fill="#c75a3d"/>
<path d="M3 6h1.2v1.3h-1.2z" fill="#c7593c"/>
<path d="M4 6h1.2v1.3h-1.2z" fill="#c85f41"/>
<path d="M5 6h1.2v1.3h-1.2z" fill="#c75c3f"/>
<path d="M6 6h1.2v1.3h-1.2z" fill="#ce7456"/>
<path d="M7 6h1.2v1.3h-1.2z" fill="#d28064"/>
<path d="M8 6h1.2v1.3h-1.2z" fill="#cf7558"/>
<path d="M9 6h1.2v1.3h-1.2z" fill="#c85f41"/>
<path d="M10 6h1.2v1.3h-1.2z" fill="#ba2d29"/>
<path d="M11 6h1.2v1.3h-1.2z" fill="#c86042"/>
<path d="M12 6h1.2v1.3h-1.2z" fill="#d17e61"/>
<path d="M13 6h1.2v1.3h-1.2z" fill="#dc9f89"/>
<path d="M14 6h1.2v1.3h-1.2z" fill="#e7c6b8"/>
<path d="M15 6h1.2v1.3h-1.2z" fill="#efe4df"/>
<path d="M16 6h1.2v1.3h-1.2z" fill="#bcd1de"/>
<path d="M17 6h1.2v1.3h-1.2z" fill="#b9cfdd"/>
<path d="M18 6h1.2v1.3h-1.2z" fill="#edeaeb"/>
<path d="M19 6h1.2v1.3h-1.2z" fill="#f1ebe9"/>
<path d="M20 6h1.2v1.3h-1.2z" fill="#f0e8e6"/>
<path d="M21 6h1.2v1.3h-1.2z" fill="#f0e9e7"/>
<path d="M0 7h1.2v1.3h-1.2z" fill="#c86042"/>
<path d="M1 7h1.2v1.3h-1.2z" fill="#c75a3d"/>
<path d="M2 7h1.2v1.3h-1.2z" fill="#c65338"/>
<path d="M3 7h1.2v1.3h-1.2z" fill="#c55237"/>
<path d="M4 7h1.2v1.3h-1.2z" fill="#c65539"/>
<path d="M5 7h1.2v1.3h-1.2z" fill="#c7593c"/>
<path d="M6 7h1.2v1.3h-1.2z" fill="#c96345"/>
<path d="M7 7h1.2v1.3h-1.2z" fill="#cb694b"/>
<path d="M8 7h1.2v1.3h-1.2z" fill="#c85e40"/>
<path d="M9 7h1.2v1.3h-1.2z" fill="#c34830"/>
<path d="M10 7h1.2v1.3h-1.2z" fill="#af222a"/>
<path d="M11 7h1.2v1.3h-1.2z" fill="#c75a3d"/>
<path d="M12 7h1.2v1.3h-1.2z" fill="#d07a5c"/>
<path d="M13 7h1.2v1.3h-1.2z" fill="#da9a84"/>
<path d="M14 7h1.2v1.3h-1.2z" fill="#e6c2b2"/>
<path d="M15 7h1.2v1.3h-1.2z" fill="#eedfd8"/>
<path d="M16 7h1.2v1.3h-1.2z" fill="#e4e7ea"/>
<path d="M17 7h1.2v1.3h-1.2z" fill="#e1e5e9"/>
<path d="M18 7h1.2v1.3h-1.2z" fill="#f1ebea"/>
<path d="M19 7h1.2v1.3h-1.2z" fill="#f1eceb"/>
<path d="M20 7h1.2v1.3h-1.2z" fill="#efebeb"/>
<path d="M21 7h1.2v1.3h-1.2z" fill="#edeaeb"/>
<path d="M0 8h1.2v1.3h-1.2z" fill="#c75a3d"/>
<path d="M1 8h1.2v1.3h-1.2z" fill="#c44c33"/>
<path d="M2 8h2.2v1.3h-2.2z" fill="#c3462e"/>
<path d="M4 8h1.2v1.3h-1.2z" fill="#c44c33"/>
<path d="M5 8h1.2v1.3h-1.2z" fill="#c6563a"/>
<path d="M6 8h1.2v1.3h-1.2z" fill="#c86042"/>
<path d="M7 8h1.2v1.3h-1.2z" fill="#c96345"/>
<path d="M8 8h1.2v1.3h-1.2z" fill="#c75c3e"/>
<path d="M9 8h1.2v1.3h-1.2z" fill="#c2442d"/>
<path d="M10 8h1.2v1.3h-1.2z" fill="#af222a"/>
<path d="M11 8h1.2v1.3h-1.2z" fill="#c75a3d"/>
<path d="M12 8h1.2v1.3h-1.2z" fill="#d0795c"/>
<path d="M13 8h1.2v1.3h-1.2z" fill="#d99880"/>
<path d="M14 8h1.2v1.3h-1.2z" fill="#e7c5b6"/>
<path d="M15 8h1.2v1.3h-1.2z" fill="#efe2dd"/>
<path d="M16 8h1.2v1.3h-1.2z" fill="#e9e8ea"/>
<path d="M17 8h1.2v1.3h-1.2z" fill="#e4e6ea"/>
<path d="M18 8h1.2v1.3h-1.2z" fill="#eae9eb"/>
<path d="M19 8h1.2v1.3h-1.2z" fill="#e5e7ea"/>
<path d="M20 8h1.2v1.3h-1.2z" fill="#dfe4e9"/>
<path d="M21 8h1.2v1.3h-1.2z" fill="#d9e1e8"/>
<path d="M0 9h1.2v1.3h-1.2z" fill="#bd362b"/>
<path d="M1 9h2.2v1.3h-2.2z" fill="#bc322a"/>
<path d="M3 9h1.2v1.3h-1.2z" fill="#be382b"/>
<path d="M4 9h1.2v1.3h-1.2z" fill="#c2432d"/>
<path d="M5 9h1.2v1.3h-1.2z" fill="#c55237"/>
<path d="M6 9h1.2v1.3h-1.2z" fill="#c96143"/>
<path d="M7 9h1.2v1.3h-1.2z" fill="#cb6749"/>
<path d="M8 9h1.2v1.3h-1.2z" fill="#ca6547"/>
<path d="M9 9h1.2v1.3h-1.2z" fill="#c75b3e"/>
<path d="M10 9h1.2v1.3h-1.2z" fill="#ba2d29"/>
<path d="M11 9h1.2v1.3h-1.2z" fill="#c96345"/>
<path d="M12 9h1.2v1.3h-1.2z" fill="#d38266"/>
<path d="M13 9h1.2v1.3h-1.2z" fill="#db9d87"/>
<path d="M14 9h1.2v1.3h-1.2z" fill="#eedfd9"/>
<path d="M15 9h1.2v1.3h-1.2z" fill="#edeaeb"/>
<path d="M16 9h1.2v1.3h-1.2z" fill="#dbe2e8"/>
<path d="M17 9h1.2v1.3h-1.2z" fill="#d2dee6"/>
<path d="M18 9h1.2v1.3h-1.2z" fill="#cedce5"/>
<path d="M19 9h1.2v1.3h-1.2z" fill="#c7d8e2"/>
<path d="M20 9h1.2v1.3h-1.2z" fill="#c1d4e0"/>
<path d="M21 9h1.2v1.3h-1.2z" fill="#bcd1de"/>
<path d="M0 10h1.2v1.3h-1.2z" fill="#a71c2b"/>
<path d="M1 10h1.2v1.3h-1.2z" fill="#a0172c"/>
<path d="M2 10h1.2v1.3h-1.2z" fill="#ab1f2a"/>
<path d="M3 10h1.2v1.3h-1.2z" fill="#b82928"/>
<path d="M4 10h1.2v1.3h-1.2z" fill="#be392b"/>
<path d="M5 10h1.2v1.3h-1.2z" fill="#c54e34"/>
<path d="M6 10h1.2v1.3h-1.2z" fill="#ca6648"/>
<path d="M7 10h2.2v1.3h-2.2z" fill="#cf7557"/>
<path d="M9 10h1.2v1.3h-1.2z" fill="#cb694b"/>
<path d="M10 10h1.2v1.3h-1.2z" fill="#c3452e"/>
<path d="M11 10h1.2v1.3h-1.2z" fill="#ce7356"/>
<path d="M12 10h1.2v1.3h-1.2z" fill="#d8937a"/>
<path d="M13 10h1.2v1.3h-1.2z" fill="#e3b9a8"/>
<path d="M14 10h1.2v1.3h-1.2z" fill="#dfe4e9"/>
<path d="M15 10h1.2v1.3h-1.2z" fill="#c3d5e0"/>
<path d="M16 10h1.2v1.3h-1.2z" fill="#b3ccda"/>
<path d="M17 10h1.2v1.3h-1.2z" fill="#adc8d7"/>
<path d="M18 10h1.2v1.3h-1.2z" fill="#a8c5d5"/>
<path d="M19 10h1.2v1.3h-1.2z" fill="#9fbfd2"/>
<path d="M20 10h1.2v1.3h-1.2z" fill="#9bbdd0"/>
<path d="M21 10h1.2v1.3h-1.2z" fill="#9cbed1"/>
<path d="M0 11h1.2v1.3h-1.2z" fill="#96112d"/>
<path d="M1 11h1.2v1.3h-1.2z" fill="#8f102d"/>
<path d="M2 11h1.2v1.3h-1.2z" fill="#99122d"/>
<path d="M3 11h1.2v1.3h-1.2z" fill="#a81d2b"/>
<path d="M4 11h1.2v1.3h-1.2z" fill="#bb2f29"/>
<path d="M5 11h1.2v1.3h-1.2z" fill="#c44d33"/>
<path d="M6 11h1.2v1.3h-1.2z" fill="#ce7456"/>
<path d="M7 11h2.2v1.3h-2.2z" fill="#d68c72"/>
<path d="M9 11h1.2v1.3h-1.2z" fill="#d28165"/>
<path d="M10 11h1.2v1.3h-1.2z" fill="#cf775a"/>
<path d="M11 11h1.2v1.3h-1.2z" fill="#d78f75"/>
<path d="M12 11h1.2v1.3h-1.2z" fill="#e0ac99"/>
<path d="M13 11h1.2v1.3h-1.2z" fill="#ead2c7"/>
<path d="M14 11h1.2v1.3h-1.2z" fill="#c7d8e2"/>
<path d="M15 11h1.2v1.3h-1.2z" fill="#95b9ce"/>
<path d="M16 11h3.2v1.3h-3.2z" fill="#85b2ca"/>
<path d="M19 11h1.2v1.3h-1.2z" fill="#7fafc8"/>
<path d="M20 11h1.2v1.3h-1.2z" fill="#7eafc8"/>
<path d="M21 11h1.2v1.3h-1.2z" fill="#7fafc8"/>
<path d="M0 12h2.2v1.3h-2.2z" fill="#790f2c"/>
<path d="M2 12h1.2v1.3h-1.2z" fill="#85102e"/>
<path d="M3 12h1.2v1.3h-1.2z" fill="#9a132d"/>
<path d="M4 12h1.2v1.3h-1.2z" fill="#b72828"/>
<path d="M5 12h1.2v1.3h-1.2z" fill="#c44c32"/>
<path d="M6 12h1.2v1.3h-1.2z" fill="#d4876b"/>
<path d="M7 12h1.2v1.3h-1.2z" fill="#dfa996"/>
<path d="M8 12h1.2v1.3h-1.2z" fill="#dda38e"/>
<path d="M9 12h1.2v1.3h-1.2z" fill="#dda490"/>
<path d="M10 12h1.2v1.3h-1.2z" fill="#da9b84"/>
<path d="M11 12h1.2v1.3h-1.2z" fill="#e0ad9a"/>
<path d="M12 12h1.2v1.3h-1.2z" fill="#e9cdc1"/>
<path d="M13 12h1.2v1.3h-1.2z" fill="#ebe9eb"/>
<path d="M14 12h1.2v1.3h-1.2z" fill="#9cbed1"/>
<path d="M15 12h1.2v1.3h-1.2z" fill="#6fa8c5"/>
<path d="M16 12h1.2v1.3h-1.2z" fill="#5e9fc2"/>
<path d="M17 12h1.2v1.3h-1.2z" fill="#5d9fc2"/>
<path d="M18 12h1.2v1.3h-1.2z" fill="#60a1c3"/>
<path d="M19 12h1.2v1.3h-1.2z" fill="#62a1c3"/>
<path d="M20 12h1.2v1.3h-1.2z" fill="#63a2c3"/>
<path d="M21 12h1.2v1.3h-1.2z" fill="#64a2c3"/>
<path d="M0 13h1.2v1.3h-1.2z" fill="#450a16"/>
<path d="M1 13h1.2v1.3h-1.2z" fill="#550c1d"/>
<path d="M2 13h1.2v1.3h-1.2z" fill="#700e28"/>
<path d="M3 13h1.2v1.3h-1.2z" fill="#93112d"/>
<path d="M4 13h1.2v1.3h-1.2z" fill="#b22529"/>
<path d="M5 13h1.2v1.3h-1.2z" fill="#c44b32"/>
<path d="M6 13h1.2v1.3h-1.2z" fill="#da9881"/>
<path d="M7 13h1.2v1.3h-1.2z" fill="#e5bfaf"/>
<path d="M8 13h1.2v1.3h-1.2z" fill="#e6c3b5"/>
<path d="M9 13h1.2v1.3h-1.2z" fill="#e5beae"/>
<path d="M10 13h1.2v1.3h-1.2z" fill="#e0ad9b"/>
<path d="M11 13h1.2v1.3h-1.2z" fill="#e9cdc1"/>
<path d="M12 13h1.2v1.3h-1.2z" fill="#f0e7e4"/>
<path d="M13 13h1.2v1.3h-1.2z" fill="#cbdae4"/>
<path d="M14 13h1.2v1.3h-1.2z" fill="#81b0c9"/>
<path d="M15 13h1.2v1.3h-1.2z" fill="#5199c1"/>
<path d="M16 13h1.2v1.3h-1.2z" fill="#388bbe"/>
<path d="M17 13h1.2v1.3h-1.2z" fill="#398cbf"/>
<path d="M18 13h1.2v1.3h-1.2z" fill="#4291bf"/>
<path d="M19 13h1.2v1.3h-1.2z" fill="#4693c0"/>
<path d="M20 13h1.2v1.3h-1.2z" fill="#4995c0"/>
<path d="M21 13h1.2v1.3h-1.2z" fill="#4b96c0"/>
<path d="M0 14h2.2v1.3h-2.2z" fill="#3c0912"/>
<path d="M2 14h1.2v1.3h-1.2z" fill="#560c1d"/>
<path d="M3 14h1.2v1.3h-1.2z" fill="#8a102e"/>
<path d="M4 14h1.2v1.3h-1.2z" fill="#b12429"/>
<path d="M5 14h1.2v1.3h-1.2z" fill="#c44c33"/>
<path d="M6 14h1.2v1.3h-1.2z" fill="#dea793"/>
<path d="M7 14h1.2v1.3h-1.2z" fill="#ead0c4"/>
<path d="M8 14h1.2v1.3h-1.2z" fill="#eddad2"/>
<path d="M9 14h1.2v1.3h-1.2z" fill="#eddbd3"/>
<path d="M10 14h1.2v1.3h-1.2z" fill="#eddad1"/>
<path d="M11 14h1.2v1.3h-1.2z" fill="#f1ebe9"/>
<path d="M12 14h1.2v1.3h-1.2z" fill="#d9e1e8"/>
<path d="M13 14h1.2v1.3h-1.2z" fill="#a9c5d6"/>
<path d="M14 14h1.2v1.3h-1.2z" fill="#69a5c4"/>
<path d="M15 14h1.2v1.3h-1.2z" fill="#3a8dbf"/>
<path d="M16 14h2.2v1.3h-2.2z" fill="#217cbd"/>
<path d="M18 14h1.2v1.3h-1.2z" fill="#2a84bd"/>
<path d="M19 14h1.2v1.3h-1.2z" fill="#2883bd"/>
<path d="M20 14h1.2v1.3h-1.2z" fill="#2f87be"/>
<path d="M21 14h1.2v1.3h-1.2z" fill="#3289be"/>
<path d="M0 15h3.2v1.3h-3.2z" fill="#3c0912"/>
<path d="M3 15h1.2v1.3h-1.2z" fill="#7f0f2e"/>
<path d="M4 15h1.2v1.3h-1.2z" fill="#b02329"/>
<path d="M5 15h1.2v1.3h-1.2z" fill="#c54f35"/>
<path d="M6 15h1.2v1.3h-1.2z" fill="#dea591"/>
<path d="M7 15h1.2v1.3h-1.2z" fill="#efe3df"/>
<path d="M8 15h1.2v1.3h-1.2z" fill="#f1eceb"/>
<path d="M9 15h1.2v1.3h-1.2z" fill="#edeaeb"/>
<path d="M10 15h1.2v1.3h-1.2z" fill="#f1eae8"/>
<path d="M11 15h1.2v1.3h-1.2z" fill="#e1e5ea"/>
<path d="M12 15h1.2v1.3h-1.2z" fill="#b5cddb"/>
<path d="M13 15h1.2v1.3h-1.2z" fill="#7aadc7"/>
<path d="M14 15h1.2v1.3h-1.2z" fill="#3389be"/>
<path d="M15 15h1.2v1.3h-1.2z" fill="#207bbd"/>
<path d="M16 15h1.2v1.3h-1.2z" fill="#1369be"/>
<path d="M17 15h1.2v1.3h-1.2z" fill="#1665bd"/>
<path d="M18 15h1.2v1.3h-1.2z" fill="#1469bd"/>
<path d="M19 15h1.2v1.3h-1.2z" fill="#126cbe"/>
<path d="M20 15h1.2v1.3h-1.2z" fill="#1771be"/>
<path d="M21 15h1.2v1.3h-1.2z" fill="#1b75be"/>
<path d="M0 16h3.2v1.3h-3.2z" fill="#3c0912"/>
<path d="M3 16h1.2v1.3h-1.2z" fill="#710e29"/>
<path d="M4 16h1.2v1.3h-1.2z" fill="#ae222a"/>
<path d="M5 16h1.2v1.3h-1.2z" fill="#c65338"/>
<path d="M6 16h1.2v1.3h-1.2z" fill="#e0ad9a"/>
<path d="M7 16h1.2v1.3h-1.2z" fill="#ebeaeb"/>
<path d="M8 16h1.2v1.3h-1.2z" fill="#d6e0e7"/>
<path d="M9 16h1.2v1.3h-1.2z" fill="#d5dfe7"/>
<path d="M10 16h1.2v1.3h-1.2z" fill="#d4dfe7"/>
<path d="M11 16h1.2v1.3h-1.2z" fill="#a1c0d2"/>
<path d="M12 16h1.2v1.3h-1.2z" fill="#7aadc7"/>
<path d="M13 16h1.2v1.3h-1.2z" fill="#378bbe"/>
<path d="M14 16h1.2v1.3h-1.2z" fill="#126cbe"/>
<path d="M15 16h1.2v1.3h-1.2z" fill="#1a5dbb"/>
<path d="M16 16h1.2v1.3h-1.2z" fill="#224fb7"/>
<path d="M17 16h1.2v1.3h-1.2z" fill="#2645aa"/>
<path d="M18 16h1.2v1.3h-1.2z" fill="#214fb8"/>
<path d="M19 16h1.2v1.3h-1.2z" fill="#1f53ba"/>
<path d="M20 16h1.2v1.3h-1.2z" fill="#1c5abb"/>
<path d="M21 16h1.2v1.3h-1.2z" fill="#1860bc"/>
<path d="M0 17h3.2v1.3h-3.2z" fill="#3c0912"/>
<path d="M3 17h1.2v1.3h-1.2z" fill="#690e25"/>
<path d="M4 17h1.2v1.3h-1.2z" fill="#ac202a"/>
<path d="M5 17h1.2v1.3h-1.2z" fill="#c6563b"/>
<path d="M6 17h1.2v1.3h-1.2z" fill="#dea692"/>
<path d="M7 17h1.2v1.3h-1.2z" fill="#e2e5ea"/>
<path d="M8 17h1.2v1.3h-1.2z" fill="#b9cfdd"/>
<path d="M9 17h1.2v1.3h-1.2z" fill="#a5c3d4"/>
<path d="M10 17h1.2v1.3h-1.2z" fill="#9fbfd2"/>
<path d="M11 17h1.2v1.3h-1.2z" fill="#72a9c6"/>
<path d="M12 17h1.2v1.3h-1.2z" fill="#3a8cbf"/>
<path d="M13 17h1.2v1.3h-1.2z" fill="#136dbe"/>
<path d="M14 17h1.2v1.3h-1.2z" fill="#1e55ba"/>
<path d="M15 17h1.2v1.3h-1.2z" fill="#2842a5"/>
<path d="M16 17h1.2v1.3h-1.2z" fill="#28378f"/>
<path d="M17 17h1.2v1.3h-1.2z" fill="#283488"/>
<path d="M18 17h1.2v1.3h-1.2z" fill="#28378f"/>
<path d="M19 17h1.2v1.3h-1.2z" fill="#293a95"/>
<path d="M20 17h1.2v1.3h-1.2z" fill="#2842a6"/>
<path d="M21 17h1.2v1.3h-1.2z" fill="#234cb4"/>
<path d="M0 18h3.2v1.3h-3.2z" fill="#3c0912"/>
<path d="M3 18h1.2v1.3h-1.2z" fill="#5f0d21"/>
<path d="M4 18h1.2v1.3h-1.2z" fill="#a91e2a"/>
<path d="M5 18h1.2v1.3h-1.2z" fill="#c7583c"/>
<path d="M6 18h1.2v1.3h-1.2z" fill="#dca08a"/>
<path d="M7 18h1.2v1.3h-1.2z" fill="#d8e1e8"/>
<path d="M8 18h1.2v1.3h-1.2z" fill="#a6c3d4"/>
<path d="M9 18h1.2v1.3h-1.2z" fill="#92b8cd"/>
<path d="M10 18h1.2v1.3h-1.2z" fill="#93b9cd"/>
<path d="M11 18h1.2v1.3h-1.2z" fill="#539ac1"/>
<path d="M12 18h1.2v1.3h-1.2z" fill="#1a74be"/>
<path d="M13 18h1.2v1.3h-1.2z" fill="#1f54ba"/>
<path d="M14 18h1.2v1.3h-1.2z" fill="#293b99"/>
<path d="M15 18h1.2v1.3h-1.2z" fill="#273385"/>
<path d="M16 18h1.2v1.3h-1.2z" fill="#232a6c"/>
<path d="M17 18h1.2v1.3h-1.2z" fill="#1f245b"/>
<path d="M18 18h1.2v1.3h-1.2z" fill="#222868"/>
<path d="M19 18h1.2v1.3h-1.2z" fill="#262f7a"/>
<path d="M20 18h1.2v1.3h-1.2z" fill="#283589"/>
<path d="M21 18h1.2v1.3h-1.2z" fill="#293a95"/>
<path d="M0 19h3.2v1.3h-3.2z" fill="#3c0912"/>
<path d="M3 19h1.2v1.3h-1.2z" fill="#520b1b"/>
<path d="M4 19h1.2v1.3h-1.2z" fill="#a81d2b"/>
<path d="M5 19h1.2v1.3h-1.2z" fill="#c7593d"/>
<path d="M6 19h1.2v1.3h-1.2z" fill="#dca18c"/>
<path d="M7 19h1.2v1.3h-1.2z" fill="#cddbe5"/>
<path d="M8 19h1.2v1.3h-1.2z" fill="#98bbcf"/>
<path d="M9 19h1.2v1.3h-1.2z" fill="#80b0c9"/>
<path d="M10 19h1.2v1.3h-1.2z" fill="#69a5c4"/>
<path d="M11 19h1.2v1.3h-1.2z" fill="#3188be"/>
<path d="M12 19h1.2v1.3h-1.2z" fill="#1763bc"/>
<path d="M13 19h1.2v1.3h-1.2z" fill="#2941a4"/>
<path d="M14 19h1.2v1.3h-1.2z" fill="#283487"/>
<path d="M15 19h1.2v1.3h-1.2z" fill="#242a6e"/>
<path d="M16 19h1.2v1.3h-1.2z" fill="#1b1f4c"/>
<path d="M17 19h1.2v1.3h-1.2z" fill="#181c43"/>
<path d="M18 19h1.2v1.3h-1.2z" fill="#191d46"/>
<path d="M19 19h1.2v1.3h-1.2z" fill="#1f255d"/>
<path d="M20 19h1.2v1.3h-1.2z" fill="#242b70"/>
<path d="M21 19h1.2v1.3h-1.2z" fill="#273180"/>
<path d="M0 20h3.2v1.3h-3.2z" fill="#3c0912"/>
<path d="M3 20h1.2v1.3h-1.2z" fill="#480a17"/>
<path d="M4 20h1.2v1.3h-1.2z" fill="#a61c2b"/>
<path d="M5 20h1.2v1.3h-1.2z" fill="#c75b3e"/>
<path d="M6 20h1.2v1.3h-1.2z" fill="#dda38e"/>
<path d="M7 20h1.2v1.3h-1.2z" fill="#cddbe5"/>
<path d="M8 20h1.2v1.3h-1.2z" fill="#8fb7cc"/>
<path d="M9 20h1.2v1.3h-1.2z" fill="#6da7c5"/>
<path d="M10 20h1.2v1.3h-1.2z" fill="#4492c0"/>
<path d="M11 20h1.2v1.3h-1.2z" fill="#1c77be"/>
<path d="M12 20h1.2v1.3h-1.2z" fill="#1d58ba"/>
<path d="M13 20h1.2v1.3h-1.2z" fill="#293b98"/>
<path d="M14 20h1.2v1.3h-1.2z" fill="#273180"/>
<path d="M15 20h1.2v1.3h-1.2z" fill="#222866"/>
<path d="M16 20h1.2v1.3h-1.2z" fill="#1a1e4a"/>
<path d="M17 20h2.2v1.3h-2.2z" fill="#181c43"/>
<path d="M19 20h1.2v1.3h-1.2z" fill="#1c2050"/>
<path d="M20 20h1.2v1.3h-1.2z" fill="#202661"/>
<path d="M21 20h1.2v1.3h-1.2z" fill="#252c73"/>
</g></g>
<g clip-path="url(#c11)" fill="none" stroke="#808080" stroke-width="1.1" stroke-linejoin="round">
<path d="M262.3 240.8L264.3 235.9L267.7 231.7M285.5 222.8L287.7 222.3L293.7 223.6L299.7 224.4L305.7 226.8L311.6 228.8" stroke-dasharray="3,1.6"/>
<path d="M256.4 229.8L257.8 228.0L259.5 226.2L269.7 217.3L271.9 216.5L275.7 214.0L279.0 211.6L281.7 209.1L287.7 209.2L293.7 211.5L299.7 211.2L305.7 212.2L311.6 212.8" stroke-dasharray="3,1.6"/>
<path d="M233.2 240.8L233.8 237.3L234.5 235.9L238.7 231.1L239.8 230.1L245.8 229.8L247.0 226.2L253.5 221.3L257.8 219.0L261.0 216.5L263.8 213.6L265.6 211.6L269.7 203.0L270.6 201.8L272.8 199.7M288.5 194.9L293.7 194.7L299.7 193.5L305.7 193.0L311.6 193.1" stroke-dasharray="3,1.6"/>
<path d="M226.0 240.8L226.0 235.9L226.8 226.2L227.4 221.3L227.8 219.6L233.8 216.4L239.8 215.6L245.8 216.9L246.7 216.5L252.1 211.6L257.8 207.7L263.8 201.0L266.5 197.0L268.3 192.1L269.7 189.5L274.6 187.2L279.3 182.4L279.1 177.5L277.2 173.3M270.8 162.2L269.7 160.3L269.0 158.0L268.9 153.1L269.2 148.3L268.8 143.4M293.5 177.5L293.7 177.9L297.2 177.5L293.7 176.9L293.5 177.5M228.4 143.4L228.8 148.3L227.8 149.4L225.8 148.3L221.9 144.0L221.7 143.4M300.1 143.4L301.2 148.3L301.2 157.2M298.5 173.9L299.7 176.5L305.7 176.3L311.6 174.8"/>
<path d="M222.0 240.8L222.3 231.1L222.1 228.6M221.8 211.6L224.5 206.7L227.4 201.8L227.8 201.4L233.8 202.4L239.8 202.3L245.8 205.2L249.9 201.8L251.8 201.0L256.8 197.0L261.3 192.1L263.8 189.1L264.6 187.2L266.1 182.4L266.0 177.5L265.1 172.6L262.2 162.9L261.0 158.0L260.3 153.1L259.3 143.4M240.8 143.4L240.7 149.1M233.8 163.7L227.8 167.1L221.9 163.9L221.0 162.9L218.5 158.0L216.4 153.1L215.9 150.6L214.9 148.3L213.1 143.4"/>
<path d="M216.1 240.8L216.5 221.3L217.1 206.7L217.6 201.8L218.4 197.0L219.9 192.1L220.8 187.2L220.9 182.4M215.1 172.3L209.9 172.5L203.9 167.7L197.9 168.6L191.9 172.1L188.5 172.6L187.1 177.5L185.9 178.5M241.6 192.1L245.8 194.4L249.0 192.1L251.4 187.2L251.6 185.8M250.9 169.8L250.2 167.8L245.8 163.6L239.8 172.5L233.8 177.3L233.3 177.5L231.2 182.4L233.8 184.0L237.8 187.2L239.8 188.4L241.6 192.1"/>
<path d="M208.9 240.8L208.7 235.9L207.6 221.3L206.9 216.5L206.0 211.6L203.9 203.4L203.3 201.8L197.9 197.3L191.9 194.5L187.4 195.9"/>
</g>
<g clip-path="url(#c11)" font-size="7.2" fill="#000" text-anchor="middle">
<text transform="translate(239.4,157.6) rotate(-60)" y="2.5" textLength="15.1" lengthAdjust="spacingAndGlyphs">0.25</text>
<text transform="translate(219.1,174.5) rotate(75)" y="2.5" textLength="15.1" lengthAdjust="spacingAndGlyphs">0.50</text>
<text transform="translate(252.0,178.5) rotate(65)" y="2.5" textLength="15.1" lengthAdjust="spacingAndGlyphs">0.50</text>
<text transform="translate(221.2,220.1) rotate(-85)" y="2.5" textLength="15.1" lengthAdjust="spacingAndGlyphs">0.25</text>
<text transform="translate(276.9,167.8) rotate(50)" y="2.5" textLength="15.1" lengthAdjust="spacingAndGlyphs">0.00</text>
<text transform="translate(300.5,165.9) rotate(-75)" y="2.5" textLength="15.1" lengthAdjust="spacingAndGlyphs">0.00</text>
<text transform="translate(280.7,194.1) rotate(-20)" y="2.5" textLength="17.6" lengthAdjust="spacingAndGlyphs">-0.25</text>
<text transform="translate(276.1,226.2) rotate(-15)" y="2.5" textLength="17.6" lengthAdjust="spacingAndGlyphs">-0.75</text>
<text transform="translate(250.6,237.7) rotate(-60)" y="2.5" textLength="17.6" lengthAdjust="spacingAndGlyphs">-0.50</text>
<text transform="translate(182.1,198.4) rotate(-60)" y="2.5" textLength="15.1" lengthAdjust="spacingAndGlyphs">0.75</text>
</g>
<rect x="182.95" y="143.4" width="128.7" height="97.4" fill="none" stroke="#000" stroke-width="0.8"/>
<path d="M311.65,240.80v3.5 M305.66,240.80v2.0 M299.68,240.80v2.0 M293.69,240.80v2.0 M287.71,240.80v3.5 M281.72,240.80v2.0 M275.73,240.80v2.0 M269.75,240.80v2.0 M263.76,240.80v3.5 M257.78,240.80v2.0 M251.79,240.80v2.0 M245.80,240.80v2.0 M239.82,240.80v3.5 M233.83,240.80v2.0 M227.85,240.80v2.0 M221.86,240.80v2.0 M215.87,240.80v3.5 M209.89,240.80v2.0 M203.90,240.80v2.0 M197.92,240.80v2.0 M191.93,240.80v3.5 M185.94,240.80v2.0 M182.95,240.80h-3.5 M182.95,238.85h-2.0 M182.95,236.90h-2.0 M182.95,234.96h-2.0 M182.95,233.01h-2.0 M182.95,231.06h-3.5 M182.95,229.11h-2.0 M182.95,227.16h-2.0 M182.95,225.22h-2.0 M182.95,223.27h-2.0 M182.95,221.32h-3.5 M182.95,219.37h-2.0 M182.95,217.42h-2.0 M182.95,215.48h-2.0 M182.95,213.53h-2.0 M182.95,211.58h-3.5 M182.95,209.63h-2.0 M182.95,207.68h-2.0 M182.95,205.74h-2.0 M182.95,203.79h-2.0 M182.95,201.84h-3.5 M182.95,199.89h-2.0 M182.95,197.94h-2.0 M182.95,196.00h-2.0 M182.95,194.05h-2.0 M182.95,192.10h-3.5 M182.95,190.15h-2.0 M182.95,188.20h-2.0 M182.95,186.26h-2.0 M182.95,184.31h-2.0 M182.95,182.36h-3.5 M182.95,180.41h-2.0 M182.95,178.46h-2.0 M182.95,176.52h-2.0 M182.95,174.57h-2.0 M182.95,172.62h-3.5 M182.95,170.67h-2.0 M182.95,168.72h-2.0 M182.95,166.78h-2.0 M182.95,164.83h-2.0 M182.95,162.88h-3.5 M182.95,160.93h-2.0 M182.95,158.98h-2.0 M182.95,157.04h-2.0 M182.95,155.09h-2.0 M182.95,153.14h-3.5 M182.95,151.19h-2.0 M182.95,149.24h-2.0 M182.95,147.30h-2.0 M182.95,145.35h-2.0 M182.95,143.40h-3.5" stroke="#000" stroke-width="0.8" fill="none"/>
<text x="188.15" y="152.30" font-size="9.6" text-anchor="start" fill="#fff" font-weight="bold" textLength="14.33" lengthAdjust="spacingAndGlyphs">(e)</text>
<!-- panel f -->
<g clip-path="url(#c12)"><g transform="translate(317.80,140.965) scale(5.9860,4.8700)">
<path d="M0 0h5.2v1.3h-5.2z" fill="#3c0912"/>
<path d="M5 0h1.2v1.3h-1.2z" fill="#c85f41"/>
<path d="M6 0h1.2v1.3h-1.2z" fill="#e3e6ea"/>
<path d="M7 0h1.2v1.3h-1.2z" fill="#96bace"/>
<path d="M8 0h1.2v1.3h-1.2z" fill="#f1eceb"/>
<path d="M9 0h1.2v1.3h-1.2z" fill="#e3b8a7"/>
<path d="M10 0h4.2v1.3h-4.2z" fill="#3c0912"/>
<path d="M14 0h1.2v1.3h-1.2z" fill="#98112d"/>
<path d="M15 0h1.2v1.3h-1.2z" fill="#c1412d"/>
<path d="M16 0h1.2v1.3h-1.2z" fill="#c44c33"/>
<path d="M17 0h3.2v1.3h-3.2z" fill="#cd7052"/>
<path d="M20 0h1.2v1.3h-1.2z" fill="#c85f41"/>
<path d="M21 0h1.2v1.3h-1.2z" fill="#c6573b"/>
<path d="M0 1h5.2v1.3h-5.2z" fill="#3c0912"/>
<path d="M5 1h1.2v1.3h-1.2z" fill="#c85f41"/>
<path d="M6 1h1.2v1.3h-1.2z" fill="#dae2e8"/>
<path d="M7 1h1.2v1.3h-1.2z" fill="#96bace"/>
<path d="M8 1h1.2v1.3h-1.2z" fill="#f1eceb"/>
<path d="M9 1h1.2v1.3h-1.2z" fill="#e7c8ba"/>
<path d="M10 1h4.2v1.3h-4.2z" fill="#3c0912"/>
<path d="M14 1h1.2v1.3h-1.2z" fill="#a2192c"/>
<path d="M15 1h1.2v1.3h-1.2z" fill="#c1412d"/>
<path d="M16 1h1.2v1.3h-1.2z" fill="#c44c33"/>
<path d="M17 1h1.2v1.3h-1.2z" fill="#ce7355"/>
<path d="M18 1h2.2v1.3h-2.2z" fill="#d0795c"/>
<path d="M20 1h1.2v1.3h-1.2z" fill="#cb694b"/>
<path d="M21 1h1.2v1.3h-1.2z" fill="#c85f41"/>
<path d="M0 2h4.2v1.3h-4.2z" fill="#3c0912"/>
<path d="M4 2h1.2v1.3h-1.2z" fill="#86102e"/>
<path d="M5 2h1.2v1.3h-1.2z" fill="#e7c8ba"/>
<path d="M6 2h1.2v1.3h-1.2z" fill="#67a4c4"/>
<path d="M7 2h1.2v1.3h-1.2z" fill="#559bc1"/>
<path d="M8 2h1.2v1.3h-1.2z" fill="#f1eceb"/>
<path d="M9 2h1.2v1.3h-1.2z" fill="#eacfc4"/>
<path d="M10 2h4.2v1.3h-4.2z" fill="#3c0912"/>
<path d="M14 2h1.2v1.3h-1.2z" fill="#a91e2a"/>
<path d="M15 2h1.2v1.3h-1.2z" fill="#c3452e"/>
<path d="M16 2h1.2v1.3h-1.2z" fill="#c6573b"/>
<path d="M17 2h1.2v1.3h-1.2z" fill="#cf7658"/>
<path d="M18 2h1.2v1.3h-1.2z" fill="#d17c5f"/>
<path d="M19 2h1.2v1.3h-1.2z" fill="#d0795c"/>
<path d="M20 2h1.2v1.3h-1.2z" fill="#cd7052"/>
<path d="M21 2h1.2v1.3h-1.2z" fill="#cc6c4e"/>
<path d="M0 3h4.2v1.3h-4.2z" fill="#3c0912"/>
<path d="M4 3h1.2v1.3h-1.2z" fill="#4e0b1a"/>
<path d="M5 3h1.2v1.3h-1.2z" fill="#e7c8ba"/>
<path d="M6 3h1.2v1.3h-1.2z" fill="#67a4c4"/>
<path d="M7 3h1.2v1.3h-1.2z" fill="#4d96c0"/>
<path d="M8 3h1.2v1.3h-1.2z" fill="#f1eceb"/>
<path d="M9 3h1.2v1.3h-1.2z" fill="#eacfc4"/>
<path d="M10 3h4.2v1.3h-4.2z" fill="#3c0912"/>
<path d="M14 3h1.2v1.3h-1.2z" fill="#a91e2a"/>
<path d="M15 3h1.2v1.3h-1.2z" fill="#c34830"/>
<path d="M16 3h1.2v1.3h-1.2z" fill="#c6573b"/>
<path d="M17 3h1.2v1.3h-1.2z" fill="#cd7052"/>
<path d="M18 3h1.2v1.3h-1.2z" fill="#cf7658"/>
<path d="M19 3h1.2v1.3h-1.2z" fill="#ce7355"/>
<path d="M20 3h1.2v1.3h-1.2z" fill="#cc6c4e"/>
<path d="M21 3h1.2v1.3h-1.2z" fill="#cb694b"/>
<path d="M0 4h4.2v1.3h-4.2z" fill="#3c0912"/>
<path d="M4 4h1.2v1.3h-1.2z" fill="#4e0b1a"/>
<path d="M5 4h1.2v1.3h-1.2z" fill="#e7c8ba"/>
<path d="M6 4h1.2v1.3h-1.2z" fill="#67a4c4"/>
<path d="M7 4h1.2v1.3h-1.2z" fill="#559bc1"/>
<path d="M8 4h1.2v1.3h-1.2z" fill="#ebeaeb"/>
<path d="M9 4h1.2v1.3h-1.2z" fill="#e3b8a7"/>
<path d="M10 4h3.2v1.3h-3.2z" fill="#3c0912"/>
<path d="M13 4h1.2v1.3h-1.2z" fill="#4e0b1a"/>
<path d="M14 4h1.2v1.3h-1.2z" fill="#af222a"/>
<path d="M15 4h1.2v1.3h-1.2z" fill="#c44c33"/>
<path d="M16 4h1.2v1.3h-1.2z" fill="#c65438"/>
<path d="M17 4h1.2v1.3h-1.2z" fill="#c75b3e"/>
<path d="M18 4h2.2v1.3h-2.2z" fill="#c85f41"/>
<path d="M20 4h1.2v1.3h-1.2z" fill="#c6573b"/>
<path d="M21 4h1.2v1.3h-1.2z" fill="#c65438"/>
<path d="M0 5h4.2v1.3h-4.2z" fill="#3c0912"/>
<path d="M4 5h1.2v1.3h-1.2z" fill="#4e0b1a"/>
<path d="M5 5h1.2v1.3h-1.2z" fill="#e7c8ba"/>
<path d="M6 5h1.2v1.3h-1.2z" fill="#67a4c4"/>
<path d="M7 5h1.2v1.3h-1.2z" fill="#81b0c9"/>
<path d="M8 5h1.2v1.3h-1.2z" fill="#e9e8ea"/>
<path d="M9 5h1.2v1.3h-1.2z" fill="#d27e62"/>
<path d="M10 5h1.2v1.3h-1.2z" fill="#a91e2a"/>
<path d="M11 5h2.2v1.3h-2.2z" fill="#86102e"/>
<path d="M13 5h1.2v1.3h-1.2z" fill="#b92a28"/>
<path d="M14 5h1.2v1.3h-1.2z" fill="#c85f41"/>
<path d="M15 5h1.2v1.3h-1.2z" fill="#d0795c"/>
<path d="M16 5h6.2v1.3h-6.2z" fill="#d27e62"/>
<path d="M0 6h4.2v1.3h-4.2z" fill="#3c0912"/>
<path d="M4 6h1.2v1.3h-1.2z" fill="#86102e"/>
<path d="M5 6h1.2v1.3h-1.2z" fill="#e7c8ba"/>
<path d="M6 6h1.2v1.3h-1.2z" fill="#2b84bd"/>
<path d="M7 6h1.2v1.3h-1.2z" fill="#1a5dbb"/>
<path d="M8 6h1.2v1.3h-1.2z" fill="#d3dee7"/>
<path d="M9 6h1.2v1.3h-1.2z" fill="#da9982"/>
<path d="M10 6h1.2v1.3h-1.2z" fill="#cd7052"/>
<path d="M11 6h2.2v1.3h-2.2z" fill="#c85f41"/>
<path d="M13 6h1.2v1.3h-1.2z" fill="#d27e62"/>
<path d="M14 6h1.2v1.3h-1.2z" fill="#dea692"/>
<path d="M15 6h7.2v1.3h-7.2z" fill="#e7c8ba"/>
<path d="M0 7h2.2v1.3h-2.2z" fill="#4e0b1a"/>
<path d="M2 7h2.2v1.3h-2.2z" fill="#5f0d21"/>
<path d="M4 7h1.2v1.3h-1.2z" fill="#a91e2a"/>
<path d="M5 7h1.2v1.3h-1.2z" fill="#eacfc4"/>
<path d="M6 7h1.2v1.3h-1.2z" fill="#2b84bd"/>
<path d="M7 7h1.2v1.3h-1.2z" fill="#1a5dbb"/>
<path d="M8 7h1.2v1.3h-1.2z" fill="#d3dee7"/>
<path d="M9 7h1.2v1.3h-1.2z" fill="#e7c8ba"/>
<path d="M10 7h3.2v1.3h-3.2z" fill="#da9982"/>
<path d="M13 7h1.2v1.3h-1.2z" fill="#dea692"/>
<path d="M14 7h1.2v1.3h-1.2z" fill="#edd9d1"/>
<path d="M15 7h7.2v1.3h-7.2z" fill="#eee0da"/>
<path d="M0 8h1.2v1.3h-1.2z" fill="#a2192c"/>
<path d="M1 8h1.2v1.3h-1.2z" fill="#a91e2a"/>
<path d="M2 8h1.2v1.3h-1.2z" fill="#af222a"/>
<path d="M3 8h1.2v1.3h-1.2z" fill="#bf3b2c"/>
<path d="M4 8h1.2v1.3h-1.2z" fill="#c44c33"/>
<path d="M5 8h1.2v1.3h-1.2z" fill="#e7c8ba"/>
<path d="M6 8h2.2v1.3h-2.2z" fill="#2b84bd"/>
<path d="M8 8h1.2v1.3h-1.2z" fill="#d3dee7"/>
<path d="M9 8h1.2v1.3h-1.2z" fill="#eee0da"/>
<path d="M10 8h1.2v1.3h-1.2z" fill="#e7c8ba"/>
<path d="M11 8h1.2v1.3h-1.2z" fill="#edd9d1"/>
<path d="M12 8h1.2v1.3h-1.2z" fill="#eee0da"/>
<path d="M13 8h1.2v1.3h-1.2z" fill="#f0e5e1"/>
<path d="M14 8h1.2v1.3h-1.2z" fill="#e9e8ea"/>
<path d="M15 8h1.2v1.3h-1.2z" fill="#ebeaeb"/>
<path d="M16 8h6.2v1.3h-6.2z" fill="#f1eceb"/>
<path d="M0 9h4.2v1.3h-4.2z" fill="#c85f41"/>
<path d="M4 9h1.2v1.3h-1.2z" fill="#cd7052"/>
<path d="M5 9h1.2v1.3h-1.2z" fill="#e7c8ba"/>
<path d="M6 9h1.2v1.3h-1.2z" fill="#81b0c9"/>
<path d="M7 9h1.2v1.3h-1.2z" fill="#6ba6c5"/>
<path d="M8 9h1.2v1.3h-1.2z" fill="#d3dee7"/>
<path d="M9 9h2.2v1.3h-2.2z" fill="#f1eceb"/>
<path d="M11 9h1.2v1.3h-1.2z" fill="#d3dee7"/>
<path d="M12 9h1.2v1.3h-1.2z" fill="#bfd3df"/>
<path d="M13 9h1.2v1.3h-1.2z" fill="#b3ccda"/>
<path d="M14 9h1.2v1.3h-1.2z" fill="#abc6d7"/>
<path d="M15 9h7.2v1.3h-7.2z" fill="#bfd3df"/>
<path d="M0 10h1.2v1.3h-1.2z" fill="#d0795c"/>
<path d="M1 10h1.2v1.3h-1.2z" fill="#cd7052"/>
<path d="M2 10h2.2v1.3h-2.2z" fill="#c6573b"/>
<path d="M4 10h1.2v1.3h-1.2z" fill="#d68d72"/>
<path d="M5 10h1.2v1.3h-1.2z" fill="#ebd4ca"/>
<path d="M6 10h1.2v1.3h-1.2z" fill="#81b0c9"/>
<path d="M7 10h1.2v1.3h-1.2z" fill="#2b84bd"/>
<path d="M8 10h1.2v1.3h-1.2z" fill="#bfd3df"/>
<path d="M9 10h2.2v1.3h-2.2z" fill="#e9e8ea"/>
<path d="M11 10h1.2v1.3h-1.2z" fill="#ccdae4"/>
<path d="M12 10h1.2v1.3h-1.2z" fill="#abc6d7"/>
<path d="M13 10h2.2v1.3h-2.2z" fill="#81b0c9"/>
<path d="M15 10h7.2v1.3h-7.2z" fill="#abc6d7"/>
<path d="M0 11h1.2v1.3h-1.2z" fill="#d38468"/>
<path d="M1 11h2.2v1.3h-2.2z" fill="#d27e62"/>
<path d="M3 11h1.2v1.3h-1.2z" fill="#d38468"/>
<path d="M4 11h1.2v1.3h-1.2z" fill="#d68d72"/>
<path d="M5 11h1.2v1.3h-1.2z" fill="#e7c8ba"/>
<path d="M6 11h1.2v1.3h-1.2z" fill="#81b0c9"/>
<path d="M7 11h1.2v1.3h-1.2z" fill="#4090bf"/>
<path d="M8 11h1.2v1.3h-1.2z" fill="#abc6d7"/>
<path d="M9 11h1.2v1.3h-1.2z" fill="#f1eceb"/>
<path d="M10 11h1.2v1.3h-1.2z" fill="#eee0da"/>
<path d="M11 11h1.2v1.3h-1.2z" fill="#e3e6ea"/>
<path d="M12 11h1.2v1.3h-1.2z" fill="#559bc1"/>
<path d="M13 11h2.2v1.3h-2.2z" fill="#2b84bd"/>
<path d="M15 11h1.2v1.3h-1.2z" fill="#559bc1"/>
<path d="M16 11h1.2v1.3h-1.2z" fill="#a2c2d3"/>
<path d="M17 11h3.2v1.3h-3.2z" fill="#abc6d7"/>
<path d="M20 11h2.2v1.3h-2.2z" fill="#a2c2d3"/>
<path d="M0 12h2.2v1.3h-2.2z" fill="#da9982"/>
<path d="M2 12h2.2v1.3h-2.2z" fill="#dea692"/>
<path d="M4 12h1.2v1.3h-1.2z" fill="#ebd4ca"/>
<path d="M5 12h1.2v1.3h-1.2z" fill="#f1eceb"/>
<path d="M6 12h1.2v1.3h-1.2z" fill="#81b0c9"/>
<path d="M7 12h1.2v1.3h-1.2z" fill="#4d96c0"/>
<path d="M8 12h1.2v1.3h-1.2z" fill="#abc6d7"/>
<path d="M9 12h1.2v1.3h-1.2z" fill="#eee0da"/>
<path d="M10 12h1.2v1.3h-1.2z" fill="#edd9d1"/>
<path d="M11 12h1.2v1.3h-1.2z" fill="#f1eceb"/>
<path d="M12 12h1.2v1.3h-1.2z" fill="#559bc1"/>
<path d="M13 12h2.2v1.3h-2.2z" fill="#2b84bd"/>
<path d="M15 12h1.2v1.3h-1.2z" fill="#559bc1"/>
<path d="M16 12h1.2v1.3h-1.2z" fill="#96bace"/>
<path d="M17 12h1.2v1.3h-1.2z" fill="#a2c2d3"/>
<path d="M18 12h1.2v1.3h-1.2z" fill="#abc6d7"/>
<path d="M19 12h1.2v1.3h-1.2z" fill="#a2c2d3"/>
<path d="M20 12h2.2v1.3h-2.2z" fill="#96bace"/>
<path d="M0 13h4.2v1.3h-4.2z" fill="#e7c8ba"/>
<path d="M4 13h1.2v1.3h-1.2z" fill="#f0e5e1"/>
<path d="M5 13h1.2v1.3h-1.2z" fill="#bfd3df"/>
<path d="M6 13h1.2v1.3h-1.2z" fill="#81b0c9"/>
<path d="M7 13h1.2v1.3h-1.2z" fill="#78acc7"/>
<path d="M8 13h1.2v1.3h-1.2z" fill="#96bace"/>
<path d="M9 13h1.2v1.3h-1.2z" fill="#f0e5e1"/>
<path d="M10 13h1.2v1.3h-1.2z" fill="#edd9d1"/>
<path d="M11 13h1.2v1.3h-1.2z" fill="#d3dee7"/>
<path d="M12 13h1.2v1.3h-1.2z" fill="#96bace"/>
<path d="M13 13h2.2v1.3h-2.2z" fill="#4090bf"/>
<path d="M15 13h7.2v1.3h-7.2z" fill="#81b0c9"/>
<path d="M0 14h1.2v1.3h-1.2z" fill="#ebd4ca"/>
<path d="M1 14h1.2v1.3h-1.2z" fill="#efe3de"/>
<path d="M2 14h1.2v1.3h-1.2z" fill="#f0e7e4"/>
<path d="M3 14h2.2v1.3h-2.2z" fill="#f1eceb"/>
<path d="M5 14h1.2v1.3h-1.2z" fill="#bfd3df"/>
<path d="M6 14h2.2v1.3h-2.2z" fill="#81b0c9"/>
<path d="M8 14h1.2v1.3h-1.2z" fill="#96bace"/>
<path d="M9 14h2.2v1.3h-2.2z" fill="#abc6d7"/>
<path d="M11 14h2.2v1.3h-2.2z" fill="#2b84bd"/>
<path d="M13 14h2.2v1.3h-2.2z" fill="#247fbd"/>
<path d="M15 14h1.2v1.3h-1.2z" fill="#2b84bd"/>
<path d="M16 14h6.2v1.3h-6.2z" fill="#559bc1"/>
<path d="M0 15h1.2v1.3h-1.2z" fill="#dae2e8"/>
<path d="M1 15h3.2v1.3h-3.2z" fill="#2b84bd"/>
<path d="M4 15h1.2v1.3h-1.2z" fill="#4090bf"/>
<path d="M5 15h3.2v1.3h-3.2z" fill="#5e9fc2"/>
<path d="M8 15h1.2v1.3h-1.2z" fill="#6ba6c5"/>
<path d="M9 15h1.2v1.3h-1.2z" fill="#81b0c9"/>
<path d="M10 15h1.2v1.3h-1.2z" fill="#78acc7"/>
<path d="M11 15h1.2v1.3h-1.2z" fill="#1369be"/>
<path d="M12 15h1.2v1.3h-1.2z" fill="#2a3ea0"/>
<path d="M13 15h2.2v1.3h-2.2z" fill="#1e2359"/>
<path d="M15 15h1.2v1.3h-1.2z" fill="#2a3d9d"/>
<path d="M16 15h2.2v1.3h-2.2z" fill="#1c5abb"/>
<path d="M18 15h1.2v1.3h-1.2z" fill="#195fbc"/>
<path d="M19 15h3.2v1.3h-3.2z" fill="#1567bd"/>
<path d="M0 16h1.2v1.3h-1.2z" fill="#abc6d7"/>
<path d="M1 16h1.2v1.3h-1.2z" fill="#1c77be"/>
<path d="M2 16h2.2v1.3h-2.2z" fill="#156fbe"/>
<path d="M4 16h1.2v1.3h-1.2z" fill="#2b84bd"/>
<path d="M5 16h3.2v1.3h-3.2z" fill="#559bc1"/>
<path d="M8 16h1.2v1.3h-1.2z" fill="#5e9fc2"/>
<path d="M9 16h1.2v1.3h-1.2z" fill="#81b0c9"/>
<path d="M10 16h1.2v1.3h-1.2z" fill="#78acc7"/>
<path d="M11 16h1.2v1.3h-1.2z" fill="#1369be"/>
<path d="M12 16h1.2v1.3h-1.2z" fill="#2a3ea0"/>
<path d="M13 16h2.2v1.3h-2.2z" fill="#1e2359"/>
<path d="M15 16h1.2v1.3h-1.2z" fill="#2a3d9d"/>
<path d="M16 16h2.2v1.3h-2.2z" fill="#1c5abb"/>
<path d="M18 16h1.2v1.3h-1.2z" fill="#195fbc"/>
<path d="M19 16h3.2v1.3h-3.2z" fill="#1567bd"/>
<path d="M0 17h1.2v1.3h-1.2z" fill="#abc6d7"/>
<path d="M1 17h1.2v1.3h-1.2z" fill="#156fbe"/>
<path d="M2 17h2.2v1.3h-2.2z" fill="#1369be"/>
<path d="M4 17h1.2v1.3h-1.2z" fill="#247fbd"/>
<path d="M5 17h1.2v1.3h-1.2z" fill="#4d96c0"/>
<path d="M6 17h2.2v1.3h-2.2z" fill="#559bc1"/>
<path d="M8 17h1.2v1.3h-1.2z" fill="#5e9fc2"/>
<path d="M9 17h1.2v1.3h-1.2z" fill="#78acc7"/>
<path d="M10 17h1.2v1.3h-1.2z" fill="#6ba6c5"/>
<path d="M11 17h1.2v1.3h-1.2z" fill="#1369be"/>
<path d="M12 17h1.2v1.3h-1.2z" fill="#293a97"/>
<path d="M13 17h2.2v1.3h-2.2z" fill="#1e2359"/>
<path d="M15 17h1.2v1.3h-1.2z" fill="#293a97"/>
<path d="M16 17h1.2v1.3h-1.2z" fill="#234cb4"/>
<path d="M17 17h1.2v1.3h-1.2z" fill="#2053b9"/>
<path d="M18 17h1.2v1.3h-1.2z" fill="#1c5abb"/>
<path d="M19 17h1.2v1.3h-1.2z" fill="#1664bd"/>
<path d="M20 17h2.2v1.3h-2.2z" fill="#1567bd"/>
<path d="M0 18h1.2v1.3h-1.2z" fill="#96bace"/>
<path d="M1 18h1.2v1.3h-1.2z" fill="#2150b9"/>
<path d="M2 18h1.2v1.3h-1.2z" fill="#2549af"/>
<path d="M3 18h2.2v1.3h-2.2z" fill="#293891"/>
<path d="M5 18h1.2v1.3h-1.2z" fill="#293a97"/>
<path d="M6 18h1.2v1.3h-1.2z" fill="#1c77be"/>
<path d="M7 18h2.2v1.3h-2.2z" fill="#2b84bd"/>
<path d="M9 18h2.2v1.3h-2.2z" fill="#4090bf"/>
<path d="M11 18h1.2v1.3h-1.2z" fill="#1664bd"/>
<path d="M12 18h1.2v1.3h-1.2z" fill="#242b70"/>
<path d="M13 18h1.2v1.3h-1.2z" fill="#1c2050"/>
<path d="M14 18h1.2v1.3h-1.2z" fill="#1e2359"/>
<path d="M15 18h1.2v1.3h-1.2z" fill="#293a97"/>
<path d="M16 18h2.2v1.3h-2.2z" fill="#234cb4"/>
<path d="M18 18h1.2v1.3h-1.2z" fill="#1c5abb"/>
<path d="M19 18h1.2v1.3h-1.2z" fill="#1664bd"/>
<path d="M20 18h2.2v1.3h-2.2z" fill="#1567bd"/>
<path d="M0 19h1.2v1.3h-1.2z" fill="#abc6d7"/>
<path d="M1 19h1.2v1.3h-1.2z" fill="#1a5dbb"/>
<path d="M2 19h1.2v1.3h-1.2z" fill="#273281"/>
<path d="M3 19h2.2v1.3h-2.2z" fill="#262f7b"/>
<path d="M5 19h1.2v1.3h-1.2z" fill="#273281"/>
<path d="M6 19h1.2v1.3h-1.2z" fill="#1369be"/>
<path d="M7 19h1.2v1.3h-1.2z" fill="#247fbd"/>
<path d="M8 19h1.2v1.3h-1.2z" fill="#2b84bd"/>
<path d="M9 19h2.2v1.3h-2.2z" fill="#378bbe"/>
<path d="M11 19h1.2v1.3h-1.2z" fill="#1a5dbb"/>
<path d="M12 19h1.2v1.3h-1.2z" fill="#242b70"/>
<path d="M13 19h1.2v1.3h-1.2z" fill="#1c2050"/>
<path d="M14 19h1.2v1.3h-1.2z" fill="#1e2359"/>
<path d="M15 19h1.2v1.3h-1.2z" fill="#293a97"/>
<path d="M16 19h2.2v1.3h-2.2z" fill="#234cb4"/>
<path d="M18 19h1.2v1.3h-1.2z" fill="#1c5abb"/>
<path d="M19 19h1.2v1.3h-1.2z" fill="#1664bd"/>
<path d="M20 19h2.2v1.3h-2.2z" fill="#1567bd"/>
<path d="M0 20h1.2v1.3h-1.2z" fill="#e3e6ea"/>
<path d="M1 20h1.2v1.3h-1.2z" fill="#1369be"/>
<path d="M2 20h1.2v1.3h-1.2z" fill="#2150b9"/>
<path d="M3 20h2.2v1.3h-2.2z" fill="#2549af"/>
<path d="M5 20h1.2v1.3h-1.2z" fill="#2150b9"/>
<path d="M6 20h1.2v1.3h-1.2z" fill="#1664bd"/>
<path d="M7 20h2.2v1.3h-2.2z" fill="#1369be"/>
<path d="M9 20h2.2v1.3h-2.2z" fill="#1c77be"/>
<path d="M11 20h1.2v1.3h-1.2z" fill="#1a5dbb"/>
<path d="M12 20h1.2v1.3h-1.2z" fill="#293891"/>
<path d="M13 20h1.2v1.3h-1.2z" fill="#28358a"/>
<path d="M14 20h1.2v1.3h-1.2z" fill="#293891"/>
<path d="M15 20h1.2v1.3h-1.2z" fill="#2150b9"/>
<path d="M16 20h1.2v1.3h-1.2z" fill="#1664bd"/>
<path d="M17 20h5.2v1.3h-5.2z" fill="#1369be"/>
</g></g>
<g clip-path="url(#c12)" fill="none" stroke="#808080" stroke-width="1.1" stroke-linejoin="round">
<path d="M332.8 239.2L329.8 235.9L331.8 233.4M334.3 231.4L338.8 229.8L341.7 230.0M350.7 230.7L351.5 231.1L353.1 235.9L350.7 239.2L344.7 239.8L338.8 239.8L332.8 239.2M390.6 240.8L389.0 235.9L389.4 231.1L391.6 226.2L392.6 221.3L392.6 216.5L398.6 214.2L404.6 214.2L411.2 216.5L411.2 221.3L413.1 226.2L413.1 231.9" stroke-dasharray="3,1.6"/>
<path d="M325.7 240.8L324.7 235.2M324.3 230.4L325.5 226.2L325.9 221.3L326.8 216.5L338.8 216.5L344.7 221.3L345.9 226.2L350.7 227.3L356.7 229.4L362.7 231.1L368.7 231.1L368.7 235.9L374.7 237.8L380.7 237.8L381.7 235.9L382.4 231.1M385.1 215.1L386.6 211.6L392.6 211.6L398.6 210.2L404.6 210.2L410.6 211.6L416.6 213.5L422.6 213.5L434.5 213.9L446.5 213.9M398.6 201.8L398.6 197.0L404.6 197.0L404.6 201.8L398.6 201.8M356.7 182.4L356.7 172.6L362.7 170.5L364.3 172.6L364.3 177.5L362.7 182.4L356.7 182.4" stroke-dasharray="3,1.6"/>
<path d="M323.0 240.8L321.5 235.9L320.8 231.1M320.8 231.1L321.6 226.2L321.6 221.3L323.2 216.5L326.8 214.2L338.8 214.0L344.7 214.3L350.7 213.7L354.7 211.6L354.7 206.7L355.7 201.8L356.0 195.3M355.8 186.5L354.4 182.4L354.3 177.5L354.4 172.6L355.4 167.8L355.4 153.1L356.7 151.2L362.7 148.3L362.7 143.4M362.7 143.4L362.7 148.3L364.9 153.1L365.1 162.9L363.8 167.8L367.0 172.6L367.0 177.5L366.4 182.4L365.1 187.2L367.0 192.1L367.5 197.0L367.3 201.8L368.7 206.7L368.7 211.6L374.7 214.0L380.7 213.6L381.7 211.6L386.6 208.5L392.6 206.7L391.7 204.6M396.2 191.7L398.6 190.1L404.6 189.7L407.6 192.1L410.6 193.3L415.6 197.0L416.6 201.8L422.6 203.7L428.5 204.3L434.5 203.7L440.5 201.8L446.5 201.8" stroke-dasharray="3,1.6"/>
<path d="M320.8 214.3L326.8 211.9L338.8 211.6L344.7 211.6L345.7 206.7L350.7 201.8L352.7 197.0L352.2 192.1L352.7 187.2L352.1 182.4L351.9 177.5L352.5 167.8L352.5 153.1L355.9 148.3L356.2 143.4M374.0 206.7L374.7 207.3L380.7 208.1L383.3 206.7L386.6 201.8L383.6 197.0L380.7 193.9L374.7 197.0L373.5 201.8L374.0 206.7M368.7 143.4L368.7 155.6M370.0 171.9L371.1 177.5L372.7 182.4L374.7 187.2L380.7 187.2L386.6 184.5L392.6 183.6L398.6 183.1L401.6 182.4L404.6 181.0L410.6 181.0L416.6 182.4L446.5 182.4"/>
<path d="M329.0 202.9L332.8 201.8L338.8 201.8L344.7 198.9L347.7 197.0L347.1 192.1L348.7 187.2L349.2 182.4L349.4 177.5L349.8 172.6L350.0 167.8L349.8 153.1L353.3 148.3L353.4 143.4M375.0 143.4L375.6 153.1L375.6 158.0L375.0 162.9L374.7 164.1L372.6 167.8L373.9 172.6L374.7 174.2L380.7 179.1L386.6 178.6L391.1 178.5M406.8 171.9L410.6 170.8L416.6 170.7L446.5 170.7"/>
<path d="M331.1 192.1L332.8 192.9L338.8 192.8L339.5 192.1L338.8 187.2L332.8 187.2L331.1 192.1M320.8 187.2L338.8 187.2L344.7 184.8L346.8 177.5L348.1 167.8L348.1 158.0L347.5 153.1L350.7 148.3L350.7 143.4M446.5 160.4L440.5 161.3L434.5 162.9L440.5 163.7L446.5 164.0M376.9 143.4L377.3 158.0L376.7 167.8L380.7 171.6L386.6 172.6L392.6 172.6L398.6 170.7L410.6 164.8L424.8 163.2M425.5 162.5L422.6 162.1L418.3 158.0L417.9 153.1L419.3 148.3L419.6 143.4M440.5 143.4L446.5 148.3"/>
<path d="M320.8 181.7L326.8 181.4L336.5 180.3M343.2 177.5L344.7 175.1L346.2 167.8L346.2 158.0L345.2 153.1L348.2 148.3L348.2 143.4M378.8 143.4L379.0 153.1L378.8 162.9L380.7 166.9L386.6 168.6L392.6 168.6L398.6 166.1L403.0 162.9L403.6 158.0L404.1 148.3L404.6 143.4"/>
</g>
<g clip-path="url(#c12)" font-size="7.2" fill="#000" text-anchor="middle">
<text transform="translate(337.4,183.9) rotate(-40)" y="2.5" textLength="15.1" lengthAdjust="spacingAndGlyphs">0.75</text>
<text transform="translate(326.7,206.1) rotate(0)" y="2.5" textLength="15.1" lengthAdjust="spacingAndGlyphs">0.25</text>
<text transform="translate(359.4,186.0) rotate(-80)" y="2.5" textLength="17.6" lengthAdjust="spacingAndGlyphs">-0.25</text>
<text transform="translate(368.8,163.8) rotate(85)" y="2.5" textLength="15.1" lengthAdjust="spacingAndGlyphs">0.00</text>
<text transform="translate(399.1,175.3) rotate(-35)" y="2.5" textLength="15.1" lengthAdjust="spacingAndGlyphs">0.25</text>
<text transform="translate(429.9,163.0) rotate(-45)" y="2.5" textLength="15.1" lengthAdjust="spacingAndGlyphs">0.50</text>
<text transform="translate(390.5,197.3) rotate(-70)" y="2.5" textLength="17.6" lengthAdjust="spacingAndGlyphs">-0.25</text>
<text transform="translate(330.7,228.1) rotate(-50)" y="2.5" textLength="17.6" lengthAdjust="spacingAndGlyphs">-0.50</text>
<text transform="translate(341.5,233.5) rotate(-10)" y="2.5" textLength="17.6" lengthAdjust="spacingAndGlyphs">-0.75</text>
<text transform="translate(386.2,224.6) rotate(-85)" y="2.5" textLength="17.6" lengthAdjust="spacingAndGlyphs">-0.50</text>
<text transform="translate(410.3,236.7) rotate(-20)" y="2.5" textLength="17.6" lengthAdjust="spacingAndGlyphs">-0.75</text>
</g>
<rect x="317.8" y="143.4" width="128.7" height="97.4" fill="none" stroke="#000" stroke-width="0.8"/>
<path d="M446.50,240.80v3.5 M440.51,240.80v2.0 M434.53,240.80v2.0 M428.54,240.80v2.0 M422.56,240.80v3.5 M416.57,240.80v2.0 M410.58,240.80v2.0 M404.60,240.80v2.0 M398.61,240.80v3.5 M392.63,240.80v2.0 M386.64,240.80v2.0 M380.65,240.80v2.0 M374.67,240.80v3.5 M368.68,240.80v2.0 M362.70,240.80v2.0 M356.71,240.80v2.0 M350.72,240.80v3.5 M344.74,240.80v2.0 M338.75,240.80v2.0 M332.77,240.80v2.0 M326.78,240.80v3.5 M320.79,240.80v2.0 M317.80,240.80h-3.5 M317.80,238.85h-2.0 M317.80,236.90h-2.0 M317.80,234.96h-2.0 M317.80,233.01h-2.0 M317.80,231.06h-3.5 M317.80,229.11h-2.0 M317.80,227.16h-2.0 M317.80,225.22h-2.0 M317.80,223.27h-2.0 M317.80,221.32h-3.5 M317.80,219.37h-2.0 M317.80,217.42h-2.0 M317.80,215.48h-2.0 M317.80,213.53h-2.0 M317.80,211.58h-3.5 M317.80,209.63h-2.0 M317.80,207.68h-2.0 M317.80,205.74h-2.0 M317.80,203.79h-2.0 M317.80,201.84h-3.5 M317.80,199.89h-2.0 M317.80,197.94h-2.0 M317.80,196.00h-2.0 M317.80,194.05h-2.0 M317.80,192.10h-3.5 M317.80,190.15h-2.0 M317.80,188.20h-2.0 M317.80,186.26h-2.0 M317.80,184.31h-2.0 M317.80,182.36h-3.5 M317.80,180.41h-2.0 M317.80,178.46h-2.0 M317.80,176.52h-2.0 M317.80,174.57h-2.0 M317.80,172.62h-3.5 M317.80,170.67h-2.0 M317.80,168.72h-2.0 M317.80,166.78h-2.0 M317.80,164.83h-2.0 M317.80,162.88h-3.5 M317.80,160.93h-2.0 M317.80,158.98h-2.0 M317.80,157.04h-2.0 M317.80,155.09h-2.0 M317.80,153.14h-3.5 M317.80,151.19h-2.0 M317.80,149.24h-2.0 M317.80,147.30h-2.0 M317.80,145.35h-2.0 M317.80,143.40h-3.5" stroke="#000" stroke-width="0.8" fill="none"/>
<text x="323.00" y="152.30" font-size="9.6" text-anchor="start" fill="#fff" font-weight="bold" textLength="12.14" lengthAdjust="spacingAndGlyphs">(f)</text>
<!-- panel g -->
<g clip-path="url(#c20)"><g transform="translate(48.10,252.365) scale(5.9860,4.8700)">
<path d="M0 0h2.2v1.3h-2.2z" fill="#b02329"/>
<path d="M2 0h1.2v1.3h-1.2z" fill="#b22529"/>
<path d="M3 0h1.2v1.3h-1.2z" fill="#bb3129"/>
<path d="M4 0h1.2v1.3h-1.2z" fill="#c3452e"/>
<path d="M5 0h1.2v1.3h-1.2z" fill="#c96143"/>
<path d="M6 0h1.2v1.3h-1.2z" fill="#d0795b"/>
<path d="M7 0h1.2v1.3h-1.2z" fill="#d68d73"/>
<path d="M8 0h1.2v1.3h-1.2z" fill="#dc9f8a"/>
<path d="M9 0h1.2v1.3h-1.2z" fill="#e1b09d"/>
<path d="M10 0h1.2v1.3h-1.2z" fill="#e4bdad"/>
<path d="M11 0h1.2v1.3h-1.2z" fill="#e7c8ba"/>
<path d="M12 0h1.2v1.3h-1.2z" fill="#ead0c5"/>
<path d="M13 0h1.2v1.3h-1.2z" fill="#ecd6cc"/>
<path d="M14 0h1.2v1.3h-1.2z" fill="#eddad1"/>
<path d="M15 0h1.2v1.3h-1.2z" fill="#eeddd6"/>
<path d="M16 0h1.2v1.3h-1.2z" fill="#eee0da"/>
<path d="M17 0h1.2v1.3h-1.2z" fill="#efe3de"/>
<path d="M18 0h1.2v1.3h-1.2z" fill="#f0e6e2"/>
<path d="M19 0h1.2v1.3h-1.2z" fill="#f0e9e6"/>
<path d="M20 0h1.2v1.3h-1.2z" fill="#f0eceb"/>
<path d="M21 0h1.2v1.3h-1.2z" fill="#e5e7ea"/>
<path d="M0 1h1.2v1.3h-1.2z" fill="#ab1f2a"/>
<path d="M1 1h2.2v1.3h-2.2z" fill="#aa1f2a"/>
<path d="M3 1h1.2v1.3h-1.2z" fill="#b12429"/>
<path d="M4 1h1.2v1.3h-1.2z" fill="#be382b"/>
<path d="M5 1h1.2v1.3h-1.2z" fill="#c6573b"/>
<path d="M6 1h1.2v1.3h-1.2z" fill="#ce7254"/>
<path d="M7 1h1.2v1.3h-1.2z" fill="#d4876b"/>
<path d="M8 1h1.2v1.3h-1.2z" fill="#da9982"/>
<path d="M9 1h1.2v1.3h-1.2z" fill="#dfaa97"/>
<path d="M10 1h1.2v1.3h-1.2z" fill="#e3b9a9"/>
<path d="M11 1h1.2v1.3h-1.2z" fill="#e7c6b8"/>
<path d="M12 1h1.2v1.3h-1.2z" fill="#eacfc4"/>
<path d="M13 1h1.2v1.3h-1.2z" fill="#ebd5cc"/>
<path d="M14 1h1.2v1.3h-1.2z" fill="#ecd8cf"/>
<path d="M15 1h1.2v1.3h-1.2z" fill="#eddcd4"/>
<path d="M16 1h1.2v1.3h-1.2z" fill="#eedfd9"/>
<path d="M17 1h1.2v1.3h-1.2z" fill="#efe3de"/>
<path d="M18 1h1.2v1.3h-1.2z" fill="#f0e6e2"/>
<path d="M19 1h1.2v1.3h-1.2z" fill="#f0e9e6"/>
<path d="M20 1h1.2v1.3h-1.2z" fill="#efebeb"/>
<path d="M21 1h1.2v1.3h-1.2z" fill="#e4e6ea"/>
<path d="M0 2h2.2v1.3h-2.2z" fill="#a51b2b"/>
<path d="M2 2h1.2v1.3h-1.2z" fill="#a31a2b"/>
<path d="M3 2h1.2v1.3h-1.2z" fill="#a71c2b"/>
<path d="M4 2h1.2v1.3h-1.2z" fill="#ba2d29"/>
<path d="M5 2h1.2v1.3h-1.2z" fill="#c44a31"/>
<path d="M6 2h1.2v1.3h-1.2z" fill="#ca6749"/>
<path d="M7 2h1.2v1.3h-1.2z" fill="#d17d60"/>
<path d="M8 2h1.2v1.3h-1.2z" fill="#d79077"/>
<path d="M9 2h1.2v1.3h-1.2z" fill="#dca18b"/>
<path d="M10 2h1.2v1.3h-1.2z" fill="#e1b19f"/>
<path d="M11 2h1.2v1.3h-1.2z" fill="#e5c0b0"/>
<path d="M12 2h1.2v1.3h-1.2z" fill="#e8c9bc"/>
<path d="M13 2h1.2v1.3h-1.2z" fill="#ead0c5"/>
<path d="M14 2h1.2v1.3h-1.2z" fill="#ebd4ca"/>
<path d="M15 2h1.2v1.3h-1.2z" fill="#ecd8cf"/>
<path d="M16 2h1.2v1.3h-1.2z" fill="#eeddd6"/>
<path d="M17 2h1.2v1.3h-1.2z" fill="#efe3de"/>
<path d="M18 2h1.2v1.3h-1.2z" fill="#f0e6e2"/>
<path d="M19 2h1.2v1.3h-1.2z" fill="#f0e9e7"/>
<path d="M20 2h1.2v1.3h-1.2z" fill="#edeaeb"/>
<path d="M21 2h1.2v1.3h-1.2z" fill="#e2e5ea"/>
<path d="M0 3h1.2v1.3h-1.2z" fill="#a0172c"/>
<path d="M1 3h1.2v1.3h-1.2z" fill="#9e162c"/>
<path d="M2 3h1.2v1.3h-1.2z" fill="#9d152c"/>
<path d="M3 3h1.2v1.3h-1.2z" fill="#a3192b"/>
<path d="M4 3h1.2v1.3h-1.2z" fill="#b42629"/>
<path d="M5 3h1.2v1.3h-1.2z" fill="#c03d2c"/>
<path d="M6 3h1.2v1.3h-1.2z" fill="#c7583c"/>
<path d="M7 3h1.2v1.3h-1.2z" fill="#cd7052"/>
<path d="M8 3h1.2v1.3h-1.2z" fill="#d38468"/>
<path d="M9 3h1.2v1.3h-1.2z" fill="#d9957d"/>
<path d="M10 3h1.2v1.3h-1.2z" fill="#dda490"/>
<path d="M11 3h1.2v1.3h-1.2z" fill="#e2b4a3"/>
<path d="M12 3h1.2v1.3h-1.2z" fill="#e6c1b2"/>
<path d="M13 3h1.2v1.3h-1.2z" fill="#e7c8ba"/>
<path d="M14 3h1.2v1.3h-1.2z" fill="#e9cdc1"/>
<path d="M15 3h1.2v1.3h-1.2z" fill="#ead2c7"/>
<path d="M16 3h1.2v1.3h-1.2z" fill="#ecd8d0"/>
<path d="M17 3h1.2v1.3h-1.2z" fill="#eee0da"/>
<path d="M18 3h1.2v1.3h-1.2z" fill="#efe4e0"/>
<path d="M19 3h1.2v1.3h-1.2z" fill="#f0e9e7"/>
<path d="M20 3h1.2v1.3h-1.2z" fill="#ebeaeb"/>
<path d="M21 3h1.2v1.3h-1.2z" fill="#dfe4e9"/>
<path d="M0 4h1.2v1.3h-1.2z" fill="#9a132d"/>
<path d="M1 4h1.2v1.3h-1.2z" fill="#93112d"/>
<path d="M2 4h1.2v1.3h-1.2z" fill="#90102d"/>
<path d="M3 4h1.2v1.3h-1.2z" fill="#98112d"/>
<path d="M4 4h1.2v1.3h-1.2z" fill="#a81d2b"/>
<path d="M5 4h1.2v1.3h-1.2z" fill="#bb2f29"/>
<path d="M6 4h1.2v1.3h-1.2z" fill="#c3462e"/>
<path d="M7 4h1.2v1.3h-1.2z" fill="#c85f41"/>
<path d="M8 4h1.2v1.3h-1.2z" fill="#ce7457"/>
<path d="M9 4h1.2v1.3h-1.2z" fill="#d4876c"/>
<path d="M10 4h1.2v1.3h-1.2z" fill="#da9981"/>
<path d="M11 4h1.2v1.3h-1.2z" fill="#dfa995"/>
<path d="M12 4h1.2v1.3h-1.2z" fill="#e2b5a4"/>
<path d="M13 4h1.2v1.3h-1.2z" fill="#e4bdad"/>
<path d="M14 4h1.2v1.3h-1.2z" fill="#e6c3b5"/>
<path d="M15 4h1.2v1.3h-1.2z" fill="#e8c9bb"/>
<path d="M16 4h1.2v1.3h-1.2z" fill="#eacfc4"/>
<path d="M17 4h1.2v1.3h-1.2z" fill="#ecd7ce"/>
<path d="M18 4h1.2v1.3h-1.2z" fill="#eedfd9"/>
<path d="M19 4h1.2v1.3h-1.2z" fill="#f0e8e5"/>
<path d="M20 4h1.2v1.3h-1.2z" fill="#eae9eb"/>
<path d="M21 4h1.2v1.3h-1.2z" fill="#dce2e8"/>
<path d="M0 5h1.2v1.3h-1.2z" fill="#94112d"/>
<path d="M1 5h1.2v1.3h-1.2z" fill="#7b0f2d"/>
<path d="M2 5h1.2v1.3h-1.2z" fill="#780f2c"/>
<path d="M3 5h1.2v1.3h-1.2z" fill="#820f2e"/>
<path d="M4 5h1.2v1.3h-1.2z" fill="#9a122d"/>
<path d="M5 5h1.2v1.3h-1.2z" fill="#b02329"/>
<path d="M6 5h1.2v1.3h-1.2z" fill="#bd362a"/>
<path d="M7 5h1.2v1.3h-1.2z" fill="#c44b32"/>
<path d="M8 5h1.2v1.3h-1.2z" fill="#c96244"/>
<path d="M9 5h1.2v1.3h-1.2z" fill="#cf7558"/>
<path d="M10 5h1.2v1.3h-1.2z" fill="#d4886d"/>
<path d="M11 5h1.2v1.3h-1.2z" fill="#da9982"/>
<path d="M12 5h1.2v1.3h-1.2z" fill="#dea692"/>
<path d="M13 5h1.2v1.3h-1.2z" fill="#e0ad9b"/>
<path d="M14 5h1.2v1.3h-1.2z" fill="#e2b4a2"/>
<path d="M15 5h1.2v1.3h-1.2z" fill="#e4bbab"/>
<path d="M16 5h1.2v1.3h-1.2z" fill="#e6c5b6"/>
<path d="M17 5h1.2v1.3h-1.2z" fill="#e9cec2"/>
<path d="M18 5h1.2v1.3h-1.2z" fill="#edd9d1"/>
<path d="M19 5h1.2v1.3h-1.2z" fill="#f0e6e2"/>
<path d="M20 5h1.2v1.3h-1.2z" fill="#e9e8ea"/>
<path d="M21 5h1.2v1.3h-1.2z" fill="#d8e1e8"/>
<path d="M0 6h1.2v1.3h-1.2z" fill="#8a102e"/>
<path d="M1 6h1.2v1.3h-1.2z" fill="#670e25"/>
<path d="M2 6h1.2v1.3h-1.2z" fill="#5f0d21"/>
<path d="M3 6h1.2v1.3h-1.2z" fill="#6a0e26"/>
<path d="M4 6h1.2v1.3h-1.2z" fill="#86102e"/>
<path d="M5 6h1.2v1.3h-1.2z" fill="#a0172c"/>
<path d="M6 6h1.2v1.3h-1.2z" fill="#b42629"/>
<path d="M7 6h1.2v1.3h-1.2z" fill="#be392b"/>
<path d="M8 6h1.2v1.3h-1.2z" fill="#c44d33"/>
<path d="M9 6h1.2v1.3h-1.2z" fill="#c85f41"/>
<path d="M10 6h1.2v1.3h-1.2z" fill="#ce7457"/>
<path d="M11 6h1.2v1.3h-1.2z" fill="#d4876b"/>
<path d="M12 6h1.2v1.3h-1.2z" fill="#d8947b"/>
<path d="M13 6h1.2v1.3h-1.2z" fill="#db9d86"/>
<path d="M14 6h1.2v1.3h-1.2z" fill="#dda38e"/>
<path d="M15 6h1.2v1.3h-1.2z" fill="#dfaa97"/>
<path d="M16 6h1.2v1.3h-1.2z" fill="#e2b5a4"/>
<path d="M17 6h1.2v1.3h-1.2z" fill="#e7c5b7"/>
<path d="M18 6h1.2v1.3h-1.2z" fill="#ebd4ca"/>
<path d="M19 6h1.2v1.3h-1.2z" fill="#efe4e0"/>
<path d="M20 6h1.2v1.3h-1.2z" fill="#e5e7ea"/>
<path d="M21 6h1.2v1.3h-1.2z" fill="#cbdae4"/>
<path d="M0 7h1.2v1.3h-1.2z" fill="#690e25"/>
<path d="M1 7h1.2v1.3h-1.2z" fill="#4e0b1a"/>
<path d="M2 7h1.2v1.3h-1.2z" fill="#490a17"/>
<path d="M3 7h1.2v1.3h-1.2z" fill="#510b1b"/>
<path d="M4 7h1.2v1.3h-1.2z" fill="#6a0e26"/>
<path d="M5 7h1.2v1.3h-1.2z" fill="#8b102d"/>
<path d="M6 7h1.2v1.3h-1.2z" fill="#a3192b"/>
<path d="M7 7h1.2v1.3h-1.2z" fill="#b92a28"/>
<path d="M8 7h1.2v1.3h-1.2z" fill="#c03d2c"/>
<path d="M9 7h1.2v1.3h-1.2z" fill="#c54f35"/>
<path d="M10 7h1.2v1.3h-1.2z" fill="#c96345"/>
<path d="M11 7h1.2v1.3h-1.2z" fill="#cf7659"/>
<path d="M12 7h1.2v1.3h-1.2z" fill="#d38468"/>
<path d="M13 7h1.2v1.3h-1.2z" fill="#d68e74"/>
<path d="M14 7h1.2v1.3h-1.2z" fill="#d9977f"/>
<path d="M15 7h1.2v1.3h-1.2z" fill="#dc9e88"/>
<path d="M16 7h1.2v1.3h-1.2z" fill="#dea793"/>
<path d="M17 7h1.2v1.3h-1.2z" fill="#e4bdad"/>
<path d="M18 7h1.2v1.3h-1.2z" fill="#ead1c7"/>
<path d="M19 7h1.2v1.3h-1.2z" fill="#efe5e1"/>
<path d="M20 7h1.2v1.3h-1.2z" fill="#dce3e8"/>
<path d="M21 7h1.2v1.3h-1.2z" fill="#b5cddb"/>
<path d="M0 8h1.2v1.3h-1.2z" fill="#3f0913"/>
<path d="M1 8h3.2v1.3h-3.2z" fill="#3c0912"/>
<path d="M4 8h1.2v1.3h-1.2z" fill="#520c1c"/>
<path d="M5 8h1.2v1.3h-1.2z" fill="#750e2b"/>
<path d="M6 8h1.2v1.3h-1.2z" fill="#96112d"/>
<path d="M7 8h1.2v1.3h-1.2z" fill="#b02329"/>
<path d="M8 8h1.2v1.3h-1.2z" fill="#bd362b"/>
<path d="M9 8h1.2v1.3h-1.2z" fill="#c3482f"/>
<path d="M10 8h1.2v1.3h-1.2z" fill="#c75b3e"/>
<path d="M11 8h1.2v1.3h-1.2z" fill="#cd6f51"/>
<path d="M12 8h1.2v1.3h-1.2z" fill="#d07b5e"/>
<path d="M13 8h1.2v1.3h-1.2z" fill="#d4866b"/>
<path d="M14 8h1.2v1.3h-1.2z" fill="#d8927a"/>
<path d="M15 8h1.2v1.3h-1.2z" fill="#da9a83"/>
<path d="M16 8h1.2v1.3h-1.2z" fill="#dda38e"/>
<path d="M17 8h1.2v1.3h-1.2z" fill="#e4bdad"/>
<path d="M18 8h1.2v1.3h-1.2z" fill="#ecd6cd"/>
<path d="M19 8h1.2v1.3h-1.2z" fill="#f0ebeb"/>
<path d="M20 8h1.2v1.3h-1.2z" fill="#c6d7e2"/>
<path d="M21 8h1.2v1.3h-1.2z" fill="#95bace"/>
<path d="M0 9h4.2v1.3h-4.2z" fill="#3c0912"/>
<path d="M4 9h1.2v1.3h-1.2z" fill="#450a16"/>
<path d="M5 9h1.2v1.3h-1.2z" fill="#670e25"/>
<path d="M6 9h1.2v1.3h-1.2z" fill="#91102d"/>
<path d="M7 9h1.2v1.3h-1.2z" fill="#af222a"/>
<path d="M8 9h1.2v1.3h-1.2z" fill="#be372b"/>
<path d="M9 9h1.2v1.3h-1.2z" fill="#c44930"/>
<path d="M10 9h1.2v1.3h-1.2z" fill="#c85d3f"/>
<path d="M11 9h1.2v1.3h-1.2z" fill="#cf7558"/>
<path d="M12 9h1.2v1.3h-1.2z" fill="#d48569"/>
<path d="M13 9h1.2v1.3h-1.2z" fill="#d79077"/>
<path d="M14 9h1.2v1.3h-1.2z" fill="#da9a83"/>
<path d="M15 9h1.2v1.3h-1.2z" fill="#dca18c"/>
<path d="M16 9h1.2v1.3h-1.2z" fill="#e1b09e"/>
<path d="M17 9h1.2v1.3h-1.2z" fill="#e8cbbe"/>
<path d="M18 9h1.2v1.3h-1.2z" fill="#efe4df"/>
<path d="M19 9h1.2v1.3h-1.2z" fill="#d8e1e8"/>
<path d="M20 9h1.2v1.3h-1.2z" fill="#a3c2d3"/>
<path d="M21 9h1.2v1.3h-1.2z" fill="#79acc7"/>
<path d="M0 10h5.2v1.3h-5.2z" fill="#3c0912"/>
<path d="M5 10h1.2v1.3h-1.2z" fill="#5f0d21"/>
<path d="M6 10h1.2v1.3h-1.2z" fill="#92112d"/>
<path d="M7 10h1.2v1.3h-1.2z" fill="#b42729"/>
<path d="M8 10h1.2v1.3h-1.2z" fill="#c1412d"/>
<path d="M9 10h1.2v1.3h-1.2z" fill="#c7583b"/>
<path d="M10 10h1.2v1.3h-1.2z" fill="#cd6f51"/>
<path d="M11 10h1.2v1.3h-1.2z" fill="#d58a6f"/>
<path d="M12 10h1.2v1.3h-1.2z" fill="#db9b84"/>
<path d="M13 10h1.2v1.3h-1.2z" fill="#dda38f"/>
<path d="M14 10h1.2v1.3h-1.2z" fill="#e0ae9b"/>
<path d="M15 10h1.2v1.3h-1.2z" fill="#e4bbab"/>
<path d="M16 10h1.2v1.3h-1.2z" fill="#e9ccc0"/>
<path d="M17 10h1.2v1.3h-1.2z" fill="#efe1db"/>
<path d="M18 10h1.2v1.3h-1.2z" fill="#e3e6ea"/>
<path d="M19 10h1.2v1.3h-1.2z" fill="#b3cbda"/>
<path d="M20 10h1.2v1.3h-1.2z" fill="#80b0c9"/>
<path d="M21 10h1.2v1.3h-1.2z" fill="#579cc1"/>
<path d="M0 11h4.2v1.3h-4.2z" fill="#3c0912"/>
<path d="M4 11h1.2v1.3h-1.2z" fill="#3d0913"/>
<path d="M5 11h1.2v1.3h-1.2z" fill="#660d24"/>
<path d="M6 11h1.2v1.3h-1.2z" fill="#9a132d"/>
<path d="M7 11h1.2v1.3h-1.2z" fill="#bb3129"/>
<path d="M8 11h1.2v1.3h-1.2z" fill="#c65338"/>
<path d="M9 11h1.2v1.3h-1.2z" fill="#ce7355"/>
<path d="M10 11h1.2v1.3h-1.2z" fill="#d68e74"/>
<path d="M11 11h1.2v1.3h-1.2z" fill="#dda38e"/>
<path d="M12 11h1.2v1.3h-1.2z" fill="#e2b4a3"/>
<path d="M13 11h1.2v1.3h-1.2z" fill="#e5c1b2"/>
<path d="M14 11h1.2v1.3h-1.2z" fill="#e8cbbf"/>
<path d="M15 11h1.2v1.3h-1.2z" fill="#ecd6cd"/>
<path d="M16 11h1.2v1.3h-1.2z" fill="#f0e6e2"/>
<path d="M17 11h1.2v1.3h-1.2z" fill="#e2e6ea"/>
<path d="M18 11h1.2v1.3h-1.2z" fill="#c1d4e0"/>
<path d="M19 11h1.2v1.3h-1.2z" fill="#8fb7cc"/>
<path d="M20 11h1.2v1.3h-1.2z" fill="#5c9ec2"/>
<path d="M21 11h1.2v1.3h-1.2z" fill="#3389be"/>
<path d="M0 12h4.2v1.3h-4.2z" fill="#3c0912"/>
<path d="M4 12h1.2v1.3h-1.2z" fill="#3f0913"/>
<path d="M5 12h1.2v1.3h-1.2z" fill="#6e0e28"/>
<path d="M6 12h1.2v1.3h-1.2z" fill="#a3192b"/>
<path d="M7 12h1.2v1.3h-1.2z" fill="#c13f2d"/>
<path d="M8 12h1.2v1.3h-1.2z" fill="#cb694b"/>
<path d="M9 12h1.2v1.3h-1.2z" fill="#d58b70"/>
<path d="M10 12h1.2v1.3h-1.2z" fill="#dea591"/>
<path d="M11 12h1.2v1.3h-1.2z" fill="#e2b6a5"/>
<path d="M12 12h1.2v1.3h-1.2z" fill="#e9cdc1"/>
<path d="M13 12h1.2v1.3h-1.2z" fill="#eddad2"/>
<path d="M14 12h1.2v1.3h-1.2z" fill="#efe4e0"/>
<path d="M15 12h1.2v1.3h-1.2z" fill="#edeaeb"/>
<path d="M16 12h1.2v1.3h-1.2z" fill="#d9e1e8"/>
<path d="M17 12h1.2v1.3h-1.2z" fill="#bed2df"/>
<path d="M18 12h1.2v1.3h-1.2z" fill="#9fc0d2"/>
<path d="M19 12h1.2v1.3h-1.2z" fill="#6ea7c5"/>
<path d="M20 12h1.2v1.3h-1.2z" fill="#3a8dbf"/>
<path d="M21 12h1.2v1.3h-1.2z" fill="#1d77be"/>
<path d="M0 13h5.2v1.3h-5.2z" fill="#3c0912"/>
<path d="M5 13h1.2v1.3h-1.2z" fill="#720e29"/>
<path d="M6 13h1.2v1.3h-1.2z" fill="#ab1f2a"/>
<path d="M7 13h1.2v1.3h-1.2z" fill="#c55136"/>
<path d="M8 13h1.2v1.3h-1.2z" fill="#d17d61"/>
<path d="M9 13h1.2v1.3h-1.2z" fill="#db9d86"/>
<path d="M10 13h1.2v1.3h-1.2z" fill="#e3b9a8"/>
<path d="M11 13h1.2v1.3h-1.2z" fill="#ead1c7"/>
<path d="M12 13h1.2v1.3h-1.2z" fill="#efe5e1"/>
<path d="M13 13h1.2v1.3h-1.2z" fill="#eae9ea"/>
<path d="M14 13h1.2v1.3h-1.2z" fill="#dbe2e8"/>
<path d="M15 13h1.2v1.3h-1.2z" fill="#c8d8e3"/>
<path d="M16 13h1.2v1.3h-1.2z" fill="#aec8d8"/>
<path d="M17 13h1.2v1.3h-1.2z" fill="#94b9cd"/>
<path d="M18 13h1.2v1.3h-1.2z" fill="#76abc6"/>
<path d="M19 13h1.2v1.3h-1.2z" fill="#4c96c0"/>
<path d="M20 13h1.2v1.3h-1.2z" fill="#227dbd"/>
<path d="M21 13h1.2v1.3h-1.2z" fill="#1567bd"/>
<path d="M0 14h5.2v1.3h-5.2z" fill="#3c0912"/>
<path d="M5 14h1.2v1.3h-1.2z" fill="#720e29"/>
<path d="M6 14h1.2v1.3h-1.2z" fill="#b42629"/>
<path d="M7 14h1.2v1.3h-1.2z" fill="#c86143"/>
<path d="M8 14h1.2v1.3h-1.2z" fill="#d68e74"/>
<path d="M9 14h1.2v1.3h-1.2z" fill="#e2b3a1"/>
<path d="M10 14h1.2v1.3h-1.2z" fill="#ead1c7"/>
<path d="M11 14h1.2v1.3h-1.2z" fill="#f0e9e6"/>
<path d="M12 14h1.2v1.3h-1.2z" fill="#dfe4e9"/>
<path d="M13 14h1.2v1.3h-1.2z" fill="#c9d9e3"/>
<path d="M14 14h1.2v1.3h-1.2z" fill="#b3cbda"/>
<path d="M15 14h1.2v1.3h-1.2z" fill="#9cbed0"/>
<path d="M16 14h1.2v1.3h-1.2z" fill="#83b1c9"/>
<path d="M17 14h1.2v1.3h-1.2z" fill="#6ca6c5"/>
<path d="M18 14h1.2v1.3h-1.2z" fill="#5299c1"/>
<path d="M19 14h1.2v1.3h-1.2z" fill="#2f87be"/>
<path d="M20 14h1.2v1.3h-1.2z" fill="#136bbe"/>
<path d="M21 14h1.2v1.3h-1.2z" fill="#1e56ba"/>
<path d="M0 15h5.2v1.3h-5.2z" fill="#3c0912"/>
<path d="M5 15h1.2v1.3h-1.2z" fill="#6f0e28"/>
<path d="M6 15h1.2v1.3h-1.2z" fill="#ba2e29"/>
<path d="M7 15h1.2v1.3h-1.2z" fill="#cd6f51"/>
<path d="M8 15h1.2v1.3h-1.2z" fill="#db9b84"/>
<path d="M9 15h1.2v1.3h-1.2z" fill="#e8c8bb"/>
<path d="M10 15h1.2v1.3h-1.2z" fill="#f0e6e2"/>
<path d="M11 15h1.2v1.3h-1.2z" fill="#e6e7ea"/>
<path d="M12 15h1.2v1.3h-1.2z" fill="#bbd0dd"/>
<path d="M13 15h1.2v1.3h-1.2z" fill="#9cbed1"/>
<path d="M14 15h1.2v1.3h-1.2z" fill="#84b2c9"/>
<path d="M15 15h1.2v1.3h-1.2z" fill="#6ca6c5"/>
<path d="M16 15h1.2v1.3h-1.2z" fill="#579cc1"/>
<path d="M17 15h1.2v1.3h-1.2z" fill="#4492bf"/>
<path d="M18 15h1.2v1.3h-1.2z" fill="#2e86be"/>
<path d="M19 15h1.2v1.3h-1.2z" fill="#156fbe"/>
<path d="M20 15h1.2v1.3h-1.2z" fill="#1d57ba"/>
<path d="M21 15h1.2v1.3h-1.2z" fill="#2a3d9f"/>
<path d="M0 16h5.2v1.3h-5.2z" fill="#3c0912"/>
<path d="M5 16h1.2v1.3h-1.2z" fill="#6d0e27"/>
<path d="M6 16h1.2v1.3h-1.2z" fill="#bd352a"/>
<path d="M7 16h1.2v1.3h-1.2z" fill="#d0795b"/>
<path d="M8 16h1.2v1.3h-1.2z" fill="#dfaa97"/>
<path d="M9 16h1.2v1.3h-1.2z" fill="#eddad2"/>
<path d="M10 16h1.2v1.3h-1.2z" fill="#e3e6ea"/>
<path d="M11 16h1.2v1.3h-1.2z" fill="#bbd0dd"/>
<path d="M12 16h1.2v1.3h-1.2z" fill="#8ab5cb"/>
<path d="M13 16h1.2v1.3h-1.2z" fill="#69a5c4"/>
<path d="M14 16h1.2v1.3h-1.2z" fill="#4c96c0"/>
<path d="M15 16h1.2v1.3h-1.2z" fill="#378bbe"/>
<path d="M16 16h1.2v1.3h-1.2z" fill="#2681bd"/>
<path d="M17 16h1.2v1.3h-1.2z" fill="#1a75be"/>
<path d="M18 16h1.2v1.3h-1.2z" fill="#1665bd"/>
<path d="M19 16h1.2v1.3h-1.2z" fill="#1f54ba"/>
<path d="M20 16h1.2v1.3h-1.2z" fill="#2a3d9e"/>
<path d="M21 16h1.2v1.3h-1.2z" fill="#28368d"/>
<path d="M0 17h5.2v1.3h-5.2z" fill="#3c0912"/>
<path d="M5 17h1.2v1.3h-1.2z" fill="#7c0f2e"/>
<path d="M6 17h1.2v1.3h-1.2z" fill="#bf3c2c"/>
<path d="M7 17h1.2v1.3h-1.2z" fill="#d38367"/>
<path d="M8 17h1.2v1.3h-1.2z" fill="#e5bfaf"/>
<path d="M9 17h1.2v1.3h-1.2z" fill="#f0ebeb"/>
<path d="M10 17h1.2v1.3h-1.2z" fill="#bfd3df"/>
<path d="M11 17h1.2v1.3h-1.2z" fill="#8db6cc"/>
<path d="M12 17h1.2v1.3h-1.2z" fill="#61a1c3"/>
<path d="M13 17h1.2v1.3h-1.2z" fill="#3b8dbf"/>
<path d="M14 17h1.2v1.3h-1.2z" fill="#1e79bd"/>
<path d="M15 17h1.2v1.3h-1.2z" fill="#136abe"/>
<path d="M16 17h1.2v1.3h-1.2z" fill="#1a5ebb"/>
<path d="M17 17h1.2v1.3h-1.2z" fill="#2052b9"/>
<path d="M18 17h1.2v1.3h-1.2z" fill="#2841a4"/>
<path d="M19 17h1.2v1.3h-1.2z" fill="#293995"/>
<path d="M20 17h1.2v1.3h-1.2z" fill="#283487"/>
<path d="M21 17h1.2v1.3h-1.2z" fill="#272f7b"/>
<path d="M0 18h5.2v1.3h-5.2z" fill="#3c0912"/>
<path d="M5 18h1.2v1.3h-1.2z" fill="#86102e"/>
<path d="M6 18h1.2v1.3h-1.2z" fill="#c2432d"/>
<path d="M7 18h1.2v1.3h-1.2z" fill="#d78f75"/>
<path d="M8 18h1.2v1.3h-1.2z" fill="#ead1c6"/>
<path d="M9 18h1.2v1.3h-1.2z" fill="#dce3e9"/>
<path d="M10 18h1.2v1.3h-1.2z" fill="#9fc0d2"/>
<path d="M11 18h1.2v1.3h-1.2z" fill="#78acc7"/>
<path d="M12 18h1.2v1.3h-1.2z" fill="#3a8dbf"/>
<path d="M13 18h1.2v1.3h-1.2z" fill="#1973be"/>
<path d="M14 18h1.2v1.3h-1.2z" fill="#1a5cbb"/>
<path d="M15 18h1.2v1.3h-1.2z" fill="#244ab0"/>
<path d="M16 18h1.2v1.3h-1.2z" fill="#2a3c9c"/>
<path d="M17 18h1.2v1.3h-1.2z" fill="#293890"/>
<path d="M18 18h1.2v1.3h-1.2z" fill="#283486"/>
<path d="M19 18h1.2v1.3h-1.2z" fill="#27307c"/>
<path d="M20 18h1.2v1.3h-1.2z" fill="#252b71"/>
<path d="M21 18h1.2v1.3h-1.2z" fill="#212765"/>
<path d="M0 19h5.2v1.3h-5.2z" fill="#3c0912"/>
<path d="M5 19h1.2v1.3h-1.2z" fill="#8a102e"/>
<path d="M6 19h1.2v1.3h-1.2z" fill="#c3472e"/>
<path d="M7 19h1.2v1.3h-1.2z" fill="#d8937a"/>
<path d="M8 19h1.2v1.3h-1.2z" fill="#eeded7"/>
<path d="M9 19h1.2v1.3h-1.2z" fill="#cbdae4"/>
<path d="M10 19h1.2v1.3h-1.2z" fill="#77acc7"/>
<path d="M11 19h1.2v1.3h-1.2z" fill="#3b8dbf"/>
<path d="M12 19h1.2v1.3h-1.2z" fill="#1a75be"/>
<path d="M13 19h1.2v1.3h-1.2z" fill="#1c59bb"/>
<path d="M14 19h1.2v1.3h-1.2z" fill="#293b98"/>
<path d="M15 19h1.2v1.3h-1.2z" fill="#283487"/>
<path d="M16 19h1.2v1.3h-1.2z" fill="#273180"/>
<path d="M17 19h1.2v1.3h-1.2z" fill="#262e79"/>
<path d="M18 19h1.2v1.3h-1.2z" fill="#242b70"/>
<path d="M19 19h1.2v1.3h-1.2z" fill="#212765"/>
<path d="M20 19h1.2v1.3h-1.2z" fill="#1e2359"/>
<path d="M21 19h1.2v1.3h-1.2z" fill="#1b204f"/>
<path d="M0 20h4.2v1.3h-4.2z" fill="#3c0912"/>
<path d="M4 20h1.2v1.3h-1.2z" fill="#440a15"/>
<path d="M5 20h1.2v1.3h-1.2z" fill="#8e102d"/>
<path d="M6 20h1.2v1.3h-1.2z" fill="#c44a31"/>
<path d="M7 20h1.2v1.3h-1.2z" fill="#d9967d"/>
<path d="M8 20h1.2v1.3h-1.2z" fill="#f1eae8"/>
<path d="M9 20h1.2v1.3h-1.2z" fill="#b0cad9"/>
<path d="M10 20h1.2v1.3h-1.2z" fill="#146ebe"/>
<path d="M11 20h1.2v1.3h-1.2z" fill="#247fbd"/>
<path d="M12 20h1.2v1.3h-1.2z" fill="#1664bd"/>
<path d="M13 20h1.2v1.3h-1.2z" fill="#2a3ea0"/>
<path d="M14 20h1.2v1.3h-1.2z" fill="#252c73"/>
<path d="M15 20h1.2v1.3h-1.2z" fill="#242a6e"/>
<path d="M16 20h1.2v1.3h-1.2z" fill="#23296a"/>
<path d="M17 20h1.2v1.3h-1.2z" fill="#212764"/>
<path d="M18 20h1.2v1.3h-1.2z" fill="#1f255d"/>
<path d="M19 20h1.2v1.3h-1.2z" fill="#1d2254"/>
<path d="M20 20h1.2v1.3h-1.2z" fill="#1a1e4a"/>
<path d="M21 20h1.2v1.3h-1.2z" fill="#181c43"/>
</g></g>
<g clip-path="url(#c20)" fill="none" stroke="#808080" stroke-width="1.1" stroke-linejoin="round">
<path d="M128.9 352.2L133.4 347.3L134.9 346.3L140.9 343.9L143.7 342.9M162.1 336.8L164.8 335.9L170.3 332.7L176.8 327.6" stroke-dasharray="3,1.6"/>
<path d="M109.7 352.2L111.0 350.7L115.4 350.5M130.3 338.5L134.9 335.9L140.9 333.9L146.9 332.2L152.9 330.3L159.4 327.9L165.4 323.0L170.8 315.9L176.8 309.8" stroke-dasharray="3,1.6"/>
<path d="M105.9 352.2L111.0 343.6L112.4 342.5L115.9 337.6L122.9 331.6L128.9 328.5L142.3 323.0L152.9 317.9L158.8 314.4L160.0 313.2L163.5 309.0" stroke-dasharray="3,1.6"/>
<path d="M99.2 352.2L102.7 342.5L105.0 337.3L111.0 329.6L113.4 327.9L118.1 323.0L122.9 319.7L126.2 318.1L128.9 316.9L140.9 312.6L146.9 309.6L152.9 305.8L155.7 303.5L158.8 300.6L164.5 293.8L166.6 288.9L167.4 284.0L167.6 279.2L167.5 276.7M168.3 260.4L169.8 254.8"/>
<path d="M94.3 352.2L94.7 347.3L95.4 342.5L96.5 339.0M102.9 323.7L105.0 320.6L107.4 318.1L111.0 313.6L118.4 308.4L122.9 306.0L130.8 303.5L140.9 299.9L143.4 298.6L146.9 295.3L147.8 293.8L146.9 289.8L146.3 288.9L140.9 285.5L134.9 282.9L122.9 279.1L116.2 274.3L107.4 264.5L105.0 261.4L103.9 259.7L101.9 254.8"/>
<path d="M88.4 352.2L88.9 342.5L91.5 327.9L93.0 322.4L94.7 318.1L97.4 313.2L99.0 310.8L101.0 308.4L105.0 304.7L106.7 303.5M110.0 289.5L109.7 288.9L104.9 284.0L98.2 279.2L93.1 274.3L88.5 269.4L85.3 264.5L82.7 259.7L80.5 254.8"/>
<path d="M81.8 352.2L82.3 342.5L83.8 332.7L84.3 323.0L84.9 318.1L85.6 313.2L87.0 306.8L87.9 303.5L88.3 298.6L88.2 297.9M79.8 284.6L75.0 279.6L69.1 274.1L63.1 271.3L57.1 272.1L53.0 274.3L51.1 276.3"/>
</g>
<g clip-path="url(#c20)" font-size="7.2" fill="#000" text-anchor="middle">
<text transform="translate(86.7,290.1) rotate(55)" y="2.5" textLength="15.1" lengthAdjust="spacingAndGlyphs">0.75</text>
<text transform="translate(111.7,296.2) rotate(-75)" y="2.5" textLength="15.1" lengthAdjust="spacingAndGlyphs">0.50</text>
<text transform="translate(98.3,331.1) rotate(-70)" y="2.5" textLength="15.1" lengthAdjust="spacingAndGlyphs">0.25</text>
<text transform="translate(167.1,268.6) rotate(85)" y="2.5" textLength="15.1" lengthAdjust="spacingAndGlyphs">0.00</text>
<text transform="translate(170.6,301.6) rotate(-60)" y="2.5" textLength="17.6" lengthAdjust="spacingAndGlyphs">-0.25</text>
<text transform="translate(121.6,343.1) rotate(-45)" y="2.5" textLength="17.6" lengthAdjust="spacingAndGlyphs">-0.50</text>
<text transform="translate(152.7,339.1) rotate(-15)" y="2.5" textLength="17.6" lengthAdjust="spacingAndGlyphs">-0.75</text>
</g>
<rect x="48.1" y="254.8" width="128.7" height="97.4" fill="none" stroke="#000" stroke-width="0.8"/>
<path d="M176.80,352.20v3.5 M170.81,352.20v2.0 M164.83,352.20v2.0 M158.84,352.20v2.0 M152.86,352.20v3.5 M146.87,352.20v2.0 M140.88,352.20v2.0 M134.90,352.20v2.0 M128.91,352.20v3.5 M122.93,352.20v2.0 M116.94,352.20v2.0 M110.95,352.20v2.0 M104.97,352.20v3.5 M98.98,352.20v2.0 M93.00,352.20v2.0 M87.01,352.20v2.0 M81.02,352.20v3.5 M75.04,352.20v2.0 M69.05,352.20v2.0 M63.07,352.20v2.0 M57.08,352.20v3.5 M51.09,352.20v2.0 M48.10,352.20h-3.5 M48.10,350.25h-2.0 M48.10,348.30h-2.0 M48.10,346.36h-2.0 M48.10,344.41h-2.0 M48.10,342.46h-3.5 M48.10,340.51h-2.0 M48.10,338.56h-2.0 M48.10,336.62h-2.0 M48.10,334.67h-2.0 M48.10,332.72h-3.5 M48.10,330.77h-2.0 M48.10,328.82h-2.0 M48.10,326.88h-2.0 M48.10,324.93h-2.0 M48.10,322.98h-3.5 M48.10,321.03h-2.0 M48.10,319.08h-2.0 M48.10,317.14h-2.0 M48.10,315.19h-2.0 M48.10,313.24h-3.5 M48.10,311.29h-2.0 M48.10,309.34h-2.0 M48.10,307.40h-2.0 M48.10,305.45h-2.0 M48.10,303.50h-3.5 M48.10,301.55h-2.0 M48.10,299.60h-2.0 M48.10,297.66h-2.0 M48.10,295.71h-2.0 M48.10,293.76h-3.5 M48.10,291.81h-2.0 M48.10,289.86h-2.0 M48.10,287.92h-2.0 M48.10,285.97h-2.0 M48.10,284.02h-3.5 M48.10,282.07h-2.0 M48.10,280.12h-2.0 M48.10,278.18h-2.0 M48.10,276.23h-2.0 M48.10,274.28h-3.5 M48.10,272.33h-2.0 M48.10,270.38h-2.0 M48.10,268.44h-2.0 M48.10,266.49h-2.0 M48.10,264.54h-3.5 M48.10,262.59h-2.0 M48.10,260.64h-2.0 M48.10,258.70h-2.0 M48.10,256.75h-2.0 M48.10,254.80h-3.5" stroke="#000" stroke-width="0.8" fill="none"/>
<text x="53.30" y="263.70" font-size="9.6" text-anchor="start" fill="#fff" font-weight="bold" textLength="14.67" lengthAdjust="spacingAndGlyphs">(g)</text>
<!-- panel h -->
<g clip-path="url(#c21)"><g transform="translate(182.95,252.365) scale(5.9860,4.8700)">
<path d="M0 0h1.2v1.3h-1.2z" fill="#ce7254"/>
<path d="M1 0h1.2v1.3h-1.2z" fill="#cf775a"/>
<path d="M2 0h1.2v1.3h-1.2z" fill="#d27f63"/>
<path d="M3 0h1.2v1.3h-1.2z" fill="#d58a6f"/>
<path d="M4 0h1.2v1.3h-1.2z" fill="#d9967e"/>
<path d="M5 0h1.2v1.3h-1.2z" fill="#dda28d"/>
<path d="M6 0h1.2v1.3h-1.2z" fill="#e2b4a2"/>
<path d="M7 0h1.2v1.3h-1.2z" fill="#e3b7a6"/>
<path d="M8 0h1.2v1.3h-1.2z" fill="#dda48f"/>
<path d="M9 0h1.2v1.3h-1.2z" fill="#d17e61"/>
<path d="M10 0h1.2v1.3h-1.2z" fill="#b62828"/>
<path d="M11 0h1.2v1.3h-1.2z" fill="#ca6547"/>
<path d="M12 0h1.2v1.3h-1.2z" fill="#d58a6f"/>
<path d="M13 0h1.2v1.3h-1.2z" fill="#e3b7a6"/>
<path d="M14 0h1.2v1.3h-1.2z" fill="#edeaeb"/>
<path d="M15 0h1.2v1.3h-1.2z" fill="#d2dee6"/>
<path d="M16 0h1.2v1.3h-1.2z" fill="#adc8d8"/>
<path d="M17 0h1.2v1.3h-1.2z" fill="#abc7d7"/>
<path d="M18 0h1.2v1.3h-1.2z" fill="#d1dde6"/>
<path d="M19 0h1.2v1.3h-1.2z" fill="#edeaeb"/>
<path d="M20 0h1.2v1.3h-1.2z" fill="#efe5e1"/>
<path d="M21 0h1.2v1.3h-1.2z" fill="#eedfd9"/>
<path d="M0 1h1.2v1.3h-1.2z" fill="#cc6c4e"/>
<path d="M1 1h1.2v1.3h-1.2z" fill="#cd7153"/>
<path d="M2 1h1.2v1.3h-1.2z" fill="#cf785a"/>
<path d="M3 1h1.2v1.3h-1.2z" fill="#d38468"/>
<path d="M4 1h1.2v1.3h-1.2z" fill="#d89279"/>
<path d="M5 1h1.2v1.3h-1.2z" fill="#dda28d"/>
<path d="M6 1h1.2v1.3h-1.2z" fill="#e5c0b0"/>
<path d="M7 1h1.2v1.3h-1.2z" fill="#e7c5b7"/>
<path d="M8 1h1.2v1.3h-1.2z" fill="#dda28d"/>
<path d="M9 1h1.2v1.3h-1.2z" fill="#d07b5e"/>
<path d="M10 1h1.2v1.3h-1.2z" fill="#b62828"/>
<path d="M11 1h1.2v1.3h-1.2z" fill="#c96345"/>
<path d="M12 1h1.2v1.3h-1.2z" fill="#d48569"/>
<path d="M13 1h1.2v1.3h-1.2z" fill="#e2b3a2"/>
<path d="M14 1h1.2v1.3h-1.2z" fill="#f0eceb"/>
<path d="M15 1h1.2v1.3h-1.2z" fill="#d9e1e8"/>
<path d="M16 1h1.2v1.3h-1.2z" fill="#abc7d7"/>
<path d="M17 1h1.2v1.3h-1.2z" fill="#a9c5d6"/>
<path d="M18 1h1.2v1.3h-1.2z" fill="#d2dee6"/>
<path d="M19 1h1.2v1.3h-1.2z" fill="#eceaeb"/>
<path d="M20 1h1.2v1.3h-1.2z" fill="#f0e5e1"/>
<path d="M21 1h1.2v1.3h-1.2z" fill="#eee0da"/>
<path d="M0 2h1.2v1.3h-1.2z" fill="#ca6749"/>
<path d="M1 2h1.2v1.3h-1.2z" fill="#cb6a4c"/>
<path d="M2 2h1.2v1.3h-1.2z" fill="#cd7052"/>
<path d="M3 2h1.2v1.3h-1.2z" fill="#d17d60"/>
<path d="M4 2h1.2v1.3h-1.2z" fill="#d68c72"/>
<path d="M5 2h1.2v1.3h-1.2z" fill="#db9e88"/>
<path d="M6 2h1.2v1.3h-1.2z" fill="#e3b7a6"/>
<path d="M7 2h1.2v1.3h-1.2z" fill="#e4bdad"/>
<path d="M8 2h1.2v1.3h-1.2z" fill="#dc9f8a"/>
<path d="M9 2h1.2v1.3h-1.2z" fill="#cf785a"/>
<path d="M10 2h1.2v1.3h-1.2z" fill="#b62828"/>
<path d="M11 2h1.2v1.3h-1.2z" fill="#cb694b"/>
<path d="M12 2h1.2v1.3h-1.2z" fill="#d4866a"/>
<path d="M13 2h1.2v1.3h-1.2z" fill="#e1b09d"/>
<path d="M14 2h1.2v1.3h-1.2z" fill="#f0e7e4"/>
<path d="M15 2h1.2v1.3h-1.2z" fill="#d6e0e7"/>
<path d="M16 2h1.2v1.3h-1.2z" fill="#acc8d7"/>
<path d="M17 2h1.2v1.3h-1.2z" fill="#afc9d8"/>
<path d="M18 2h1.2v1.3h-1.2z" fill="#e2e5ea"/>
<path d="M19 2h1.2v1.3h-1.2z" fill="#f0ebeb"/>
<path d="M20 2h1.2v1.3h-1.2z" fill="#f0e6e3"/>
<path d="M21 2h1.2v1.3h-1.2z" fill="#efe2dd"/>
<path d="M0 3h1.2v1.3h-1.2z" fill="#c96345"/>
<path d="M1 3h1.2v1.3h-1.2z" fill="#ca6648"/>
<path d="M2 3h1.2v1.3h-1.2z" fill="#cc6b4d"/>
<path d="M3 3h1.2v1.3h-1.2z" fill="#ce7457"/>
<path d="M4 3h1.2v1.3h-1.2z" fill="#d28266"/>
<path d="M5 3h1.2v1.3h-1.2z" fill="#d9967e"/>
<path d="M6 3h1.2v1.3h-1.2z" fill="#e0ae9c"/>
<path d="M7 3h1.2v1.3h-1.2z" fill="#e1b3a1"/>
<path d="M8 3h1.2v1.3h-1.2z" fill="#da9881"/>
<path d="M9 3h1.2v1.3h-1.2z" fill="#cd6f51"/>
<path d="M10 3h1.2v1.3h-1.2z" fill="#b62828"/>
<path d="M11 3h1.2v1.3h-1.2z" fill="#ca6547"/>
<path d="M12 3h1.2v1.3h-1.2z" fill="#d38368"/>
<path d="M13 3h1.2v1.3h-1.2z" fill="#dea894"/>
<path d="M14 3h1.2v1.3h-1.2z" fill="#ecd7ce"/>
<path d="M15 3h1.2v1.3h-1.2z" fill="#e2e5ea"/>
<path d="M16 3h1.2v1.3h-1.2z" fill="#adc8d7"/>
<path d="M17 3h1.2v1.3h-1.2z" fill="#a9c5d6"/>
<path d="M18 3h1.2v1.3h-1.2z" fill="#d9e1e8"/>
<path d="M19 3h1.2v1.3h-1.2z" fill="#edeaeb"/>
<path d="M20 3h1.2v1.3h-1.2z" fill="#f0e7e4"/>
<path d="M21 3h1.2v1.3h-1.2z" fill="#efe2dd"/>
<path d="M0 4h1.2v1.3h-1.2z" fill="#c96143"/>
<path d="M1 4h1.2v1.3h-1.2z" fill="#c96345"/>
<path d="M2 4h1.2v1.3h-1.2z" fill="#ca6547"/>
<path d="M3 4h1.2v1.3h-1.2z" fill="#cb684a"/>
<path d="M4 4h1.2v1.3h-1.2z" fill="#cd6f51"/>
<path d="M5 4h1.2v1.3h-1.2z" fill="#d28064"/>
<path d="M6 4h1.2v1.3h-1.2z" fill="#dda38e"/>
<path d="M7 4h1.2v1.3h-1.2z" fill="#dfa895"/>
<path d="M8 4h1.2v1.3h-1.2z" fill="#d68e74"/>
<path d="M9 4h1.2v1.3h-1.2z" fill="#cb684a"/>
<path d="M10 4h1.2v1.3h-1.2z" fill="#b22529"/>
<path d="M11 4h1.2v1.3h-1.2z" fill="#c85d40"/>
<path d="M12 4h1.2v1.3h-1.2z" fill="#d17c5f"/>
<path d="M13 4h1.2v1.3h-1.2z" fill="#dda28d"/>
<path d="M14 4h1.2v1.3h-1.2z" fill="#e8cbbe"/>
<path d="M15 4h1.2v1.3h-1.2z" fill="#f0e6e3"/>
<path d="M16 4h1.2v1.3h-1.2z" fill="#afc9d8"/>
<path d="M17 4h1.2v1.3h-1.2z" fill="#a9c5d6"/>
<path d="M18 4h1.2v1.3h-1.2z" fill="#d4dfe7"/>
<path d="M19 4h1.2v1.3h-1.2z" fill="#eeebeb"/>
<path d="M20 4h1.2v1.3h-1.2z" fill="#efe5e1"/>
<path d="M21 4h1.2v1.3h-1.2z" fill="#efe1db"/>
<path d="M0 5h1.2v1.3h-1.2z" fill="#c86042"/>
<path d="M1 5h1.2v1.3h-1.2z" fill="#c96143"/>
<path d="M2 5h1.2v1.3h-1.2z" fill="#c85f41"/>
<path d="M3 5h1.2v1.3h-1.2z" fill="#c85e41"/>
<path d="M4 5h1.2v1.3h-1.2z" fill="#c86042"/>
<path d="M5 5h1.2v1.3h-1.2z" fill="#c96345"/>
<path d="M6 5h1.2v1.3h-1.2z" fill="#d4876b"/>
<path d="M7 5h1.2v1.3h-1.2z" fill="#d68e74"/>
<path d="M8 5h1.2v1.3h-1.2z" fill="#d0795b"/>
<path d="M9 5h1.2v1.3h-1.2z" fill="#c65539"/>
<path d="M10 5h1.2v1.3h-1.2z" fill="#af222a"/>
<path d="M11 5h1.2v1.3h-1.2z" fill="#c3472f"/>
<path d="M12 5h1.2v1.3h-1.2z" fill="#cb694b"/>
<path d="M13 5h1.2v1.3h-1.2z" fill="#da9a83"/>
<path d="M14 5h1.2v1.3h-1.2z" fill="#e6c4b5"/>
<path d="M15 5h1.2v1.3h-1.2z" fill="#eeddd6"/>
<path d="M16 5h1.2v1.3h-1.2z" fill="#c1d4e0"/>
<path d="M17 5h1.2v1.3h-1.2z" fill="#adc8d8"/>
<path d="M18 5h1.2v1.3h-1.2z" fill="#e3e6ea"/>
<path d="M19 5h1.2v1.3h-1.2z" fill="#f0e8e6"/>
<path d="M20 5h1.2v1.3h-1.2z" fill="#efe1dc"/>
<path d="M21 5h1.2v1.3h-1.2z" fill="#eeded7"/>
<path d="M0 6h2.2v1.3h-2.2z" fill="#c86042"/>
<path d="M2 6h1.2v1.3h-1.2z" fill="#c75b3e"/>
<path d="M3 6h1.2v1.3h-1.2z" fill="#c75a3d"/>
<path d="M4 6h2.2v1.3h-2.2z" fill="#c85d3f"/>
<path d="M6 6h1.2v1.3h-1.2z" fill="#cc6e50"/>
<path d="M7 6h1.2v1.3h-1.2z" fill="#ce7355"/>
<path d="M8 6h1.2v1.3h-1.2z" fill="#c96143"/>
<path d="M9 6h1.2v1.3h-1.2z" fill="#be392b"/>
<path d="M10 6h1.2v1.3h-1.2z" fill="#a51b2b"/>
<path d="M11 6h1.2v1.3h-1.2z" fill="#bb3029"/>
<path d="M12 6h1.2v1.3h-1.2z" fill="#c6563a"/>
<path d="M13 6h1.2v1.3h-1.2z" fill="#d89279"/>
<path d="M14 6h1.2v1.3h-1.2z" fill="#e5bfaf"/>
<path d="M15 6h1.2v1.3h-1.2z" fill="#eddad2"/>
<path d="M16 6h1.2v1.3h-1.2z" fill="#d2dee6"/>
<path d="M17 6h1.2v1.3h-1.2z" fill="#cbdae4"/>
<path d="M18 6h1.2v1.3h-1.2z" fill="#f0e7e3"/>
<path d="M19 6h1.2v1.3h-1.2z" fill="#efe2dd"/>
<path d="M20 6h1.2v1.3h-1.2z" fill="#efe1db"/>
<path d="M21 6h1.2v1.3h-1.2z" fill="#efe2dd"/>
<path d="M0 7h1.2v1.3h-1.2z" fill="#c86143"/>
<path d="M1 7h1.2v1.3h-1.2z" fill="#c75c3e"/>
<path d="M2 7h1.2v1.3h-1.2z" fill="#c65439"/>
<path d="M3 7h1.2v1.3h-1.2z" fill="#c55136"/>
<path d="M4 7h1.2v1.3h-1.2z" fill="#c65438"/>
<path d="M5 7h1.2v1.3h-1.2z" fill="#c75a3d"/>
<path d="M6 7h1.2v1.3h-1.2z" fill="#c96446"/>
<path d="M7 7h1.2v1.3h-1.2z" fill="#ca6547"/>
<path d="M8 7h1.2v1.3h-1.2z" fill="#c54e34"/>
<path d="M9 7h1.2v1.3h-1.2z" fill="#b32529"/>
<path d="M10 7h1.2v1.3h-1.2z" fill="#91102d"/>
<path d="M11 7h1.2v1.3h-1.2z" fill="#b02329"/>
<path d="M12 7h1.2v1.3h-1.2z" fill="#c44c32"/>
<path d="M13 7h1.2v1.3h-1.2z" fill="#d68c71"/>
<path d="M14 7h1.2v1.3h-1.2z" fill="#e4bdad"/>
<path d="M15 7h1.2v1.3h-1.2z" fill="#ecd8d0"/>
<path d="M16 7h1.2v1.3h-1.2z" fill="#f1eceb"/>
<path d="M17 7h1.2v1.3h-1.2z" fill="#eeebeb"/>
<path d="M18 7h1.2v1.3h-1.2z" fill="#f0e5e2"/>
<path d="M19 7h1.2v1.3h-1.2z" fill="#efe3de"/>
<path d="M20 7h1.2v1.3h-1.2z" fill="#efe4e0"/>
<path d="M21 7h1.2v1.3h-1.2z" fill="#f0e7e4"/>
<path d="M0 8h1.2v1.3h-1.2z" fill="#c85e40"/>
<path d="M1 8h1.2v1.3h-1.2z" fill="#c55035"/>
<path d="M2 8h1.2v1.3h-1.2z" fill="#c2442e"/>
<path d="M3 8h1.2v1.3h-1.2z" fill="#c2422d"/>
<path d="M4 8h1.2v1.3h-1.2z" fill="#c44930"/>
<path d="M5 8h1.2v1.3h-1.2z" fill="#c6563a"/>
<path d="M6 8h1.2v1.3h-1.2z" fill="#c96143"/>
<path d="M7 8h1.2v1.3h-1.2z" fill="#c96244"/>
<path d="M8 8h1.2v1.3h-1.2z" fill="#c34830"/>
<path d="M9 8h1.2v1.3h-1.2z" fill="#ad212a"/>
<path d="M10 8h1.2v1.3h-1.2z" fill="#91102d"/>
<path d="M11 8h1.2v1.3h-1.2z" fill="#af2329"/>
<path d="M12 8h1.2v1.3h-1.2z" fill="#c54e34"/>
<path d="M13 8h1.2v1.3h-1.2z" fill="#d68c72"/>
<path d="M14 8h1.2v1.3h-1.2z" fill="#e5bfaf"/>
<path d="M15 8h1.2v1.3h-1.2z" fill="#eddbd3"/>
<path d="M16 8h1.2v1.3h-1.2z" fill="#f1eceb"/>
<path d="M17 8h1.2v1.3h-1.2z" fill="#f0ebeb"/>
<path d="M18 8h1.2v1.3h-1.2z" fill="#f0e8e5"/>
<path d="M19 8h1.2v1.3h-1.2z" fill="#f1ebea"/>
<path d="M20 8h1.2v1.3h-1.2z" fill="#edeaeb"/>
<path d="M21 8h1.2v1.3h-1.2z" fill="#e9e9ea"/>
<path d="M0 9h1.2v1.3h-1.2z" fill="#c44b32"/>
<path d="M1 9h1.2v1.3h-1.2z" fill="#be382b"/>
<path d="M2 9h2.2v1.3h-2.2z" fill="#ba2e29"/>
<path d="M4 9h1.2v1.3h-1.2z" fill="#bf3b2c"/>
<path d="M5 9h1.2v1.3h-1.2z" fill="#c54f35"/>
<path d="M6 9h1.2v1.3h-1.2z" fill="#c96143"/>
<path d="M7 9h1.2v1.3h-1.2z" fill="#c96345"/>
<path d="M8 9h1.2v1.3h-1.2z" fill="#c54e34"/>
<path d="M9 9h1.2v1.3h-1.2z" fill="#b32629"/>
<path d="M10 9h1.2v1.3h-1.2z" fill="#a51b2b"/>
<path d="M11 9h1.2v1.3h-1.2z" fill="#ba2e29"/>
<path d="M12 9h1.2v1.3h-1.2z" fill="#c75c3f"/>
<path d="M13 9h1.2v1.3h-1.2z" fill="#d89279"/>
<path d="M14 9h1.2v1.3h-1.2z" fill="#e7c6b8"/>
<path d="M15 9h1.2v1.3h-1.2z" fill="#efe3de"/>
<path d="M16 9h1.2v1.3h-1.2z" fill="#e8e8ea"/>
<path d="M17 9h1.2v1.3h-1.2z" fill="#dfe4e9"/>
<path d="M18 9h1.2v1.3h-1.2z" fill="#e2e6ea"/>
<path d="M19 9h1.2v1.3h-1.2z" fill="#dbe2e8"/>
<path d="M20 9h1.2v1.3h-1.2z" fill="#d3dfe7"/>
<path d="M21 9h1.2v1.3h-1.2z" fill="#cddbe5"/>
<path d="M0 10h1.2v1.3h-1.2z" fill="#b42629"/>
<path d="M1 10h1.2v1.3h-1.2z" fill="#a3192b"/>
<path d="M2 10h1.2v1.3h-1.2z" fill="#a2182c"/>
<path d="M3 10h1.2v1.3h-1.2z" fill="#a1182c"/>
<path d="M4 10h1.2v1.3h-1.2z" fill="#ba2b28"/>
<path d="M5 10h1.2v1.3h-1.2z" fill="#c34830"/>
<path d="M6 10h1.2v1.3h-1.2z" fill="#c96143"/>
<path d="M7 10h1.2v1.3h-1.2z" fill="#ca6749"/>
<path d="M8 10h1.2v1.3h-1.2z" fill="#c75b3e"/>
<path d="M9 10h1.2v1.3h-1.2z" fill="#bf3b2c"/>
<path d="M10 10h1.2v1.3h-1.2z" fill="#bb3129"/>
<path d="M11 10h1.2v1.3h-1.2z" fill="#c55036"/>
<path d="M12 10h1.2v1.3h-1.2z" fill="#cb6a4c"/>
<path d="M13 10h1.2v1.3h-1.2z" fill="#db9b85"/>
<path d="M14 10h1.2v1.3h-1.2z" fill="#ecd6cd"/>
<path d="M15 10h1.2v1.3h-1.2z" fill="#f1eceb"/>
<path d="M16 10h1.2v1.3h-1.2z" fill="#cfdde6"/>
<path d="M17 10h1.2v1.3h-1.2z" fill="#b1cbd9"/>
<path d="M18 10h1.2v1.3h-1.2z" fill="#adc8d8"/>
<path d="M19 10h1.2v1.3h-1.2z" fill="#abc6d7"/>
<path d="M20 10h1.2v1.3h-1.2z" fill="#a8c5d5"/>
<path d="M21 10h1.2v1.3h-1.2z" fill="#a6c3d4"/>
<path d="M0 11h1.2v1.3h-1.2z" fill="#96112d"/>
<path d="M1 11h1.2v1.3h-1.2z" fill="#88102e"/>
<path d="M2 11h1.2v1.3h-1.2z" fill="#8b102d"/>
<path d="M3 11h1.2v1.3h-1.2z" fill="#93112d"/>
<path d="M4 11h1.2v1.3h-1.2z" fill="#af2329"/>
<path d="M5 11h1.2v1.3h-1.2z" fill="#c2442d"/>
<path d="M6 11h1.2v1.3h-1.2z" fill="#c96345"/>
<path d="M7 11h1.2v1.3h-1.2z" fill="#cd6f51"/>
<path d="M8 11h1.2v1.3h-1.2z" fill="#cb6a4c"/>
<path d="M9 11h1.2v1.3h-1.2z" fill="#c7583c"/>
<path d="M10 11h1.2v1.3h-1.2z" fill="#c65438"/>
<path d="M11 11h1.2v1.3h-1.2z" fill="#c85f41"/>
<path d="M12 11h1.2v1.3h-1.2z" fill="#d38569"/>
<path d="M13 11h1.2v1.3h-1.2z" fill="#e4bcab"/>
<path d="M14 11h1.2v1.3h-1.2z" fill="#ebe9eb"/>
<path d="M15 11h1.2v1.3h-1.2z" fill="#cddbe5"/>
<path d="M16 11h1.2v1.3h-1.2z" fill="#9abcd0"/>
<path d="M17 11h1.2v1.3h-1.2z" fill="#80b0c9"/>
<path d="M18 11h1.2v1.3h-1.2z" fill="#7dafc8"/>
<path d="M19 11h1.2v1.3h-1.2z" fill="#7fafc8"/>
<path d="M20 11h1.2v1.3h-1.2z" fill="#80b0c9"/>
<path d="M21 11h1.2v1.3h-1.2z" fill="#81b0c9"/>
<path d="M0 12h1.2v1.3h-1.2z" fill="#660d24"/>
<path d="M1 12h1.2v1.3h-1.2z" fill="#620d23"/>
<path d="M2 12h1.2v1.3h-1.2z" fill="#6e0e28"/>
<path d="M3 12h1.2v1.3h-1.2z" fill="#86102e"/>
<path d="M4 12h1.2v1.3h-1.2z" fill="#a91e2a"/>
<path d="M5 12h1.2v1.3h-1.2z" fill="#c1412d"/>
<path d="M6 12h1.2v1.3h-1.2z" fill="#cb694b"/>
<path d="M7 12h1.2v1.3h-1.2z" fill="#d17e62"/>
<path d="M8 12h1.2v1.3h-1.2z" fill="#d28165"/>
<path d="M9 12h1.2v1.3h-1.2z" fill="#d07a5d"/>
<path d="M10 12h1.2v1.3h-1.2z" fill="#ce7254"/>
<path d="M11 12h1.2v1.3h-1.2z" fill="#d28063"/>
<path d="M12 12h1.2v1.3h-1.2z" fill="#dfa894"/>
<path d="M13 12h1.2v1.3h-1.2z" fill="#ecd8cf"/>
<path d="M14 12h1.2v1.3h-1.2z" fill="#c7d7e2"/>
<path d="M15 12h1.2v1.3h-1.2z" fill="#90b7cd"/>
<path d="M16 12h1.2v1.3h-1.2z" fill="#6ea7c5"/>
<path d="M17 12h1.2v1.3h-1.2z" fill="#5c9fc2"/>
<path d="M18 12h1.2v1.3h-1.2z" fill="#5a9ec2"/>
<path d="M19 12h1.2v1.3h-1.2z" fill="#5d9fc2"/>
<path d="M20 12h1.2v1.3h-1.2z" fill="#60a0c3"/>
<path d="M21 12h1.2v1.3h-1.2z" fill="#61a1c3"/>
<path d="M0 13h2.2v1.3h-2.2z" fill="#3c0912"/>
<path d="M2 13h1.2v1.3h-1.2z" fill="#4e0b1a"/>
<path d="M3 13h1.2v1.3h-1.2z" fill="#720e29"/>
<path d="M4 13h1.2v1.3h-1.2z" fill="#9f162c"/>
<path d="M5 13h1.2v1.3h-1.2z" fill="#c03d2c"/>
<path d="M6 13h1.2v1.3h-1.2z" fill="#ce7355"/>
<path d="M7 13h1.2v1.3h-1.2z" fill="#d9967e"/>
<path d="M8 13h1.2v1.3h-1.2z" fill="#da9b84"/>
<path d="M9 13h1.2v1.3h-1.2z" fill="#da9a83"/>
<path d="M10 13h1.2v1.3h-1.2z" fill="#d9977f"/>
<path d="M11 13h1.2v1.3h-1.2z" fill="#dea793"/>
<path d="M12 13h1.2v1.3h-1.2z" fill="#e8c8bb"/>
<path d="M13 13h1.2v1.3h-1.2z" fill="#eae9eb"/>
<path d="M14 13h1.2v1.3h-1.2z" fill="#95b9ce"/>
<path d="M15 13h1.2v1.3h-1.2z" fill="#5d9fc2"/>
<path d="M16 13h1.2v1.3h-1.2z" fill="#4191bf"/>
<path d="M17 13h1.2v1.3h-1.2z" fill="#3a8cbf"/>
<path d="M18 13h1.2v1.3h-1.2z" fill="#3e8fbf"/>
<path d="M19 13h1.2v1.3h-1.2z" fill="#3f8fbf"/>
<path d="M20 13h1.2v1.3h-1.2z" fill="#4291bf"/>
<path d="M21 13h1.2v1.3h-1.2z" fill="#4592c0"/>
<path d="M0 14h3.2v1.3h-3.2z" fill="#3c0912"/>
<path d="M3 14h1.2v1.3h-1.2z" fill="#570c1d"/>
<path d="M4 14h1.2v1.3h-1.2z" fill="#8f102d"/>
<path d="M5 14h1.2v1.3h-1.2z" fill="#be382b"/>
<path d="M6 14h1.2v1.3h-1.2z" fill="#d27f62"/>
<path d="M7 14h1.2v1.3h-1.2z" fill="#e0ad9b"/>
<path d="M8 14h1.2v1.3h-1.2z" fill="#e1b2a0"/>
<path d="M9 14h1.2v1.3h-1.2z" fill="#e1b09e"/>
<path d="M10 14h1.2v1.3h-1.2z" fill="#dda490"/>
<path d="M11 14h1.2v1.3h-1.2z" fill="#e3baa9"/>
<path d="M12 14h1.2v1.3h-1.2z" fill="#eddbd3"/>
<path d="M13 14h1.2v1.3h-1.2z" fill="#c5d7e2"/>
<path d="M14 14h1.2v1.3h-1.2z" fill="#67a4c4"/>
<path d="M15 14h1.2v1.3h-1.2z" fill="#358abe"/>
<path d="M16 14h1.2v1.3h-1.2z" fill="#217bbd"/>
<path d="M17 14h1.2v1.3h-1.2z" fill="#207abd"/>
<path d="M18 14h1.2v1.3h-1.2z" fill="#2782bd"/>
<path d="M19 14h1.2v1.3h-1.2z" fill="#237ebd"/>
<path d="M20 14h1.2v1.3h-1.2z" fill="#2681bd"/>
<path d="M21 14h1.2v1.3h-1.2z" fill="#2883bd"/>
<path d="M0 15h4.2v1.3h-4.2z" fill="#3c0912"/>
<path d="M4 15h1.2v1.3h-1.2z" fill="#7d0f2e"/>
<path d="M5 15h1.2v1.3h-1.2z" fill="#bb3129"/>
<path d="M6 15h1.2v1.3h-1.2z" fill="#d38469"/>
<path d="M7 15h1.2v1.3h-1.2z" fill="#e4bbaa"/>
<path d="M8 15h2.2v1.3h-2.2z" fill="#e8cabd"/>
<path d="M10 15h1.2v1.3h-1.2z" fill="#e7c8ba"/>
<path d="M11 15h1.2v1.3h-1.2z" fill="#edd9d1"/>
<path d="M12 15h1.2v1.3h-1.2z" fill="#dde3e9"/>
<path d="M13 15h1.2v1.3h-1.2z" fill="#89b4cb"/>
<path d="M14 15h1.2v1.3h-1.2z" fill="#3a8dbf"/>
<path d="M15 15h1.2v1.3h-1.2z" fill="#1873be"/>
<path d="M16 15h1.2v1.3h-1.2z" fill="#1566bd"/>
<path d="M17 15h1.2v1.3h-1.2z" fill="#1763bc"/>
<path d="M18 15h1.2v1.3h-1.2z" fill="#1665bd"/>
<path d="M19 15h1.2v1.3h-1.2z" fill="#1566bd"/>
<path d="M20 15h1.2v1.3h-1.2z" fill="#1469bd"/>
<path d="M21 15h1.2v1.3h-1.2z" fill="#126cbe"/>
<path d="M0 16h4.2v1.3h-4.2z" fill="#3c0912"/>
<path d="M4 16h1.2v1.3h-1.2z" fill="#6a0e26"/>
<path d="M5 16h1.2v1.3h-1.2z" fill="#b82a28"/>
<path d="M6 16h1.2v1.3h-1.2z" fill="#d58b70"/>
<path d="M7 16h1.2v1.3h-1.2z" fill="#e7c7ba"/>
<path d="M8 16h1.2v1.3h-1.2z" fill="#eddbd3"/>
<path d="M9 16h1.2v1.3h-1.2z" fill="#efe3de"/>
<path d="M10 16h1.2v1.3h-1.2z" fill="#efe1dc"/>
<path d="M11 16h1.2v1.3h-1.2z" fill="#d3dfe7"/>
<path d="M12 16h1.2v1.3h-1.2z" fill="#81b0c9"/>
<path d="M13 16h1.2v1.3h-1.2z" fill="#4391bf"/>
<path d="M14 16h1.2v1.3h-1.2z" fill="#136dbe"/>
<path d="M15 16h1.2v1.3h-1.2z" fill="#1d58ba"/>
<path d="M16 16h1.2v1.3h-1.2z" fill="#234cb4"/>
<path d="M17 16h2.2v1.3h-2.2z" fill="#2548ae"/>
<path d="M19 16h1.2v1.3h-1.2z" fill="#244ab1"/>
<path d="M20 16h1.2v1.3h-1.2z" fill="#2052b9"/>
<path d="M21 16h1.2v1.3h-1.2z" fill="#1e56ba"/>
<path d="M0 17h4.2v1.3h-4.2z" fill="#3c0912"/>
<path d="M4 17h1.2v1.3h-1.2z" fill="#600d21"/>
<path d="M5 17h1.2v1.3h-1.2z" fill="#b72828"/>
<path d="M6 17h1.2v1.3h-1.2z" fill="#d68e74"/>
<path d="M7 17h1.2v1.3h-1.2z" fill="#eacfc3"/>
<path d="M8 17h1.2v1.3h-1.2z" fill="#f0e6e2"/>
<path d="M9 17h1.2v1.3h-1.2z" fill="#efebeb"/>
<path d="M10 17h1.2v1.3h-1.2z" fill="#eeebeb"/>
<path d="M11 17h1.2v1.3h-1.2z" fill="#a0c0d2"/>
<path d="M12 17h1.2v1.3h-1.2z" fill="#529ac1"/>
<path d="M13 17h1.2v1.3h-1.2z" fill="#1c76be"/>
<path d="M14 17h1.2v1.3h-1.2z" fill="#2052b9"/>
<path d="M15 17h1.2v1.3h-1.2z" fill="#293a97"/>
<path d="M16 17h1.2v1.3h-1.2z" fill="#28358a"/>
<path d="M17 17h1.2v1.3h-1.2z" fill="#273384"/>
<path d="M18 17h1.2v1.3h-1.2z" fill="#273385"/>
<path d="M19 17h1.2v1.3h-1.2z" fill="#28368b"/>
<path d="M20 17h1.2v1.3h-1.2z" fill="#293a95"/>
<path d="M21 17h1.2v1.3h-1.2z" fill="#2a3d9e"/>
<path d="M0 18h4.2v1.3h-4.2z" fill="#3c0912"/>
<path d="M4 18h1.2v1.3h-1.2z" fill="#590c1e"/>
<path d="M5 18h1.2v1.3h-1.2z" fill="#b52729"/>
<path d="M6 18h1.2v1.3h-1.2z" fill="#d89279"/>
<path d="M7 18h1.2v1.3h-1.2z" fill="#ecd8d0"/>
<path d="M8 18h1.2v1.3h-1.2z" fill="#ebeaeb"/>
<path d="M9 18h1.2v1.3h-1.2z" fill="#dfe4e9"/>
<path d="M10 18h1.2v1.3h-1.2z" fill="#c6d7e2"/>
<path d="M11 18h1.2v1.3h-1.2z" fill="#82b0c9"/>
<path d="M12 18h1.2v1.3h-1.2z" fill="#3b8dbf"/>
<path d="M13 18h1.2v1.3h-1.2z" fill="#1861bc"/>
<path d="M14 18h1.2v1.3h-1.2z" fill="#293a97"/>
<path d="M15 18h1.2v1.3h-1.2z" fill="#27307d"/>
<path d="M16 18h1.2v1.3h-1.2z" fill="#212764"/>
<path d="M17 18h1.2v1.3h-1.2z" fill="#1c2153"/>
<path d="M18 18h1.2v1.3h-1.2z" fill="#1f245c"/>
<path d="M19 18h1.2v1.3h-1.2z" fill="#23296b"/>
<path d="M20 18h1.2v1.3h-1.2z" fill="#262e7a"/>
<path d="M21 18h1.2v1.3h-1.2z" fill="#273384"/>
<path d="M0 19h4.2v1.3h-4.2z" fill="#3c0912"/>
<path d="M4 19h1.2v1.3h-1.2z" fill="#500b1b"/>
<path d="M5 19h1.2v1.3h-1.2z" fill="#b32529"/>
<path d="M6 19h1.2v1.3h-1.2z" fill="#d9977f"/>
<path d="M7 19h1.2v1.3h-1.2z" fill="#efe2dd"/>
<path d="M8 19h1.2v1.3h-1.2z" fill="#dde3e9"/>
<path d="M9 19h1.2v1.3h-1.2z" fill="#cad9e3"/>
<path d="M10 19h1.2v1.3h-1.2z" fill="#abc6d7"/>
<path d="M11 19h1.2v1.3h-1.2z" fill="#71a9c6"/>
<path d="M12 19h1.2v1.3h-1.2z" fill="#2c85bd"/>
<path d="M13 19h1.2v1.3h-1.2z" fill="#1e55ba"/>
<path d="M14 19h1.2v1.3h-1.2z" fill="#28358b"/>
<path d="M15 19h1.2v1.3h-1.2z" fill="#23296b"/>
<path d="M16 19h1.2v1.3h-1.2z" fill="#1a1e49"/>
<path d="M17 19h2.2v1.3h-2.2z" fill="#181c43"/>
<path d="M19 19h1.2v1.3h-1.2z" fill="#1b204f"/>
<path d="M20 19h1.2v1.3h-1.2z" fill="#1f245c"/>
<path d="M21 19h1.2v1.3h-1.2z" fill="#242a6d"/>
<path d="M0 20h4.2v1.3h-4.2z" fill="#3c0912"/>
<path d="M4 20h1.2v1.3h-1.2z" fill="#510b1b"/>
<path d="M5 20h1.2v1.3h-1.2z" fill="#b32529"/>
<path d="M6 20h1.2v1.3h-1.2z" fill="#db9c85"/>
<path d="M7 20h1.2v1.3h-1.2z" fill="#f1ebe9"/>
<path d="M8 20h1.2v1.3h-1.2z" fill="#d8e1e8"/>
<path d="M9 20h1.2v1.3h-1.2z" fill="#bdd2de"/>
<path d="M10 20h1.2v1.3h-1.2z" fill="#9ebfd1"/>
<path d="M11 20h1.2v1.3h-1.2z" fill="#62a2c3"/>
<path d="M12 20h1.2v1.3h-1.2z" fill="#1f79bd"/>
<path d="M13 20h1.2v1.3h-1.2z" fill="#2548ad"/>
<path d="M14 20h1.2v1.3h-1.2z" fill="#283487"/>
<path d="M15 20h1.2v1.3h-1.2z" fill="#222969"/>
<path d="M16 20h1.2v1.3h-1.2z" fill="#1a1f4b"/>
<path d="M17 20h2.2v1.3h-2.2z" fill="#181c43"/>
<path d="M19 20h1.2v1.3h-1.2z" fill="#181c44"/>
<path d="M20 20h1.2v1.3h-1.2z" fill="#1b2050"/>
<path d="M21 20h1.2v1.3h-1.2z" fill="#20255f"/>
</g></g>
<g clip-path="url(#c21)" fill="none" stroke="#808080" stroke-width="1.1" stroke-linejoin="round">
<path d="M265.2 352.2L266.7 347.3L268.6 342.5L269.7 340.8L271.4 339.4M290.0 333.9L293.7 333.9L299.7 334.3L311.6 337.1" stroke-dasharray="3,1.6"/>
<path d="M256.3 352.2L257.9 347.3L259.1 342.5L259.8 341.1M273.5 326.3L275.7 324.3L281.7 321.1L287.7 320.5L293.7 322.2L299.7 321.4L311.6 322.6" stroke-dasharray="3,1.6"/>
<path d="M246.7 352.2L248.0 347.3L250.0 342.5L252.6 337.6L256.3 332.7L262.9 327.9L266.8 323.0L269.7 318.0L275.1 313.2L281.7 308.8L287.7 306.2L289.2 306.1" stroke-dasharray="3,1.6"/>
<path d="M228.2 352.2L230.1 347.3L233.8 340.4L239.8 337.0L245.8 336.6L247.7 332.7L255.0 327.9L257.8 325.5L259.9 323.0L263.8 317.1L269.7 307.4L275.8 303.5L279.1 298.6L281.7 294.0L283.1 293.8L282.1 288.9L281.7 288.8L278.3 284.0L278.1 282.6M272.4 267.3L270.9 264.5L269.7 260.1L269.3 254.8M301.4 254.8L301.8 259.7L300.6 264.5L302.1 269.4M294.3 282.1L293.7 282.5L289.4 288.9L288.9 293.8L293.7 295.0L301.0 293.8L305.7 292.3L311.6 290.9"/>
<path d="M222.7 352.2L224.2 339.0M227.5 322.4L227.8 321.8L233.8 320.8L239.8 321.1L244.7 323.0L245.8 323.3L246.4 323.0L251.6 318.1L257.8 313.0L261.8 308.4L265.0 303.5L266.5 298.6L267.3 293.8L267.4 288.9L266.9 284.0L265.9 279.2L264.5 274.3L262.7 264.5L261.9 254.8M232.9 254.8L232.9 259.7L232.2 263.8M224.9 274.0L221.9 272.6L220.3 269.4L218.3 264.5L217.0 259.7L217.5 254.8"/>
<path d="M218.5 352.2L219.0 332.7L219.0 323.0L219.5 318.1L221.0 308.4L221.4 303.5L221.2 298.6L220.6 293.8L218.8 288.9L215.9 282.4L206.8 279.2L203.9 278.9L200.7 279.2L197.9 279.8L192.9 284.0M242.1 254.8L241.8 264.5L240.6 274.3L239.8 276.7L238.3 279.2L233.8 284.6L229.5 288.9L228.6 293.8L229.2 298.6L232.0 303.5L233.8 304.7L235.5 306.3M251.6 308.4L257.8 299.5L259.1 293.8L259.3 288.9L258.5 284.0L257.8 281.9L252.1 274.3L251.8 273.3L251.2 269.4L250.8 264.5L251.4 259.7L251.2 254.8"/>
<path d="M214.1 352.2L214.1 347.3L213.6 338.4M210.5 322.1L209.9 320.3L204.9 308.4L203.9 306.6L197.9 305.6L191.9 305.5L185.9 308.1M244.4 293.8L245.8 295.4L247.1 293.8L247.1 288.9L245.8 287.3L244.6 288.9L244.4 293.8"/>
</g>
<g clip-path="url(#c21)" font-size="7.2" fill="#000" text-anchor="middle">
<text transform="translate(187.1,290.5) rotate(-50)" y="2.5" textLength="15.1" lengthAdjust="spacingAndGlyphs">0.50</text>
<text transform="translate(230.6,272.1) rotate(-55)" y="2.5" textLength="15.1" lengthAdjust="spacingAndGlyphs">0.25</text>
<text transform="translate(243.2,310.2) rotate(10)" y="2.5" textLength="15.1" lengthAdjust="spacingAndGlyphs">0.50</text>
<text transform="translate(213.2,330.3) rotate(80)" y="2.5" textLength="15.1" lengthAdjust="spacingAndGlyphs">0.75</text>
<text transform="translate(223.9,330.3) rotate(-85)" y="2.5" textLength="15.1" lengthAdjust="spacingAndGlyphs">0.25</text>
<text transform="translate(276.9,274.0) rotate(60)" y="2.5" textLength="15.1" lengthAdjust="spacingAndGlyphs">0.00</text>
<text transform="translate(300.3,276.7) rotate(-50)" y="2.5" textLength="15.1" lengthAdjust="spacingAndGlyphs">0.00</text>
<text transform="translate(298.9,305.1) rotate(0)" y="2.5" textLength="17.6" lengthAdjust="spacingAndGlyphs">-0.25</text>
<text transform="translate(266.8,333.7) rotate(-55)" y="2.5" textLength="17.6" lengthAdjust="spacingAndGlyphs">-0.50</text>
<text transform="translate(280.2,335.1) rotate(-15)" y="2.5" textLength="17.6" lengthAdjust="spacingAndGlyphs">-0.75</text>
</g>
<rect x="182.95" y="254.8" width="128.7" height="97.4" fill="none" stroke="#000" stroke-width="0.8"/>
<path d="M311.65,352.20v3.5 M305.66,352.20v2.0 M299.68,352.20v2.0 M293.69,352.20v2.0 M287.71,352.20v3.5 M281.72,352.20v2.0 M275.73,352.20v2.0 M269.75,352.20v2.0 M263.76,352.20v3.5 M257.78,352.20v2.0 M251.79,352.20v2.0 M245.80,352.20v2.0 M239.82,352.20v3.5 M233.83,352.20v2.0 M227.85,352.20v2.0 M221.86,352.20v2.0 M215.87,352.20v3.5 M209.89,352.20v2.0 M203.90,352.20v2.0 M197.92,352.20v2.0 M191.93,352.20v3.5 M185.94,352.20v2.0 M182.95,352.20h-3.5 M182.95,350.25h-2.0 M182.95,348.30h-2.0 M182.95,346.36h-2.0 M182.95,344.41h-2.0 M182.95,342.46h-3.5 M182.95,340.51h-2.0 M182.95,338.56h-2.0 M182.95,336.62h-2.0 M182.95,334.67h-2.0 M182.95,332.72h-3.5 M182.95,330.77h-2.0 M182.95,328.82h-2.0 M182.95,326.88h-2.0 M182.95,324.93h-2.0 M182.95,322.98h-3.5 M182.95,321.03h-2.0 M182.95,319.08h-2.0 M182.95,317.14h-2.0 M182.95,315.19h-2.0 M182.95,313.24h-3.5 M182.95,311.29h-2.0 M182.95,309.34h-2.0 M182.95,307.40h-2.0 M182.95,305.45h-2.0 M182.95,303.50h-3.5 M182.95,301.55h-2.0 M182.95,299.60h-2.0 M182.95,297.66h-2.0 M182.95,295.71h-2.0 M182.95,293.76h-3.5 M182.95,291.81h-2.0 M182.95,289.86h-2.0 M182.95,287.92h-2.0 M182.95,285.97h-2.0 M182.95,284.02h-3.5 M182.95,282.07h-2.0 M182.95,280.12h-2.0 M182.95,278.18h-2.0 M182.95,276.23h-2.0 M182.95,274.28h-3.5 M182.95,272.33h-2.0 M182.95,270.38h-2.0 M182.95,268.44h-2.0 M182.95,266.49h-2.0 M182.95,264.54h-3.5 M182.95,262.59h-2.0 M182.95,260.64h-2.0 M182.95,258.70h-2.0 M182.95,256.75h-2.0 M182.95,254.80h-3.5" stroke="#000" stroke-width="0.8" fill="none"/>
<text x="188.15" y="263.70" font-size="9.6" text-anchor="start" fill="#fff" font-weight="bold" textLength="14.64" lengthAdjust="spacingAndGlyphs">(h)</text>
<!-- panel i -->
<g clip-path="url(#c22)"><g transform="translate(317.80,252.365) scale(5.9860,4.8700)">
<path d="M0 0h5.2v1.3h-5.2z" fill="#3c0912"/>
<path d="M5 0h1.2v1.3h-1.2z" fill="#c85f41"/>
<path d="M6 0h1.2v1.3h-1.2z" fill="#e3b8a7"/>
<path d="M7 0h1.2v1.3h-1.2z" fill="#ebd4ca"/>
<path d="M8 0h1.2v1.3h-1.2z" fill="#eacfc4"/>
<path d="M9 0h1.2v1.3h-1.2z" fill="#d68d72"/>
<path d="M10 0h5.2v1.3h-5.2z" fill="#3c0912"/>
<path d="M15 0h1.2v1.3h-1.2z" fill="#5f0d21"/>
<path d="M16 0h1.2v1.3h-1.2z" fill="#730e2a"/>
<path d="M17 0h1.2v1.3h-1.2z" fill="#bd342a"/>
<path d="M18 0h1.2v1.3h-1.2z" fill="#c1412d"/>
<path d="M19 0h1.2v1.3h-1.2z" fill="#c44c33"/>
<path d="M20 0h1.2v1.3h-1.2z" fill="#c6573b"/>
<path d="M21 0h1.2v1.3h-1.2z" fill="#c85f41"/>
<path d="M0 1h5.2v1.3h-5.2z" fill="#3c0912"/>
<path d="M5 1h1.2v1.3h-1.2z" fill="#cd7052"/>
<path d="M6 1h1.2v1.3h-1.2z" fill="#e3b8a7"/>
<path d="M7 1h1.2v1.3h-1.2z" fill="#ebd4ca"/>
<path d="M8 1h1.2v1.3h-1.2z" fill="#eacfc4"/>
<path d="M9 1h1.2v1.3h-1.2z" fill="#d68d72"/>
<path d="M10 1h5.2v1.3h-5.2z" fill="#3c0912"/>
<path d="M15 1h1.2v1.3h-1.2z" fill="#5f0d21"/>
<path d="M16 1h1.2v1.3h-1.2z" fill="#730e2a"/>
<path d="M17 1h1.2v1.3h-1.2z" fill="#ba2d29"/>
<path d="M18 1h1.2v1.3h-1.2z" fill="#bf3b2c"/>
<path d="M19 1h1.2v1.3h-1.2z" fill="#c1412d"/>
<path d="M20 1h1.2v1.3h-1.2z" fill="#c44c33"/>
<path d="M21 1h1.2v1.3h-1.2z" fill="#c65438"/>
<path d="M0 2h4.2v1.3h-4.2z" fill="#3c0912"/>
<path d="M4 2h1.2v1.3h-1.2z" fill="#86102e"/>
<path d="M5 2h1.2v1.3h-1.2z" fill="#d68d72"/>
<path d="M6 2h1.2v1.3h-1.2z" fill="#f1eceb"/>
<path d="M7 2h1.2v1.3h-1.2z" fill="#bfd3df"/>
<path d="M8 2h1.2v1.3h-1.2z" fill="#eacfc4"/>
<path d="M9 2h1.2v1.3h-1.2z" fill="#d68d72"/>
<path d="M10 2h5.2v1.3h-5.2z" fill="#3c0912"/>
<path d="M15 2h1.2v1.3h-1.2z" fill="#5f0d21"/>
<path d="M16 2h1.2v1.3h-1.2z" fill="#86102e"/>
<path d="M17 2h1.2v1.3h-1.2z" fill="#b92a28"/>
<path d="M18 2h1.2v1.3h-1.2z" fill="#bd342a"/>
<path d="M19 2h1.2v1.3h-1.2z" fill="#bf3b2c"/>
<path d="M20 2h1.2v1.3h-1.2z" fill="#c1412d"/>
<path d="M21 2h1.2v1.3h-1.2z" fill="#c34830"/>
<path d="M0 3h4.2v1.3h-4.2z" fill="#3c0912"/>
<path d="M4 3h1.2v1.3h-1.2z" fill="#5f0d21"/>
<path d="M5 3h1.2v1.3h-1.2z" fill="#da9982"/>
<path d="M6 3h1.2v1.3h-1.2z" fill="#81b0c9"/>
<path d="M7 3h1.2v1.3h-1.2z" fill="#2b84bd"/>
<path d="M8 3h1.2v1.3h-1.2z" fill="#eee0da"/>
<path d="M9 3h1.2v1.3h-1.2z" fill="#d68d72"/>
<path d="M10 3h4.2v1.3h-4.2z" fill="#3c0912"/>
<path d="M14 3h1.2v1.3h-1.2z" fill="#5f0d21"/>
<path d="M15 3h1.2v1.3h-1.2z" fill="#86102e"/>
<path d="M16 3h1.2v1.3h-1.2z" fill="#a2192c"/>
<path d="M17 3h1.2v1.3h-1.2z" fill="#bb3129"/>
<path d="M18 3h4.2v1.3h-4.2z" fill="#bf3b2c"/>
<path d="M0 4h4.2v1.3h-4.2z" fill="#3c0912"/>
<path d="M4 4h1.2v1.3h-1.2z" fill="#5f0d21"/>
<path d="M5 4h1.2v1.3h-1.2z" fill="#dea692"/>
<path d="M6 4h1.2v1.3h-1.2z" fill="#81b0c9"/>
<path d="M7 4h1.2v1.3h-1.2z" fill="#2b84bd"/>
<path d="M8 4h1.2v1.3h-1.2z" fill="#eee0da"/>
<path d="M9 4h1.2v1.3h-1.2z" fill="#d38468"/>
<path d="M10 4h4.2v1.3h-4.2z" fill="#3c0912"/>
<path d="M14 4h1.2v1.3h-1.2z" fill="#730e2a"/>
<path d="M15 4h1.2v1.3h-1.2z" fill="#a2192c"/>
<path d="M16 4h1.2v1.3h-1.2z" fill="#b92a28"/>
<path d="M17 4h1.2v1.3h-1.2z" fill="#c1412d"/>
<path d="M18 4h2.2v1.3h-2.2z" fill="#c3452e"/>
<path d="M20 4h1.2v1.3h-1.2z" fill="#c1412d"/>
<path d="M21 4h1.2v1.3h-1.2z" fill="#bf3b2c"/>
<path d="M0 5h4.2v1.3h-4.2z" fill="#3c0912"/>
<path d="M4 5h1.2v1.3h-1.2z" fill="#5f0d21"/>
<path d="M5 5h1.2v1.3h-1.2z" fill="#e3b8a7"/>
<path d="M6 5h1.2v1.3h-1.2z" fill="#d3dee7"/>
<path d="M7 5h1.2v1.3h-1.2z" fill="#abc6d7"/>
<path d="M8 5h1.2v1.3h-1.2z" fill="#eee0da"/>
<path d="M9 5h1.2v1.3h-1.2z" fill="#c85f41"/>
<path d="M10 5h1.2v1.3h-1.2z" fill="#730e2a"/>
<path d="M11 5h1.2v1.3h-1.2z" fill="#7f0f2e"/>
<path d="M12 5h1.2v1.3h-1.2z" fill="#86102e"/>
<path d="M13 5h1.2v1.3h-1.2z" fill="#8d102d"/>
<path d="M14 5h1.2v1.3h-1.2z" fill="#a91e2a"/>
<path d="M15 5h1.2v1.3h-1.2z" fill="#bf3b2c"/>
<path d="M16 5h1.2v1.3h-1.2z" fill="#c34830"/>
<path d="M17 5h1.2v1.3h-1.2z" fill="#c65438"/>
<path d="M18 5h2.2v1.3h-2.2z" fill="#c6573b"/>
<path d="M20 5h1.2v1.3h-1.2z" fill="#c44c33"/>
<path d="M21 5h1.2v1.3h-1.2z" fill="#c3452e"/>
<path d="M0 6h4.2v1.3h-4.2z" fill="#3c0912"/>
<path d="M4 6h1.2v1.3h-1.2z" fill="#98112d"/>
<path d="M5 6h1.2v1.3h-1.2z" fill="#e7c8ba"/>
<path d="M6 6h1.2v1.3h-1.2z" fill="#2b84bd"/>
<path d="M7 6h1.2v1.3h-1.2z" fill="#1a5dbb"/>
<path d="M8 6h1.2v1.3h-1.2z" fill="#f1eceb"/>
<path d="M9 6h1.2v1.3h-1.2z" fill="#c85f41"/>
<path d="M10 6h1.2v1.3h-1.2z" fill="#b92a28"/>
<path d="M11 6h2.2v1.3h-2.2z" fill="#bf3b2c"/>
<path d="M13 6h1.2v1.3h-1.2z" fill="#c44c33"/>
<path d="M14 6h1.2v1.3h-1.2z" fill="#c85f41"/>
<path d="M15 6h1.2v1.3h-1.2z" fill="#cd7052"/>
<path d="M16 6h1.2v1.3h-1.2z" fill="#d0795c"/>
<path d="M17 6h1.2v1.3h-1.2z" fill="#d27e62"/>
<path d="M18 6h1.2v1.3h-1.2z" fill="#d38468"/>
<path d="M19 6h1.2v1.3h-1.2z" fill="#d4876c"/>
<path d="M20 6h2.2v1.3h-2.2z" fill="#d68d72"/>
<path d="M0 7h1.2v1.3h-1.2z" fill="#730e2a"/>
<path d="M1 7h1.2v1.3h-1.2z" fill="#670e24"/>
<path d="M2 7h2.2v1.3h-2.2z" fill="#4e0b1a"/>
<path d="M4 7h1.2v1.3h-1.2z" fill="#a91e2a"/>
<path d="M5 7h1.2v1.3h-1.2z" fill="#e7c8ba"/>
<path d="M6 7h1.2v1.3h-1.2z" fill="#2b84bd"/>
<path d="M7 7h1.2v1.3h-1.2z" fill="#1a5dbb"/>
<path d="M8 7h1.2v1.3h-1.2z" fill="#f1eceb"/>
<path d="M9 7h1.2v1.3h-1.2z" fill="#d27e62"/>
<path d="M10 7h1.2v1.3h-1.2z" fill="#c85f41"/>
<path d="M11 7h2.2v1.3h-2.2z" fill="#cd7052"/>
<path d="M13 7h1.2v1.3h-1.2z" fill="#d27e62"/>
<path d="M14 7h1.2v1.3h-1.2z" fill="#da9982"/>
<path d="M15 7h1.2v1.3h-1.2z" fill="#e3b8a7"/>
<path d="M16 7h6.2v1.3h-6.2z" fill="#e7c8ba"/>
<path d="M0 8h3.2v1.3h-3.2z" fill="#98112d"/>
<path d="M3 8h1.2v1.3h-1.2z" fill="#a91e2a"/>
<path d="M4 8h1.2v1.3h-1.2z" fill="#bf3b2c"/>
<path d="M5 8h1.2v1.3h-1.2z" fill="#e7c8ba"/>
<path d="M6 8h1.2v1.3h-1.2z" fill="#2b84bd"/>
<path d="M7 8h1.2v1.3h-1.2z" fill="#559bc1"/>
<path d="M8 8h1.2v1.3h-1.2z" fill="#f1eceb"/>
<path d="M9 8h2.2v1.3h-2.2z" fill="#d27e62"/>
<path d="M11 8h2.2v1.3h-2.2z" fill="#da9982"/>
<path d="M13 8h1.2v1.3h-1.2z" fill="#dea692"/>
<path d="M14 8h1.2v1.3h-1.2z" fill="#e7c8ba"/>
<path d="M15 8h1.2v1.3h-1.2z" fill="#eeded7"/>
<path d="M16 8h2.2v1.3h-2.2z" fill="#eee0da"/>
<path d="M18 8h1.2v1.3h-1.2z" fill="#efe3de"/>
<path d="M19 8h1.2v1.3h-1.2z" fill="#f0e5e1"/>
<path d="M20 8h2.2v1.3h-2.2z" fill="#f0e7e4"/>
<path d="M0 9h4.2v1.3h-4.2z" fill="#c44c33"/>
<path d="M4 9h1.2v1.3h-1.2z" fill="#cd7052"/>
<path d="M5 9h1.2v1.3h-1.2z" fill="#e7c8ba"/>
<path d="M6 9h2.2v1.3h-2.2z" fill="#abc6d7"/>
<path d="M8 9h1.2v1.3h-1.2z" fill="#f1eceb"/>
<path d="M9 9h1.2v1.3h-1.2z" fill="#dea692"/>
<path d="M10 9h1.2v1.3h-1.2z" fill="#d27e62"/>
<path d="M11 9h1.2v1.3h-1.2z" fill="#eacfc4"/>
<path d="M12 9h1.2v1.3h-1.2z" fill="#ebd4ca"/>
<path d="M13 9h1.2v1.3h-1.2z" fill="#eee0da"/>
<path d="M14 9h1.2v1.3h-1.2z" fill="#f1eceb"/>
<path d="M15 9h1.2v1.3h-1.2z" fill="#dae2e8"/>
<path d="M16 9h6.2v1.3h-6.2z" fill="#d3dee7"/>
<path d="M0 10h4.2v1.3h-4.2z" fill="#c85f41"/>
<path d="M4 10h1.2v1.3h-1.2z" fill="#e3b8a7"/>
<path d="M5 10h1.2v1.3h-1.2z" fill="#f1eceb"/>
<path d="M6 10h1.2v1.3h-1.2z" fill="#81b0c9"/>
<path d="M7 10h1.2v1.3h-1.2z" fill="#559bc1"/>
<path d="M8 10h1.2v1.3h-1.2z" fill="#f1eceb"/>
<path d="M9 10h1.2v1.3h-1.2z" fill="#e3b8a7"/>
<path d="M10 10h1.2v1.3h-1.2z" fill="#da9982"/>
<path d="M11 10h1.2v1.3h-1.2z" fill="#f1eceb"/>
<path d="M12 10h1.2v1.3h-1.2z" fill="#d6e0e7"/>
<path d="M13 10h1.2v1.3h-1.2z" fill="#bbd0dd"/>
<path d="M14 10h8.2v1.3h-8.2z" fill="#a7c4d5"/>
<path d="M0 11h1.2v1.3h-1.2z" fill="#cd7052"/>
<path d="M1 11h1.2v1.3h-1.2z" fill="#ca6648"/>
<path d="M2 11h1.2v1.3h-1.2z" fill="#c85f41"/>
<path d="M3 11h1.2v1.3h-1.2z" fill="#ca6648"/>
<path d="M4 11h1.2v1.3h-1.2z" fill="#e7c8ba"/>
<path d="M5 11h1.2v1.3h-1.2z" fill="#e9e8ea"/>
<path d="M6 11h1.2v1.3h-1.2z" fill="#81b0c9"/>
<path d="M7 11h1.2v1.3h-1.2z" fill="#559bc1"/>
<path d="M8 11h1.2v1.3h-1.2z" fill="#f1eceb"/>
<path d="M9 11h1.2v1.3h-1.2z" fill="#dda38f"/>
<path d="M10 11h1.2v1.3h-1.2z" fill="#d9977f"/>
<path d="M11 11h1.2v1.3h-1.2z" fill="#ebd4ca"/>
<path d="M12 11h1.2v1.3h-1.2z" fill="#92b8cd"/>
<path d="M13 11h2.2v1.3h-2.2z" fill="#67a4c4"/>
<path d="M15 11h7.2v1.3h-7.2z" fill="#92b8cd"/>
<path d="M0 12h4.2v1.3h-4.2z" fill="#d27e62"/>
<path d="M4 12h1.2v1.3h-1.2z" fill="#eacfc4"/>
<path d="M5 12h1.2v1.3h-1.2z" fill="#e3e6ea"/>
<path d="M6 12h1.2v1.3h-1.2z" fill="#81b0c9"/>
<path d="M7 12h1.2v1.3h-1.2z" fill="#559bc1"/>
<path d="M8 12h1.2v1.3h-1.2z" fill="#f1eceb"/>
<path d="M9 12h1.2v1.3h-1.2z" fill="#dda38f"/>
<path d="M10 12h1.2v1.3h-1.2z" fill="#d9977f"/>
<path d="M11 12h1.2v1.3h-1.2z" fill="#ebd4ca"/>
<path d="M12 12h1.2v1.3h-1.2z" fill="#bbd0dd"/>
<path d="M13 12h2.2v1.3h-2.2z" fill="#a7c4d5"/>
<path d="M15 12h1.2v1.3h-1.2z" fill="#b3ccda"/>
<path d="M16 12h2.2v1.3h-2.2z" fill="#bbd0dd"/>
<path d="M18 12h4.2v1.3h-4.2z" fill="#b3ccda"/>
<path d="M0 13h1.2v1.3h-1.2z" fill="#dea692"/>
<path d="M1 13h1.2v1.3h-1.2z" fill="#e1b19e"/>
<path d="M2 13h2.2v1.3h-2.2z" fill="#e3b8a7"/>
<path d="M4 13h1.2v1.3h-1.2z" fill="#f0e7e4"/>
<path d="M5 13h1.2v1.3h-1.2z" fill="#abc6d7"/>
<path d="M6 13h1.2v1.3h-1.2z" fill="#81b0c9"/>
<path d="M7 13h1.2v1.3h-1.2z" fill="#5e9fc2"/>
<path d="M8 13h1.2v1.3h-1.2z" fill="#f1eceb"/>
<path d="M9 13h1.2v1.3h-1.2z" fill="#e2b4a3"/>
<path d="M10 13h1.2v1.3h-1.2z" fill="#dda38f"/>
<path d="M11 13h1.2v1.3h-1.2z" fill="#f1eceb"/>
<path d="M12 13h1.2v1.3h-1.2z" fill="#c4d6e1"/>
<path d="M13 13h9.2v1.3h-9.2z" fill="#7daec8"/>
<path d="M0 14h4.2v1.3h-4.2z" fill="#f0e5e1"/>
<path d="M4 14h1.2v1.3h-1.2z" fill="#f1eceb"/>
<path d="M5 14h1.2v1.3h-1.2z" fill="#abc6d7"/>
<path d="M6 14h1.2v1.3h-1.2z" fill="#81b0c9"/>
<path d="M7 14h1.2v1.3h-1.2z" fill="#96bace"/>
<path d="M8 14h1.2v1.3h-1.2z" fill="#bfd3df"/>
<path d="M9 14h1.2v1.3h-1.2z" fill="#e3e6ea"/>
<path d="M10 14h1.2v1.3h-1.2z" fill="#d3dee7"/>
<path d="M11 14h2.2v1.3h-2.2z" fill="#81b0c9"/>
<path d="M13 14h2.2v1.3h-2.2z" fill="#4090bf"/>
<path d="M15 14h7.2v1.3h-7.2z" fill="#559bc1"/>
<path d="M0 15h1.2v1.3h-1.2z" fill="#bfd3df"/>
<path d="M1 15h4.2v1.3h-4.2z" fill="#2b84bd"/>
<path d="M5 15h1.2v1.3h-1.2z" fill="#4090bf"/>
<path d="M6 15h1.2v1.3h-1.2z" fill="#4d96c0"/>
<path d="M7 15h1.2v1.3h-1.2z" fill="#559bc1"/>
<path d="M8 15h1.2v1.3h-1.2z" fill="#5e9fc2"/>
<path d="M9 15h1.2v1.3h-1.2z" fill="#6ba6c5"/>
<path d="M10 15h1.2v1.3h-1.2z" fill="#559bc1"/>
<path d="M11 15h1.2v1.3h-1.2z" fill="#1369be"/>
<path d="M12 15h1.2v1.3h-1.2z" fill="#293891"/>
<path d="M13 15h2.2v1.3h-2.2z" fill="#1e2359"/>
<path d="M15 15h1.2v1.3h-1.2z" fill="#293891"/>
<path d="M16 15h6.2v1.3h-6.2z" fill="#2549af"/>
<path d="M0 16h1.2v1.3h-1.2z" fill="#96bace"/>
<path d="M1 16h2.2v1.3h-2.2z" fill="#1a5dbb"/>
<path d="M3 16h1.2v1.3h-1.2z" fill="#1369be"/>
<path d="M4 16h1.2v1.3h-1.2z" fill="#2b84bd"/>
<path d="M5 16h1.2v1.3h-1.2z" fill="#4090bf"/>
<path d="M6 16h1.2v1.3h-1.2z" fill="#4d96c0"/>
<path d="M7 16h1.2v1.3h-1.2z" fill="#559bc1"/>
<path d="M8 16h1.2v1.3h-1.2z" fill="#5e9fc2"/>
<path d="M9 16h1.2v1.3h-1.2z" fill="#6ba6c5"/>
<path d="M10 16h1.2v1.3h-1.2z" fill="#4d96c0"/>
<path d="M11 16h1.2v1.3h-1.2z" fill="#1369be"/>
<path d="M12 16h1.2v1.3h-1.2z" fill="#273281"/>
<path d="M13 16h2.2v1.3h-2.2z" fill="#181c43"/>
<path d="M15 16h1.2v1.3h-1.2z" fill="#28358a"/>
<path d="M16 16h6.2v1.3h-6.2z" fill="#2549af"/>
<path d="M0 17h1.2v1.3h-1.2z" fill="#96bace"/>
<path d="M1 17h2.2v1.3h-2.2z" fill="#1a5dbb"/>
<path d="M3 17h1.2v1.3h-1.2z" fill="#1369be"/>
<path d="M4 17h1.2v1.3h-1.2z" fill="#2b84bd"/>
<path d="M5 17h1.2v1.3h-1.2z" fill="#4090bf"/>
<path d="M6 17h1.2v1.3h-1.2z" fill="#4d96c0"/>
<path d="M7 17h1.2v1.3h-1.2z" fill="#559bc1"/>
<path d="M8 17h1.2v1.3h-1.2z" fill="#5e9fc2"/>
<path d="M9 17h1.2v1.3h-1.2z" fill="#6ba6c5"/>
<path d="M10 17h1.2v1.3h-1.2z" fill="#4090bf"/>
<path d="M11 17h1.2v1.3h-1.2z" fill="#1369be"/>
<path d="M12 17h1.2v1.3h-1.2z" fill="#273281"/>
<path d="M13 17h1.2v1.3h-1.2z" fill="#181c43"/>
<path d="M14 17h1.2v1.3h-1.2z" fill="#1e2359"/>
<path d="M15 17h1.2v1.3h-1.2z" fill="#28358a"/>
<path d="M16 17h6.2v1.3h-6.2z" fill="#293a97"/>
<path d="M0 18h1.2v1.3h-1.2z" fill="#96bace"/>
<path d="M1 18h1.2v1.3h-1.2z" fill="#1a5dbb"/>
<path d="M2 18h1.2v1.3h-1.2z" fill="#1e55ba"/>
<path d="M3 18h1.2v1.3h-1.2z" fill="#1a5dbb"/>
<path d="M4 18h1.2v1.3h-1.2z" fill="#1c77be"/>
<path d="M5 18h1.2v1.3h-1.2z" fill="#4090bf"/>
<path d="M6 18h1.2v1.3h-1.2z" fill="#4d96c0"/>
<path d="M7 18h1.2v1.3h-1.2z" fill="#559bc1"/>
<path d="M8 18h1.2v1.3h-1.2z" fill="#5e9fc2"/>
<path d="M9 18h1.2v1.3h-1.2z" fill="#6ba6c5"/>
<path d="M10 18h1.2v1.3h-1.2z" fill="#4090bf"/>
<path d="M11 18h1.2v1.3h-1.2z" fill="#1664bd"/>
<path d="M12 18h1.2v1.3h-1.2z" fill="#1e2359"/>
<path d="M13 18h1.2v1.3h-1.2z" fill="#181c43"/>
<path d="M14 18h1.2v1.3h-1.2z" fill="#1a1f4c"/>
<path d="M15 18h1.2v1.3h-1.2z" fill="#242b70"/>
<path d="M16 18h1.2v1.3h-1.2z" fill="#28358a"/>
<path d="M17 18h5.2v1.3h-5.2z" fill="#293891"/>
<path d="M0 19h1.2v1.3h-1.2z" fill="#abc6d7"/>
<path d="M1 19h1.2v1.3h-1.2z" fill="#2150b9"/>
<path d="M2 19h2.2v1.3h-2.2z" fill="#1e2359"/>
<path d="M4 19h1.2v1.3h-1.2z" fill="#2150b9"/>
<path d="M5 19h1.2v1.3h-1.2z" fill="#2b84bd"/>
<path d="M6 19h1.2v1.3h-1.2z" fill="#4090bf"/>
<path d="M7 19h1.2v1.3h-1.2z" fill="#4d96c0"/>
<path d="M8 19h1.2v1.3h-1.2z" fill="#559bc1"/>
<path d="M9 19h1.2v1.3h-1.2z" fill="#5e9fc2"/>
<path d="M10 19h1.2v1.3h-1.2z" fill="#4090bf"/>
<path d="M11 19h1.2v1.3h-1.2z" fill="#1a5dbb"/>
<path d="M12 19h1.2v1.3h-1.2z" fill="#1a1f4c"/>
<path d="M13 19h2.2v1.3h-2.2z" fill="#181c43"/>
<path d="M15 19h1.2v1.3h-1.2z" fill="#1e2359"/>
<path d="M16 19h1.2v1.3h-1.2z" fill="#273281"/>
<path d="M17 19h5.2v1.3h-5.2z" fill="#293891"/>
<path d="M0 20h1.2v1.3h-1.2z" fill="#d3dee7"/>
<path d="M1 20h1.2v1.3h-1.2z" fill="#1369be"/>
<path d="M2 20h2.2v1.3h-2.2z" fill="#1a5dbb"/>
<path d="M4 20h1.2v1.3h-1.2z" fill="#1369be"/>
<path d="M5 20h1.2v1.3h-1.2z" fill="#1c77be"/>
<path d="M6 20h3.2v1.3h-3.2z" fill="#2b84bd"/>
<path d="M9 20h1.2v1.3h-1.2z" fill="#3389be"/>
<path d="M10 20h1.2v1.3h-1.2z" fill="#2b84bd"/>
<path d="M11 20h1.2v1.3h-1.2z" fill="#1664bd"/>
<path d="M12 20h1.2v1.3h-1.2z" fill="#2549af"/>
<path d="M13 20h2.2v1.3h-2.2z" fill="#2a3ea0"/>
<path d="M15 20h1.2v1.3h-1.2z" fill="#2549af"/>
<path d="M16 20h6.2v1.3h-6.2z" fill="#2150b9"/>
</g></g>
<g clip-path="url(#c22)" fill="none" stroke="#808080" stroke-width="1.1" stroke-linejoin="round">
<path d="M332.8 350.6L328.0 347.3L332.8 343.7L338.8 344.1L343.5 347.3L338.8 350.6L332.8 350.6M398.6 352.2L392.6 351.6L388.5 347.3L389.0 342.5L390.2 337.6L390.2 332.7L391.1 327.9L398.6 325.9L404.6 325.9L410.6 327.2L414.3 327.9L414.8 332.7L416.6 335.2L418.8 335.2M438.3 335.2L446.5 335.2M446.5 349.8L432.3 349.8M412.8 351.2L404.6 352.2" stroke-dasharray="3,1.6"/>
<path d="M324.5 340.0L324.5 332.7L326.8 327.9L344.7 327.9L344.7 337.6L350.7 347.3L356.7 352.2L368.7 352.2M380.7 352.2L382.1 347.3L382.2 345.7M382.3 344.1L382.6 337.6L383.3 332.7L383.6 327.9M385.9 326.6L386.6 326.2L398.6 323.5L404.6 323.5L410.6 324.2L416.6 324.5L446.5 324.5M356.7 293.8L356.7 284.0L362.7 282.4L364.1 284.0L364.1 288.9L362.7 291.8L356.7 293.8M362.7 274.3L362.7 269.4L362.7 274.3" stroke-dasharray="3,1.6"/>
<path d="M322.6 352.2L321.4 347.3L320.8 342.5M320.8 332.7L322.5 327.9L326.8 325.6L344.7 325.4L350.7 324.0L353.7 323.0L353.7 318.1L354.5 316.0M363.8 301.7L364.9 303.5L364.9 313.2L364.7 318.1L362.7 323.0L368.7 325.1L374.7 326.2L380.7 325.4L386.6 322.2L392.6 321.5L396.5 318.1L398.6 315.2L404.6 315.2L410.6 315.9L416.6 316.2L422.6 316.2L428.5 315.9L446.5 315.9M446.5 309.0L422.6 308.9L410.6 309.0L404.6 311.9L398.6 311.9L392.6 308.9L392.5 308.4L392.6 308.1L398.6 305.7L404.6 304.8L410.6 307.4L446.5 307.4M356.7 297.8L354.4 293.8L354.4 284.0L356.7 281.0L362.7 279.7L366.4 284.0L366.4 288.9L364.9 293.8L362.7 297.4L359.7 297.6M356.7 275.5L356.2 274.3L356.2 269.4L356.7 268.6L362.7 265.9L365.4 269.4L365.4 274.3L362.7 278.3L356.7 275.5" stroke-dasharray="3,1.6"/>
<path d="M320.8 323.8L326.8 323.3L338.8 323.3L344.7 323.0L345.3 318.1L349.0 313.2L350.7 303.5L353.3 298.6L352.1 293.8L352.1 284.0L354.7 279.2L353.4 274.3L353.7 269.4L356.7 264.5L362.7 261.6L366.0 264.5L368.1 269.4L368.1 274.3L367.5 279.2L368.3 282.6M368.7 294.6L368.7 318.1L374.7 322.0L380.7 321.6L386.6 318.1L388.9 313.2L388.3 308.4L386.6 303.5L392.6 301.2L404.6 298.6L410.6 295.8L416.6 295.4L422.6 295.4L440.5 294.6L446.5 294.6"/>
<path d="M320.8 318.1L326.8 317.3L331.3 317.0L338.8 316.9L342.0 313.2L343.7 303.5L348.7 298.6L349.4 293.8L349.7 284.0L351.2 269.4L352.4 264.5L355.5 259.7L355.7 254.8M372.1 254.8L372.1 264.5L372.7 269.4L372.3 274.3L371.3 279.2L371.7 284.0L372.4 288.9L372.4 293.8L374.7 298.6L377.7 303.5L374.7 307.6L374.4 308.4L374.4 313.2L374.7 314.2L379.5 318.1L380.7 318.2L380.9 318.1L382.4 313.2L382.4 308.4L381.7 303.5L383.9 298.6L386.6 295.1L392.6 295.0L398.6 293.8L402.6 291.6M418.8 287.0L440.5 286.5L446.5 286.5"/>
<path d="M320.8 303.5L338.8 303.5L341.7 298.6L344.7 297.0L346.1 293.8L346.9 288.9L347.2 284.0L348.2 279.2L348.7 269.4L348.7 264.5L350.3 259.7L350.7 254.8M375.7 275.0L374.7 279.2L374.7 284.0L380.7 288.9L386.6 287.3L392.6 287.3L410.6 282.4L422.6 280.3L428.5 279.8L434.5 279.8L446.5 280.7"/>
<path d="M320.8 293.8L332.8 293.8L338.0 292.9M345.3 281.9L346.0 279.2L346.2 269.4L345.4 264.5L348.0 259.7L348.2 254.8M378.4 254.8L378.2 274.3L378.9 279.2L380.7 281.6L386.6 280.7L392.6 280.4L398.6 279.8L400.9 279.2L404.6 277.5L409.2 274.3L410.6 272.5L416.0 268.0"/>
</g>
<g clip-path="url(#c22)" font-size="7.2" fill="#000" text-anchor="middle">
<text transform="translate(375.5,266.7) rotate(85)" y="2.5" textLength="15.1" lengthAdjust="spacingAndGlyphs">0.50</text>
<text transform="translate(419.2,266.7) rotate(80)" y="2.5" textLength="15.1" lengthAdjust="spacingAndGlyphs">0.75</text>
<text transform="translate(410.3,288.7) rotate(-10)" y="2.5" textLength="15.1" lengthAdjust="spacingAndGlyphs">0.25</text>
<text transform="translate(342.3,289.5) rotate(-75)" y="2.5" textLength="15.1" lengthAdjust="spacingAndGlyphs">0.75</text>
<text transform="translate(370.9,290.9) rotate(70)" y="2.5" textLength="15.1" lengthAdjust="spacingAndGlyphs">0.00</text>
<text transform="translate(357.5,306.9) rotate(-65)" y="2.5" textLength="17.6" lengthAdjust="spacingAndGlyphs">-0.25</text>
<text transform="translate(394.3,319.0) rotate(-35)" y="2.5" textLength="15.1" lengthAdjust="spacingAndGlyphs">0.25</text>
<text transform="translate(327.3,341.8) rotate(-65)" y="2.5" textLength="17.6" lengthAdjust="spacingAndGlyphs">-0.50</text>
<text transform="translate(386.2,336.4) rotate(-85)" y="2.5" textLength="17.6" lengthAdjust="spacingAndGlyphs">-0.50</text>
<text transform="translate(428.6,334.3) rotate(-5)" y="2.5" textLength="17.6" lengthAdjust="spacingAndGlyphs">-0.75</text>
<text transform="translate(422.7,349.0) rotate(0)" y="2.5" textLength="17.6" lengthAdjust="spacingAndGlyphs">-0.75</text>
</g>
<rect x="317.8" y="254.8" width="128.7" height="97.4" fill="none" stroke="#000" stroke-width="0.8"/>
<path d="M446.50,352.20v3.5 M440.51,352.20v2.0 M434.53,352.20v2.0 M428.54,352.20v2.0 M422.56,352.20v3.5 M416.57,352.20v2.0 M410.58,352.20v2.0 M404.60,352.20v2.0 M398.61,352.20v3.5 M392.63,352.20v2.0 M386.64,352.20v2.0 M380.65,352.20v2.0 M374.67,352.20v3.5 M368.68,352.20v2.0 M362.70,352.20v2.0 M356.71,352.20v2.0 M350.72,352.20v3.5 M344.74,352.20v2.0 M338.75,352.20v2.0 M332.77,352.20v2.0 M326.78,352.20v3.5 M320.79,352.20v2.0 M317.80,352.20h-3.5 M317.80,350.25h-2.0 M317.80,348.30h-2.0 M317.80,346.36h-2.0 M317.80,344.41h-2.0 M317.80,342.46h-3.5 M317.80,340.51h-2.0 M317.80,338.56h-2.0 M317.80,336.62h-2.0 M317.80,334.67h-2.0 M317.80,332.72h-3.5 M317.80,330.77h-2.0 M317.80,328.82h-2.0 M317.80,326.88h-2.0 M317.80,324.93h-2.0 M317.80,322.98h-3.5 M317.80,321.03h-2.0 M317.80,319.08h-2.0 M317.80,317.14h-2.0 M317.80,315.19h-2.0 M317.80,313.24h-3.5 M317.80,311.29h-2.0 M317.80,309.34h-2.0 M317.80,307.40h-2.0 M317.80,305.45h-2.0 M317.80,303.50h-3.5 M317.80,301.55h-2.0 M317.80,299.60h-2.0 M317.80,297.66h-2.0 M317.80,295.71h-2.0 M317.80,293.76h-3.5 M317.80,291.81h-2.0 M317.80,289.86h-2.0 M317.80,287.92h-2.0 M317.80,285.97h-2.0 M317.80,284.02h-3.5 M317.80,282.07h-2.0 M317.80,280.12h-2.0 M317.80,278.18h-2.0 M317.80,276.23h-2.0 M317.80,274.28h-3.5 M317.80,272.33h-2.0 M317.80,270.38h-2.0 M317.80,268.44h-2.0 M317.80,266.49h-2.0 M317.80,264.54h-3.5 M317.80,262.59h-2.0 M317.80,260.64h-2.0 M317.80,258.70h-2.0 M317.80,256.75h-2.0 M317.80,254.80h-3.5" stroke="#000" stroke-width="0.8" fill="none"/>
<text x="323.00" y="263.70" font-size="9.6" text-anchor="start" fill="#fff" font-weight="bold" textLength="11.31" lengthAdjust="spacingAndGlyphs">(i)</text>
<text x="40.40" y="132.90" font-size="9.2" text-anchor="end" fill="#000" textLength="5.44" lengthAdjust="spacingAndGlyphs">0</text>
<text x="40.40" y="123.16" font-size="9.2" text-anchor="end" fill="#000" textLength="16.32" lengthAdjust="spacingAndGlyphs">100</text>
<text x="40.40" y="113.42" font-size="9.2" text-anchor="end" fill="#000" textLength="16.32" lengthAdjust="spacingAndGlyphs">200</text>
<text x="40.40" y="103.68" font-size="9.2" text-anchor="end" fill="#000" textLength="16.32" lengthAdjust="spacingAndGlyphs">300</text>
<text x="40.40" y="93.94" font-size="9.2" text-anchor="end" fill="#000" textLength="16.32" lengthAdjust="spacingAndGlyphs">400</text>
<text x="40.40" y="84.20" font-size="9.2" text-anchor="end" fill="#000" textLength="16.32" lengthAdjust="spacingAndGlyphs">500</text>
<text x="40.40" y="74.46" font-size="9.2" text-anchor="end" fill="#000" textLength="16.32" lengthAdjust="spacingAndGlyphs">700</text>
<text x="40.40" y="64.72" font-size="9.2" text-anchor="end" fill="#000" textLength="16.32" lengthAdjust="spacingAndGlyphs">900</text>
<text x="40.40" y="54.98" font-size="9.2" text-anchor="end" fill="#000" textLength="21.76" lengthAdjust="spacingAndGlyphs">1100</text>
<text x="40.40" y="45.24" font-size="9.2" text-anchor="end" fill="#000" textLength="21.76" lengthAdjust="spacingAndGlyphs">1300</text>
<text x="40.40" y="35.50" font-size="9.2" text-anchor="end" fill="#000" textLength="21.76" lengthAdjust="spacingAndGlyphs">1500</text>
<text x="12.40" y="81.00" font-size="10.1" text-anchor="middle" fill="#000" transform="rotate(-90 12.40 81.00)" textLength="64.20" lengthAdjust="spacingAndGlyphs">Meters A.G.L.</text>
<text x="49.00" y="29.50" font-size="8.2" text-anchor="start" fill="#000" font-weight="bold" textLength="177.00" lengthAdjust="spacingAndGlyphs">Moving Average Time Window Size:&#160; 9.0 h</text>
<text x="40.40" y="244.00" font-size="9.2" text-anchor="end" fill="#000" textLength="5.44" lengthAdjust="spacingAndGlyphs">0</text>
<text x="40.40" y="234.26" font-size="9.2" text-anchor="end" fill="#000" textLength="16.32" lengthAdjust="spacingAndGlyphs">100</text>
<text x="40.40" y="224.52" font-size="9.2" text-anchor="end" fill="#000" textLength="16.32" lengthAdjust="spacingAndGlyphs">200</text>
<text x="40.40" y="214.78" font-size="9.2" text-anchor="end" fill="#000" textLength="16.32" lengthAdjust="spacingAndGlyphs">300</text>
<text x="40.40" y="205.04" font-size="9.2" text-anchor="end" fill="#000" textLength="16.32" lengthAdjust="spacingAndGlyphs">400</text>
<text x="40.40" y="195.30" font-size="9.2" text-anchor="end" fill="#000" textLength="16.32" lengthAdjust="spacingAndGlyphs">500</text>
<text x="40.40" y="185.56" font-size="9.2" text-anchor="end" fill="#000" textLength="16.32" lengthAdjust="spacingAndGlyphs">700</text>
<text x="40.40" y="175.82" font-size="9.2" text-anchor="end" fill="#000" textLength="16.32" lengthAdjust="spacingAndGlyphs">900</text>
<text x="40.40" y="166.08" font-size="9.2" text-anchor="end" fill="#000" textLength="21.76" lengthAdjust="spacingAndGlyphs">1100</text>
<text x="40.40" y="156.34" font-size="9.2" text-anchor="end" fill="#000" textLength="21.76" lengthAdjust="spacingAndGlyphs">1300</text>
<text x="40.40" y="146.60" font-size="9.2" text-anchor="end" fill="#000" textLength="21.76" lengthAdjust="spacingAndGlyphs">1500</text>
<text x="12.40" y="192.10" font-size="10.1" text-anchor="middle" fill="#000" transform="rotate(-90 12.40 192.10)" textLength="64.20" lengthAdjust="spacingAndGlyphs">Meters A.G.L.</text>
<text x="49.00" y="140.60" font-size="8.2" text-anchor="start" fill="#000" font-weight="bold" textLength="178.10" lengthAdjust="spacingAndGlyphs">Moving Average Time Window Size: 10.5 h</text>
<text x="40.40" y="355.40" font-size="9.2" text-anchor="end" fill="#000" textLength="5.44" lengthAdjust="spacingAndGlyphs">0</text>
<text x="40.40" y="345.66" font-size="9.2" text-anchor="end" fill="#000" textLength="16.32" lengthAdjust="spacingAndGlyphs">100</text>
<text x="40.40" y="335.92" font-size="9.2" text-anchor="end" fill="#000" textLength="16.32" lengthAdjust="spacingAndGlyphs">200</text>
<text x="40.40" y="326.18" font-size="9.2" text-anchor="end" fill="#000" textLength="16.32" lengthAdjust="spacingAndGlyphs">300</text>
<text x="40.40" y="316.44" font-size="9.2" text-anchor="end" fill="#000" textLength="16.32" lengthAdjust="spacingAndGlyphs">400</text>
<text x="40.40" y="306.70" font-size="9.2" text-anchor="end" fill="#000" textLength="16.32" lengthAdjust="spacingAndGlyphs">500</text>
<text x="40.40" y="296.96" font-size="9.2" text-anchor="end" fill="#000" textLength="16.32" lengthAdjust="spacingAndGlyphs">700</text>
<text x="40.40" y="287.22" font-size="9.2" text-anchor="end" fill="#000" textLength="16.32" lengthAdjust="spacingAndGlyphs">900</text>
<text x="40.40" y="277.48" font-size="9.2" text-anchor="end" fill="#000" textLength="21.76" lengthAdjust="spacingAndGlyphs">1100</text>
<text x="40.40" y="267.74" font-size="9.2" text-anchor="end" fill="#000" textLength="21.76" lengthAdjust="spacingAndGlyphs">1300</text>
<text x="40.40" y="258.00" font-size="9.2" text-anchor="end" fill="#000" textLength="21.76" lengthAdjust="spacingAndGlyphs">1500</text>
<text x="12.40" y="303.50" font-size="10.1" text-anchor="middle" fill="#000" transform="rotate(-90 12.40 303.50)" textLength="64.20" lengthAdjust="spacingAndGlyphs">Meters A.G.L.</text>
<text x="49.00" y="252.00" font-size="8.2" text-anchor="start" fill="#000" font-weight="bold" textLength="178.10" lengthAdjust="spacingAndGlyphs">Moving Average Time Window Size: 12.0 h</text>
<text x="57.08" y="366.70" font-size="9.2" text-anchor="middle" fill="#000" textLength="10.88" lengthAdjust="spacingAndGlyphs">10</text>
<text x="81.02" y="366.70" font-size="9.2" text-anchor="middle" fill="#000" textLength="5.44" lengthAdjust="spacingAndGlyphs">8</text>
<text x="104.97" y="366.70" font-size="9.2" text-anchor="middle" fill="#000" textLength="5.44" lengthAdjust="spacingAndGlyphs">6</text>
<text x="128.91" y="366.70" font-size="9.2" text-anchor="middle" fill="#000" textLength="5.44" lengthAdjust="spacingAndGlyphs">4</text>
<text x="152.86" y="366.70" font-size="9.2" text-anchor="middle" fill="#000" textLength="5.44" lengthAdjust="spacingAndGlyphs">2</text>
<text x="176.80" y="366.70" font-size="9.2" text-anchor="middle" fill="#000" textLength="5.44" lengthAdjust="spacingAndGlyphs">0</text>
<text x="112.45" y="380.60" font-size="10.1" text-anchor="middle" fill="#000" textLength="53.67" lengthAdjust="spacingAndGlyphs">Lead Hours</text>
<text x="112.45" y="13.20" font-size="11.0" text-anchor="middle" fill="#000" textLength="27.37" lengthAdjust="spacingAndGlyphs">ERA5</text>
<text x="191.93" y="366.70" font-size="9.2" text-anchor="middle" fill="#000" textLength="10.88" lengthAdjust="spacingAndGlyphs">10</text>
<text x="215.87" y="366.70" font-size="9.2" text-anchor="middle" fill="#000" textLength="5.44" lengthAdjust="spacingAndGlyphs">8</text>
<text x="239.82" y="366.70" font-size="9.2" text-anchor="middle" fill="#000" textLength="5.44" lengthAdjust="spacingAndGlyphs">6</text>
<text x="263.76" y="366.70" font-size="9.2" text-anchor="middle" fill="#000" textLength="5.44" lengthAdjust="spacingAndGlyphs">4</text>
<text x="287.71" y="366.70" font-size="9.2" text-anchor="middle" fill="#000" textLength="5.44" lengthAdjust="spacingAndGlyphs">2</text>
<text x="311.65" y="366.70" font-size="9.2" text-anchor="middle" fill="#000" textLength="5.44" lengthAdjust="spacingAndGlyphs">0</text>
<text x="247.30" y="380.60" font-size="10.1" text-anchor="middle" fill="#000" textLength="53.67" lengthAdjust="spacingAndGlyphs">Lead Hours</text>
<text x="247.30" y="13.20" font-size="11.0" text-anchor="middle" fill="#000" textLength="61.11" lengthAdjust="spacingAndGlyphs">TCKF1D-Var</text>
<text x="326.78" y="366.70" font-size="9.2" text-anchor="middle" fill="#000" textLength="10.88" lengthAdjust="spacingAndGlyphs">10</text>
<text x="350.72" y="366.70" font-size="9.2" text-anchor="middle" fill="#000" textLength="5.44" lengthAdjust="spacingAndGlyphs">8</text>
<text x="374.67" y="366.70" font-size="9.2" text-anchor="middle" fill="#000" textLength="5.44" lengthAdjust="spacingAndGlyphs">6</text>
<text x="398.61" y="366.70" font-size="9.2" text-anchor="middle" fill="#000" textLength="5.44" lengthAdjust="spacingAndGlyphs">4</text>
<text x="422.56" y="366.70" font-size="9.2" text-anchor="middle" fill="#000" textLength="5.44" lengthAdjust="spacingAndGlyphs">2</text>
<text x="446.50" y="366.70" font-size="9.2" text-anchor="middle" fill="#000" textLength="5.44" lengthAdjust="spacingAndGlyphs">0</text>
<text x="382.15" y="380.60" font-size="10.1" text-anchor="middle" fill="#000" textLength="53.67" lengthAdjust="spacingAndGlyphs">Lead Hours</text>
<text x="382.15" y="13.20" font-size="11.0" text-anchor="middle" fill="#000" textLength="35.06" lengthAdjust="spacingAndGlyphs">1D-Var</text>
<rect x="451.3" y="29.2" width="5.199999999999989" height="326.40000000000003" fill="url(#cb)" stroke="#000" stroke-width="0.8"/>
<text x="463.40" y="31.80" font-size="7.5" text-anchor="start" fill="#000" textLength="15.25" lengthAdjust="spacingAndGlyphs">1.00</text>
<text x="463.40" y="72.60" font-size="7.5" text-anchor="start" fill="#000" textLength="15.25" lengthAdjust="spacingAndGlyphs">0.75</text>
<text x="463.40" y="113.40" font-size="7.5" text-anchor="start" fill="#000" textLength="15.25" lengthAdjust="spacingAndGlyphs">0.50</text>
<text x="463.40" y="154.20" font-size="7.5" text-anchor="start" fill="#000" textLength="15.25" lengthAdjust="spacingAndGlyphs">0.25</text>
<text x="463.40" y="195.00" font-size="7.5" text-anchor="start" fill="#000" textLength="15.25" lengthAdjust="spacingAndGlyphs">0.00</text>
<text x="463.40" y="235.80" font-size="7.5" text-anchor="start" fill="#000" textLength="20.99" lengthAdjust="spacingAndGlyphs">−0.25</text>
<text x="463.40" y="276.60" font-size="7.5" text-anchor="start" fill="#000" textLength="20.99" lengthAdjust="spacingAndGlyphs">−0.50</text>
<text x="463.40" y="317.40" font-size="7.5" text-anchor="start" fill="#000" textLength="20.99" lengthAdjust="spacingAndGlyphs">−0.75</text>
<text x="463.40" y="358.20" font-size="7.5" text-anchor="start" fill="#000" textLength="20.99" lengthAdjust="spacingAndGlyphs">−1.00</text>
<path d="M456.5,29.20h3.5 M456.5,70.00h3.5 M456.5,110.80h3.5 M456.5,151.60h3.5 M456.5,192.40h3.5 M456.5,233.20h3.5 M456.5,274.00h3.5 M456.5,314.80h3.5 M456.5,355.60h3.5" stroke="#000" stroke-width="0.8" fill="none"/>
<text x="493.60" y="192.40" font-size="8.1" text-anchor="middle" fill="#000" transform="rotate(-90 493.60 192.40)" textLength="162.28" lengthAdjust="spacingAndGlyphs">Virtual Potential Temperature Anomaly (K)</text>
</svg>
</body></html>
